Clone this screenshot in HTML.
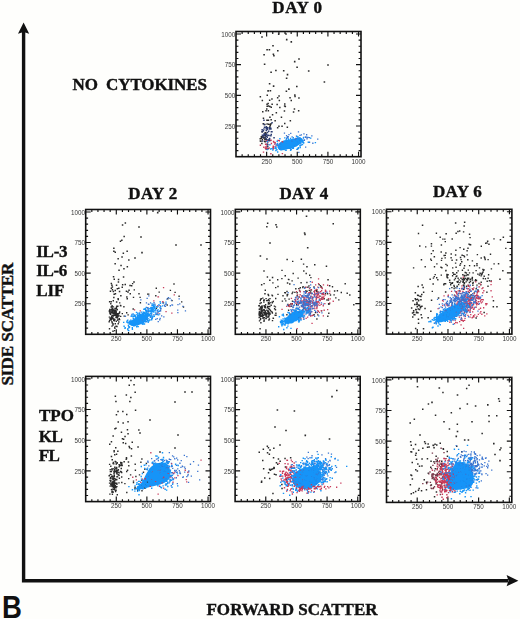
<!DOCTYPE html>
<html><head><meta charset="utf-8"><style>
html,body{margin:0;padding:0;background:#fefefc;width:520px;height:619px;overflow:hidden}
svg{display:block}
.tl{font-family:"Liberation Sans",sans-serif;font-size:6.3px;fill:#383838}
.lb{font-family:"Liberation Serif",serif;font-weight:bold;fill:#111;stroke:#111;stroke-width:0.4px}
</style></head><body>
<svg width="520" height="619" viewBox="0 0 520 619">
<defs><filter id="bl" x="0" y="0" width="1" height="1"><feGaussianBlur stdDeviation="0.35"/></filter></defs>
<g filter="url(#bl)">
<path d="M277.5 147.5C277.2 146.4 277.9 144.7 279 143.5C280.1 142.3 281.8 141.2 284 140.5C286.2 139.8 289.3 139.4 292 139C294.7 138.6 298.2 137.7 300 137.8C301.8 137.9 302.3 138.6 302.5 139.5C302.7 140.4 302.1 141.8 301 143C299.9 144.2 298.2 145.5 296 146.5C293.8 147.5 290.5 148.4 288 149C285.5 149.6 282.8 150.6 281 150.3C279.2 150.1 277.8 148.6 277.5 147.5Z" fill="#1494f8"/>
<path fill="#2b2b2b" d="M268.8 83.0h1.6v1.6h-1.6zM272.2 45.0h1.6v1.6h-1.6zM290.5 41.1h1.6v1.6h-1.6zM285.9 38.8h1.6v1.6h-1.6zM275.1 69.7h1.6v1.6h-1.6zM272.8 85.3h1.6v1.6h-1.6zM282.9 69.9h1.6v1.6h-1.6zM267.3 90.1h1.6v1.6h-1.6zM285.8 77.4h1.6v1.6h-1.6zM296.0 85.7h1.6v1.6h-1.6zM269.6 89.9h1.6v1.6h-1.6zM296.3 66.5h1.6v1.6h-1.6zM285.6 90.4h1.6v1.6h-1.6zM263.8 63.4h1.6v1.6h-1.6zM277.0 49.9h1.6v1.6h-1.6zM293.9 60.8h1.6v1.6h-1.6zM286.7 73.8h1.6v1.6h-1.6zM272.6 53.4h1.6v1.6h-1.6zM288.1 88.3h1.6v1.6h-1.6zM268.6 48.9h1.6v1.6h-1.6zM263.3 53.9h1.6v1.6h-1.6zM266.3 49.0h1.6v1.6h-1.6zM273.1 54.9h1.6v1.6h-1.6zM277.9 33.5h1.6v1.6h-1.6zM270.3 71.5h1.6v1.6h-1.6zM327.2 64.2h1.6v1.6h-1.6zM323.6 81.2h1.6v1.6h-1.6zM307.9 70.2h1.6v1.6h-1.6zM298.2 58.2h1.6v1.6h-1.6zM261.2 36.2h1.6v1.6h-1.6zM285.2 33.2h1.6v1.6h-1.6z"/>
<path fill="#2b2b2b" d="M270.5 106.4h1.5v1.5h-1.5zM262.0 111.0h1.5v1.5h-1.5zM283.9 105.3h1.5v1.5h-1.5zM266.3 103.6h1.5v1.5h-1.5zM271.4 103.6h1.5v1.5h-1.5zM276.9 97.1h1.5v1.5h-1.5zM265.3 110.1h1.5v1.5h-1.5zM268.0 123.4h1.5v1.5h-1.5zM278.2 125.5h1.5v1.5h-1.5zM278.3 95.2h1.5v1.5h-1.5zM269.5 124.5h1.5v1.5h-1.5zM271.2 98.3h1.5v1.5h-1.5zM270.4 118.9h1.5v1.5h-1.5zM269.7 123.8h1.5v1.5h-1.5zM278.6 99.8h1.5v1.5h-1.5zM267.7 105.2h1.5v1.5h-1.5zM279.1 106.7h1.5v1.5h-1.5zM269.1 105.7h1.5v1.5h-1.5zM292.8 111.3h1.5v1.5h-1.5zM266.5 94.5h1.5v1.5h-1.5zM293.7 108.2h1.5v1.5h-1.5zM266.4 123.2h1.5v1.5h-1.5zM289.3 97.1h1.5v1.5h-1.5zM283.7 110.2h1.5v1.5h-1.5zM267.6 110.1h1.5v1.5h-1.5zM289.6 120.1h1.5v1.5h-1.5zM269.2 126.1h1.5v1.5h-1.5zM262.7 117.6h1.5v1.5h-1.5zM284.0 103.3h1.5v1.5h-1.5zM280.7 116.4h1.5v1.5h-1.5zM284.6 105.7h1.5v1.5h-1.5zM266.2 119.6h1.5v1.5h-1.5zM269.2 116.6h1.5v1.5h-1.5zM286.6 126.5h1.5v1.5h-1.5zM262.5 122.9h1.5v1.5h-1.5zM294.3 95.8h1.5v1.5h-1.5zM276.4 103.8h1.5v1.5h-1.5zM284.0 122.7h1.5v1.5h-1.5zM271.8 114.1h1.5v1.5h-1.5zM266.4 105.6h1.5v1.5h-1.5zM259.6 96.1h1.5v1.5h-1.5zM267.7 119.4h1.5v1.5h-1.5zM294.1 94.3h1.5v1.5h-1.5zM298.2 97.3h1.5v1.5h-1.5zM276.9 127.0h1.5v1.5h-1.5zM274.4 119.9h1.5v1.5h-1.5zM270.3 122.9h1.5v1.5h-1.5zM297.9 110.0h1.5v1.5h-1.5zM261.6 99.8h1.5v1.5h-1.5zM275.6 111.9h1.5v1.5h-1.5zM266.0 108.3h1.5v1.5h-1.5zM268.9 99.6h1.5v1.5h-1.5zM290.5 99.7h1.5v1.5h-1.5zM267.4 102.8h1.5v1.5h-1.5zM281.3 125.4h1.5v1.5h-1.5zM265.2 132.7h1.5v1.5h-1.5zM264.4 136.7h1.5v1.5h-1.5zM261.6 138.8h1.5v1.5h-1.5zM265.6 138.6h1.5v1.5h-1.5zM265.2 132.3h1.5v1.5h-1.5zM259.6 140.2h1.5v1.5h-1.5zM264.1 138.6h1.5v1.5h-1.5zM264.4 141.0h1.5v1.5h-1.5zM264.7 133.8h1.5v1.5h-1.5zM263.8 140.5h1.5v1.5h-1.5zM260.2 140.4h1.5v1.5h-1.5zM262.2 135.9h1.5v1.5h-1.5zM262.4 136.5h1.5v1.5h-1.5zM266.8 146.0h1.5v1.5h-1.5zM264.1 123.7h1.5v1.5h-1.5zM264.4 132.0h1.5v1.5h-1.5zM261.7 130.7h1.5v1.5h-1.5zM260.7 137.4h1.5v1.5h-1.5zM260.6 135.9h1.5v1.5h-1.5zM263.0 137.2h1.5v1.5h-1.5zM261.1 142.8h1.5v1.5h-1.5zM261.5 131.1h1.5v1.5h-1.5zM265.0 135.0h1.5v1.5h-1.5zM259.5 138.1h1.5v1.5h-1.5z"/>
<path fill="#2a3a70" d="M261.4 128.9h1.5v1.5h-1.5zM262.7 129.9h1.5v1.5h-1.5zM265.5 129.7h1.5v1.5h-1.5zM267.1 139.2h1.5v1.5h-1.5zM265.7 133.6h1.5v1.5h-1.5zM266.0 135.4h1.5v1.5h-1.5zM263.4 123.7h1.5v1.5h-1.5zM263.2 128.2h1.5v1.5h-1.5zM269.7 139.8h1.5v1.5h-1.5zM265.6 126.0h1.5v1.5h-1.5zM265.5 140.3h1.5v1.5h-1.5zM269.0 127.1h1.5v1.5h-1.5zM270.1 135.0h1.5v1.5h-1.5zM270.2 128.2h1.5v1.5h-1.5zM267.2 134.4h1.5v1.5h-1.5zM265.6 127.9h1.5v1.5h-1.5zM266.8 131.7h1.5v1.5h-1.5zM266.4 143.3h1.5v1.5h-1.5zM270.6 131.0h1.5v1.5h-1.5zM266.8 145.5h1.5v1.5h-1.5zM268.0 130.5h1.5v1.5h-1.5zM265.7 126.2h1.5v1.5h-1.5zM270.5 133.7h1.5v1.5h-1.5zM267.1 143.8h1.5v1.5h-1.5zM268.4 138.4h1.5v1.5h-1.5zM261.7 140.3h1.5v1.5h-1.5zM273.3 137.0h1.5v1.5h-1.5zM265.2 148.1h1.5v1.5h-1.5zM265.2 138.0h1.5v1.5h-1.5zM262.0 136.4h1.5v1.5h-1.5zM268.8 128.3h1.5v1.5h-1.5zM266.5 127.8h1.5v1.5h-1.5zM263.7 134.4h1.5v1.5h-1.5zM266.5 139.2h1.5v1.5h-1.5zM268.2 140.0h1.5v1.5h-1.5zM270.0 127.6h1.5v1.5h-1.5zM266.5 136.4h1.5v1.5h-1.5zM262.4 134.4h1.5v1.5h-1.5zM263.8 126.5h1.5v1.5h-1.5zM263.2 119.6h1.5v1.5h-1.5zM268.3 134.8h1.5v1.5h-1.5zM267.4 148.1h1.5v1.5h-1.5zM265.4 127.1h1.5v1.5h-1.5zM264.6 133.4h1.5v1.5h-1.5zM271.3 121.9h1.5v1.5h-1.5zM266.7 128.7h1.5v1.5h-1.5zM268.9 137.8h1.5v1.5h-1.5zM267.1 127.0h1.5v1.5h-1.5zM263.4 133.0h1.5v1.5h-1.5zM271.2 131.1h1.5v1.5h-1.5zM261.4 131.0h1.5v1.5h-1.5zM261.6 134.4h1.5v1.5h-1.5zM264.2 136.2h1.5v1.5h-1.5z"/>
<path fill="#c83a5a" d="M263.1 146.5h1.4v1.4h-1.4zM272.5 145.5h1.4v1.4h-1.4zM272.3 147.1h1.4v1.4h-1.4zM266.0 147.9h1.4v1.4h-1.4zM259.7 144.6h1.4v1.4h-1.4zM279.9 145.1h1.4v1.4h-1.4zM273.1 146.1h1.4v1.4h-1.4zM272.8 140.7h1.4v1.4h-1.4zM270.7 142.7h1.4v1.4h-1.4zM270.3 139.6h1.4v1.4h-1.4zM275.3 145.3h1.4v1.4h-1.4zM270.2 153.1h1.4v1.4h-1.4zM266.5 147.9h1.4v1.4h-1.4zM274.6 142.3h1.4v1.4h-1.4zM270.7 142.8h1.4v1.4h-1.4zM265.7 148.7h1.4v1.4h-1.4zM264.9 143.6h1.4v1.4h-1.4zM277.3 139.7h1.4v1.4h-1.4zM274.1 141.7h1.4v1.4h-1.4zM282.2 141.6h1.4v1.4h-1.4zM267.1 141.7h1.4v1.4h-1.4zM265.8 147.7h1.4v1.4h-1.4zM272.7 145.5h1.4v1.4h-1.4zM278.6 140.1h1.4v1.4h-1.4zM273.9 143.4h1.4v1.4h-1.4zM272.9 141.3h1.4v1.4h-1.4zM281.6 141.1h1.4v1.4h-1.4zM265.8 140.0h1.4v1.4h-1.4zM262.8 151.4h1.4v1.4h-1.4zM265.8 144.2h1.4v1.4h-1.4zM268.4 147.3h1.4v1.4h-1.4zM272.5 148.3h1.4v1.4h-1.4zM276.4 144.0h1.4v1.4h-1.4zM272.7 147.2h1.4v1.4h-1.4zM279.4 147.2h1.4v1.4h-1.4zM265.3 146.1h1.4v1.4h-1.4zM281.7 152.9h1.4v1.4h-1.4zM265.4 146.3h1.4v1.4h-1.4zM277.3 144.5h1.4v1.4h-1.4zM264.7 147.6h1.4v1.4h-1.4z"/>
<path fill="#3a74d0" d="M312.2 142.6h1.3v1.3h-1.3zM303.3 133.2h1.3v1.3h-1.3zM291.2 140.4h1.3v1.3h-1.3zM287.1 136.8h1.3v1.3h-1.3zM287.9 145.2h1.3v1.3h-1.3zM288.3 133.9h1.3v1.3h-1.3zM298.5 137.4h1.3v1.3h-1.3zM302.8 137.5h1.3v1.3h-1.3zM275.3 143.4h1.3v1.3h-1.3zM296.8 148.7h1.3v1.3h-1.3zM286.6 147.2h1.3v1.3h-1.3zM300.7 134.2h1.3v1.3h-1.3zM305.0 146.4h1.3v1.3h-1.3zM287.6 135.9h1.3v1.3h-1.3zM290.1 132.7h1.3v1.3h-1.3zM285.9 134.9h1.3v1.3h-1.3zM299.0 139.5h1.3v1.3h-1.3zM281.5 144.0h1.3v1.3h-1.3zM283.8 132.4h1.3v1.3h-1.3zM289.6 142.1h1.3v1.3h-1.3zM306.0 136.4h1.3v1.3h-1.3zM317.1 138.4h1.3v1.3h-1.3zM295.3 137.8h1.3v1.3h-1.3zM285.1 144.8h1.3v1.3h-1.3zM296.4 141.5h1.3v1.3h-1.3zM286.8 136.1h1.3v1.3h-1.3zM300.4 144.3h1.3v1.3h-1.3zM285.6 141.9h1.3v1.3h-1.3zM292.6 142.8h1.3v1.3h-1.3zM296.1 144.3h1.3v1.3h-1.3zM299.3 134.7h1.3v1.3h-1.3zM294.6 139.1h1.3v1.3h-1.3zM306.0 134.1h1.3v1.3h-1.3zM295.8 135.4h1.3v1.3h-1.3zM279.5 143.2h1.3v1.3h-1.3zM303.8 139.2h1.3v1.3h-1.3zM293.7 145.0h1.3v1.3h-1.3zM290.4 145.9h1.3v1.3h-1.3zM308.7 136.9h1.3v1.3h-1.3zM286.0 137.6h1.3v1.3h-1.3zM298.2 151.8h1.3v1.3h-1.3zM290.5 148.9h1.3v1.3h-1.3zM307.3 136.8h1.3v1.3h-1.3zM291.5 136.3h1.3v1.3h-1.3zM297.1 137.3h1.3v1.3h-1.3zM283.2 142.6h1.3v1.3h-1.3zM308.9 141.6h1.3v1.3h-1.3zM286.5 144.8h1.3v1.3h-1.3zM303.7 139.6h1.3v1.3h-1.3zM305.0 136.6h1.3v1.3h-1.3zM306.4 138.1h1.3v1.3h-1.3zM311.2 135.3h1.3v1.3h-1.3zM285.0 141.5h1.3v1.3h-1.3zM298.8 138.3h1.3v1.3h-1.3zM296.9 141.2h1.3v1.3h-1.3zM297.8 131.3h1.3v1.3h-1.3zM304.8 136.3h1.3v1.3h-1.3zM296.1 138.0h1.3v1.3h-1.3zM287.3 136.2h1.3v1.3h-1.3zM294.4 138.8h1.3v1.3h-1.3z"/>
<path fill="#1494f8" d="M280.4 144.3h1.4v1.4h-1.4zM284.0 146.4h1.4v1.4h-1.4zM286.5 143.9h1.4v1.4h-1.4zM287.4 146.7h1.4v1.4h-1.4zM285.4 149.5h1.4v1.4h-1.4zM296.8 138.6h1.4v1.4h-1.4zM290.2 142.4h1.4v1.4h-1.4zM291.6 144.0h1.4v1.4h-1.4zM290.3 141.4h1.4v1.4h-1.4zM283.1 142.3h1.4v1.4h-1.4zM281.7 144.0h1.4v1.4h-1.4zM295.2 141.4h1.4v1.4h-1.4zM285.7 142.3h1.4v1.4h-1.4zM275.1 147.3h1.4v1.4h-1.4zM272.1 149.4h1.4v1.4h-1.4zM291.0 145.2h1.4v1.4h-1.4zM283.4 146.6h1.4v1.4h-1.4zM289.0 146.9h1.4v1.4h-1.4zM283.7 140.7h1.4v1.4h-1.4zM285.5 143.9h1.4v1.4h-1.4zM287.6 144.3h1.4v1.4h-1.4zM279.3 147.0h1.4v1.4h-1.4zM287.7 139.1h1.4v1.4h-1.4zM297.6 147.0h1.4v1.4h-1.4zM293.7 139.9h1.4v1.4h-1.4zM275.3 147.1h1.4v1.4h-1.4zM278.7 147.8h1.4v1.4h-1.4zM279.0 148.7h1.4v1.4h-1.4zM286.5 142.0h1.4v1.4h-1.4zM295.2 140.6h1.4v1.4h-1.4zM291.5 144.0h1.4v1.4h-1.4zM275.4 148.0h1.4v1.4h-1.4zM289.8 145.9h1.4v1.4h-1.4zM295.1 142.0h1.4v1.4h-1.4zM284.9 142.3h1.4v1.4h-1.4zM302.9 136.7h1.4v1.4h-1.4zM284.7 149.4h1.4v1.4h-1.4zM297.2 137.8h1.4v1.4h-1.4zM307.6 141.5h1.4v1.4h-1.4zM279.0 146.4h1.4v1.4h-1.4zM286.7 146.1h1.4v1.4h-1.4zM293.9 145.2h1.4v1.4h-1.4zM314.7 141.9h1.4v1.4h-1.4zM274.8 146.3h1.4v1.4h-1.4zM293.5 143.7h1.4v1.4h-1.4zM289.9 137.7h1.4v1.4h-1.4zM285.5 144.3h1.4v1.4h-1.4zM281.7 142.4h1.4v1.4h-1.4zM284.6 144.0h1.4v1.4h-1.4zM287.2 147.4h1.4v1.4h-1.4zM278.9 145.9h1.4v1.4h-1.4zM301.8 143.9h1.4v1.4h-1.4zM280.0 144.8h1.4v1.4h-1.4zM285.7 145.3h1.4v1.4h-1.4zM283.4 143.5h1.4v1.4h-1.4zM284.1 137.2h1.4v1.4h-1.4zM289.1 141.4h1.4v1.4h-1.4zM282.7 144.0h1.4v1.4h-1.4zM287.0 144.3h1.4v1.4h-1.4zM302.3 140.7h1.4v1.4h-1.4zM297.0 141.4h1.4v1.4h-1.4zM287.1 146.6h1.4v1.4h-1.4zM296.3 143.7h1.4v1.4h-1.4zM282.6 143.7h1.4v1.4h-1.4zM291.1 145.5h1.4v1.4h-1.4zM276.5 140.5h1.4v1.4h-1.4zM279.7 144.6h1.4v1.4h-1.4zM281.9 144.6h1.4v1.4h-1.4zM299.2 145.0h1.4v1.4h-1.4zM290.3 141.7h1.4v1.4h-1.4zM292.2 138.6h1.4v1.4h-1.4zM290.1 143.8h1.4v1.4h-1.4zM292.7 147.6h1.4v1.4h-1.4zM292.0 142.3h1.4v1.4h-1.4zM294.7 142.0h1.4v1.4h-1.4zM289.9 142.7h1.4v1.4h-1.4zM281.7 145.2h1.4v1.4h-1.4zM283.4 148.4h1.4v1.4h-1.4zM299.5 146.9h1.4v1.4h-1.4zM300.1 142.5h1.4v1.4h-1.4zM293.1 142.3h1.4v1.4h-1.4zM277.0 151.3h1.4v1.4h-1.4zM301.2 141.2h1.4v1.4h-1.4zM291.4 143.2h1.4v1.4h-1.4zM288.0 142.7h1.4v1.4h-1.4zM288.8 142.6h1.4v1.4h-1.4zM286.0 144.8h1.4v1.4h-1.4zM302.4 139.8h1.4v1.4h-1.4zM302.2 141.9h1.4v1.4h-1.4zM280.5 145.6h1.4v1.4h-1.4zM287.6 145.4h1.4v1.4h-1.4zM291.0 142.0h1.4v1.4h-1.4zM298.7 140.9h1.4v1.4h-1.4zM269.9 148.3h1.4v1.4h-1.4zM296.1 142.2h1.4v1.4h-1.4zM301.9 141.0h1.4v1.4h-1.4zM286.9 147.3h1.4v1.4h-1.4zM287.8 140.7h1.4v1.4h-1.4zM297.4 136.2h1.4v1.4h-1.4zM292.1 144.9h1.4v1.4h-1.4zM278.1 145.1h1.4v1.4h-1.4zM280.3 149.2h1.4v1.4h-1.4zM280.6 145.0h1.4v1.4h-1.4zM276.9 142.7h1.4v1.4h-1.4zM289.9 149.6h1.4v1.4h-1.4zM284.9 145.5h1.4v1.4h-1.4zM288.8 142.3h1.4v1.4h-1.4zM293.8 140.3h1.4v1.4h-1.4zM303.0 142.1h1.4v1.4h-1.4zM290.0 141.4h1.4v1.4h-1.4zM274.3 147.7h1.4v1.4h-1.4zM300.3 144.4h1.4v1.4h-1.4zM287.0 140.0h1.4v1.4h-1.4zM297.6 140.6h1.4v1.4h-1.4zM285.4 145.6h1.4v1.4h-1.4zM292.0 147.6h1.4v1.4h-1.4zM288.2 146.3h1.4v1.4h-1.4zM288.2 142.4h1.4v1.4h-1.4zM299.5 145.4h1.4v1.4h-1.4zM283.3 143.7h1.4v1.4h-1.4zM289.9 142.8h1.4v1.4h-1.4zM290.6 144.2h1.4v1.4h-1.4zM285.0 141.2h1.4v1.4h-1.4zM292.1 146.3h1.4v1.4h-1.4zM266.5 148.9h1.4v1.4h-1.4zM276.6 144.5h1.4v1.4h-1.4zM284.4 141.1h1.4v1.4h-1.4zM292.3 143.9h1.4v1.4h-1.4zM295.8 144.0h1.4v1.4h-1.4zM294.9 141.1h1.4v1.4h-1.4zM293.2 142.0h1.4v1.4h-1.4zM286.1 145.7h1.4v1.4h-1.4zM298.2 141.4h1.4v1.4h-1.4zM285.5 138.9h1.4v1.4h-1.4zM297.9 143.5h1.4v1.4h-1.4zM271.3 147.9h1.4v1.4h-1.4zM281.6 147.1h1.4v1.4h-1.4zM283.7 142.4h1.4v1.4h-1.4zM287.4 137.7h1.4v1.4h-1.4zM269.2 144.1h1.4v1.4h-1.4zM295.2 143.0h1.4v1.4h-1.4zM297.7 147.6h1.4v1.4h-1.4zM296.2 148.7h1.4v1.4h-1.4zM284.8 145.2h1.4v1.4h-1.4zM299.2 137.1h1.4v1.4h-1.4zM284.2 143.5h1.4v1.4h-1.4zM296.1 143.3h1.4v1.4h-1.4zM288.5 144.8h1.4v1.4h-1.4zM288.6 143.8h1.4v1.4h-1.4zM288.2 147.5h1.4v1.4h-1.4zM288.0 141.1h1.4v1.4h-1.4zM296.1 135.8h1.4v1.4h-1.4zM299.5 138.7h1.4v1.4h-1.4zM299.2 138.0h1.4v1.4h-1.4zM297.1 148.1h1.4v1.4h-1.4zM293.8 141.9h1.4v1.4h-1.4zM291.4 138.9h1.4v1.4h-1.4zM302.8 142.3h1.4v1.4h-1.4zM285.8 147.0h1.4v1.4h-1.4zM283.8 144.7h1.4v1.4h-1.4zM289.2 144.0h1.4v1.4h-1.4zM276.2 149.1h1.4v1.4h-1.4zM287.1 145.3h1.4v1.4h-1.4zM287.8 141.7h1.4v1.4h-1.4zM281.0 146.9h1.4v1.4h-1.4zM284.7 147.0h1.4v1.4h-1.4zM294.3 143.3h1.4v1.4h-1.4zM287.4 146.3h1.4v1.4h-1.4zM289.6 145.0h1.4v1.4h-1.4zM296.6 141.2h1.4v1.4h-1.4zM283.8 144.2h1.4v1.4h-1.4zM280.1 147.1h1.4v1.4h-1.4zM288.0 142.1h1.4v1.4h-1.4zM292.7 146.0h1.4v1.4h-1.4zM275.2 149.9h1.4v1.4h-1.4zM292.6 136.9h1.4v1.4h-1.4zM286.2 143.9h1.4v1.4h-1.4zM285.0 142.2h1.4v1.4h-1.4zM281.6 143.2h1.4v1.4h-1.4zM287.3 144.2h1.4v1.4h-1.4zM296.1 141.5h1.4v1.4h-1.4zM293.2 144.2h1.4v1.4h-1.4zM295.2 143.1h1.4v1.4h-1.4zM286.1 145.1h1.4v1.4h-1.4zM300.7 138.7h1.4v1.4h-1.4zM298.5 140.4h1.4v1.4h-1.4zM289.4 147.5h1.4v1.4h-1.4zM266.7 141.1h1.4v1.4h-1.4zM290.2 148.1h1.4v1.4h-1.4zM310.0 137.4h1.4v1.4h-1.4zM289.0 146.8h1.4v1.4h-1.4zM279.2 138.1h1.4v1.4h-1.4zM301.9 139.5h1.4v1.4h-1.4zM284.4 146.9h1.4v1.4h-1.4zM292.7 143.1h1.4v1.4h-1.4zM295.3 145.0h1.4v1.4h-1.4zM276.7 143.6h1.4v1.4h-1.4zM289.4 141.8h1.4v1.4h-1.4zM297.7 139.7h1.4v1.4h-1.4z"/>
<ellipse cx="139" cy="320.5" rx="10" ry="4.2" transform="rotate(-25 139 320.5)" fill="#1494f8"/>
<path fill="#2b2b2b" d="M124.6 222.3h1.5v1.5h-1.5zM123.4 235.8h1.5v1.5h-1.5zM113.1 247.4h1.5v1.5h-1.5zM110.6 282.8h1.5v1.5h-1.5zM123.2 268.0h1.5v1.5h-1.5zM117.8 278.7h1.5v1.5h-1.5zM121.3 256.3h1.5v1.5h-1.5zM112.8 276.0h1.5v1.5h-1.5zM113.1 250.6h1.5v1.5h-1.5zM113.5 278.4h1.5v1.5h-1.5zM124.5 283.7h1.5v1.5h-1.5zM114.4 263.1h1.5v1.5h-1.5zM114.5 251.6h1.5v1.5h-1.5zM126.6 266.0h1.5v1.5h-1.5zM117.7 281.2h1.5v1.5h-1.5zM126.4 250.5h1.5v1.5h-1.5zM120.3 264.7h1.5v1.5h-1.5zM121.8 224.2h1.5v1.5h-1.5zM117.4 257.9h1.5v1.5h-1.5zM119.7 240.4h1.5v1.5h-1.5zM118.3 269.5h1.5v1.5h-1.5zM121.1 239.6h1.5v1.5h-1.5zM128.1 259.2h1.5v1.5h-1.5zM122.6 252.6h1.5v1.5h-1.5zM121.9 284.1h1.5v1.5h-1.5zM122.8 276.2h1.5v1.5h-1.5zM111.2 284.5h1.5v1.5h-1.5zM129.3 284.8h1.5v1.5h-1.5zM126.1 296.2h1.5v1.5h-1.5zM111.7 289.1h1.5v1.5h-1.5zM125.7 290.6h1.5v1.5h-1.5zM129.5 293.0h1.5v1.5h-1.5zM115.9 301.3h1.5v1.5h-1.5zM121.5 286.4h1.5v1.5h-1.5zM112.6 290.7h1.5v1.5h-1.5zM117.4 298.0h1.5v1.5h-1.5zM120.1 294.9h1.5v1.5h-1.5zM118.8 290.8h1.5v1.5h-1.5zM113.4 293.4h1.5v1.5h-1.5zM130.9 284.9h1.5v1.5h-1.5zM109.7 290.5h1.5v1.5h-1.5zM113.1 296.7h1.5v1.5h-1.5zM115.8 284.6h1.5v1.5h-1.5zM114.7 293.0h1.5v1.5h-1.5zM110.6 287.4h1.5v1.5h-1.5zM118.1 287.6h1.5v1.5h-1.5zM114.5 289.7h1.5v1.5h-1.5zM116.6 288.1h1.5v1.5h-1.5zM111.6 286.3h1.5v1.5h-1.5zM128.3 289.4h1.5v1.5h-1.5zM126.5 298.0h1.5v1.5h-1.5z"/>
<path fill="#2b2b2b" d="M113.3 313.2h1.4v1.4h-1.4zM118.7 312.3h1.4v1.4h-1.4zM109.1 308.7h1.4v1.4h-1.4zM111.5 317.4h1.4v1.4h-1.4zM109.6 309.2h1.4v1.4h-1.4zM111.9 317.9h1.4v1.4h-1.4zM109.2 312.1h1.4v1.4h-1.4zM112.2 311.0h1.4v1.4h-1.4zM118.9 318.9h1.4v1.4h-1.4zM110.9 308.7h1.4v1.4h-1.4zM114.2 313.2h1.4v1.4h-1.4zM115.3 314.1h1.4v1.4h-1.4zM111.2 317.8h1.4v1.4h-1.4zM113.9 310.1h1.4v1.4h-1.4zM110.8 311.8h1.4v1.4h-1.4zM109.9 313.5h1.4v1.4h-1.4zM110.9 317.9h1.4v1.4h-1.4zM114.1 319.0h1.4v1.4h-1.4zM109.3 309.7h1.4v1.4h-1.4zM117.1 305.6h1.4v1.4h-1.4zM111.7 311.4h1.4v1.4h-1.4zM110.5 301.0h1.4v1.4h-1.4zM112.5 315.1h1.4v1.4h-1.4zM116.7 317.2h1.4v1.4h-1.4zM108.5 321.1h1.4v1.4h-1.4zM116.5 316.8h1.4v1.4h-1.4zM118.6 317.9h1.4v1.4h-1.4zM119.0 302.2h1.4v1.4h-1.4zM112.8 309.6h1.4v1.4h-1.4zM110.0 317.5h1.4v1.4h-1.4zM115.7 314.4h1.4v1.4h-1.4zM110.1 303.0h1.4v1.4h-1.4zM119.0 311.3h1.4v1.4h-1.4zM117.3 314.2h1.4v1.4h-1.4zM115.4 325.5h1.4v1.4h-1.4zM116.4 309.1h1.4v1.4h-1.4zM110.9 315.4h1.4v1.4h-1.4zM110.9 315.9h1.4v1.4h-1.4zM110.1 317.2h1.4v1.4h-1.4zM111.5 322.0h1.4v1.4h-1.4zM114.3 313.7h1.4v1.4h-1.4zM115.8 306.5h1.4v1.4h-1.4zM115.9 314.3h1.4v1.4h-1.4zM127.4 314.2h1.4v1.4h-1.4zM110.5 319.4h1.4v1.4h-1.4zM117.3 318.7h1.4v1.4h-1.4zM109.1 310.1h1.4v1.4h-1.4zM111.2 318.3h1.4v1.4h-1.4zM117.6 313.1h1.4v1.4h-1.4zM113.3 319.3h1.4v1.4h-1.4zM112.7 315.0h1.4v1.4h-1.4zM111.6 315.1h1.4v1.4h-1.4zM116.3 313.3h1.4v1.4h-1.4zM109.9 318.5h1.4v1.4h-1.4zM113.9 329.9h1.4v1.4h-1.4zM123.5 315.4h1.4v1.4h-1.4zM111.5 307.7h1.4v1.4h-1.4zM109.3 312.8h1.4v1.4h-1.4zM115.8 315.9h1.4v1.4h-1.4zM112.5 313.3h1.4v1.4h-1.4zM108.8 328.0h1.4v1.4h-1.4zM112.3 324.3h1.4v1.4h-1.4zM121.6 312.9h1.4v1.4h-1.4zM111.3 325.4h1.4v1.4h-1.4zM111.4 304.9h1.4v1.4h-1.4zM111.7 314.9h1.4v1.4h-1.4zM110.5 306.3h1.4v1.4h-1.4zM112.1 312.4h1.4v1.4h-1.4zM119.8 304.8h1.4v1.4h-1.4zM114.2 327.7h1.4v1.4h-1.4zM118.0 313.2h1.4v1.4h-1.4zM117.5 323.1h1.4v1.4h-1.4zM111.2 310.3h1.4v1.4h-1.4zM123.2 306.0h1.4v1.4h-1.4zM112.7 315.3h1.4v1.4h-1.4zM112.2 308.3h1.4v1.4h-1.4zM116.1 305.5h1.4v1.4h-1.4zM112.5 310.2h1.4v1.4h-1.4zM120.0 315.7h1.4v1.4h-1.4zM110.8 317.2h1.4v1.4h-1.4zM114.7 310.0h1.4v1.4h-1.4zM115.5 312.1h1.4v1.4h-1.4zM113.6 320.0h1.4v1.4h-1.4zM113.8 310.8h1.4v1.4h-1.4zM117.1 314.8h1.4v1.4h-1.4zM117.6 298.8h1.4v1.4h-1.4zM116.6 308.7h1.4v1.4h-1.4zM108.7 316.4h1.4v1.4h-1.4zM115.5 314.0h1.4v1.4h-1.4zM117.0 313.0h1.4v1.4h-1.4zM112.3 322.9h1.4v1.4h-1.4zM115.6 312.4h1.4v1.4h-1.4zM115.6 308.0h1.4v1.4h-1.4zM117.5 315.2h1.4v1.4h-1.4zM112.5 315.2h1.4v1.4h-1.4zM114.3 307.7h1.4v1.4h-1.4zM113.0 319.5h1.4v1.4h-1.4zM112.4 323.4h1.4v1.4h-1.4zM109.4 310.8h1.4v1.4h-1.4zM110.6 309.2h1.4v1.4h-1.4zM111.2 320.9h1.4v1.4h-1.4zM115.2 310.9h1.4v1.4h-1.4zM114.9 310.0h1.4v1.4h-1.4zM115.5 310.8h1.4v1.4h-1.4zM111.6 315.3h1.4v1.4h-1.4zM118.4 315.2h1.4v1.4h-1.4zM110.1 313.1h1.4v1.4h-1.4zM115.6 320.6h1.4v1.4h-1.4zM114.0 326.4h1.4v1.4h-1.4zM108.8 310.8h1.4v1.4h-1.4zM108.9 319.7h1.4v1.4h-1.4zM115.5 315.5h1.4v1.4h-1.4zM112.3 330.5h1.4v1.4h-1.4zM113.3 309.2h1.4v1.4h-1.4zM126.0 312.1h1.4v1.4h-1.4zM114.7 314.6h1.4v1.4h-1.4zM112.7 306.2h1.4v1.4h-1.4zM115.4 312.9h1.4v1.4h-1.4zM109.4 317.9h1.4v1.4h-1.4zM111.3 306.1h1.4v1.4h-1.4zM114.1 314.7h1.4v1.4h-1.4zM112.0 310.7h1.4v1.4h-1.4zM111.3 309.1h1.4v1.4h-1.4zM112.6 300.1h1.4v1.4h-1.4zM120.1 305.1h1.4v1.4h-1.4zM111.8 317.1h1.4v1.4h-1.4zM114.6 323.1h1.4v1.4h-1.4zM112.3 317.6h1.4v1.4h-1.4zM110.7 311.4h1.4v1.4h-1.4zM115.1 307.8h1.4v1.4h-1.4zM113.6 312.0h1.4v1.4h-1.4zM115.3 316.9h1.4v1.4h-1.4zM116.3 325.8h1.4v1.4h-1.4zM112.0 317.4h1.4v1.4h-1.4zM113.3 318.2h1.4v1.4h-1.4zM108.6 310.3h1.4v1.4h-1.4zM118.1 321.3h1.4v1.4h-1.4zM117.3 315.9h1.4v1.4h-1.4zM117.1 319.6h1.4v1.4h-1.4zM116.1 315.3h1.4v1.4h-1.4zM108.9 301.0h1.4v1.4h-1.4zM114.3 312.0h1.4v1.4h-1.4zM114.1 309.3h1.4v1.4h-1.4zM133.6 289.2h1.4v1.4h-1.4zM148.0 293.4h1.4v1.4h-1.4zM139.7 302.1h1.4v1.4h-1.4zM171.3 299.9h1.4v1.4h-1.4zM178.4 295.5h1.4v1.4h-1.4zM166.5 304.3h1.4v1.4h-1.4zM155.6 287.5h1.4v1.4h-1.4zM182.8 306.3h1.4v1.4h-1.4zM138.3 293.0h1.4v1.4h-1.4zM131.9 282.9h1.4v1.4h-1.4zM139.4 296.7h1.4v1.4h-1.4zM155.1 295.1h1.4v1.4h-1.4zM169.7 289.7h1.4v1.4h-1.4zM132.8 296.7h1.4v1.4h-1.4zM181.0 301.2h1.4v1.4h-1.4zM155.7 307.6h1.4v1.4h-1.4zM173.3 283.3h1.4v1.4h-1.4zM167.1 298.0h1.4v1.4h-1.4zM132.5 308.3h1.4v1.4h-1.4zM174.4 291.7h1.4v1.4h-1.4zM146.6 306.9h1.4v1.4h-1.4zM158.5 291.4h1.4v1.4h-1.4zM162.8 302.2h1.4v1.4h-1.4zM147.0 293.4h1.4v1.4h-1.4z"/>
<path fill="#c83a5a" d="M159.3 304.9h1.3v1.3h-1.3zM155.7 313.8h1.3v1.3h-1.3zM157.4 296.2h1.3v1.3h-1.3zM162.9 286.9h1.3v1.3h-1.3zM153.2 300.3h1.3v1.3h-1.3zM165.4 311.0h1.3v1.3h-1.3zM147.7 314.7h1.3v1.3h-1.3zM157.4 312.4h1.3v1.3h-1.3zM147.0 307.1h1.3v1.3h-1.3zM139.6 310.2h1.3v1.3h-1.3zM162.3 301.1h1.3v1.3h-1.3zM156.9 305.2h1.3v1.3h-1.3zM171.2 312.5h1.3v1.3h-1.3zM161.9 301.4h1.3v1.3h-1.3zM141.8 320.3h1.3v1.3h-1.3zM157.8 296.2h1.3v1.3h-1.3zM133.9 309.2h1.3v1.3h-1.3zM147.5 310.7h1.3v1.3h-1.3zM173.6 294.3h1.3v1.3h-1.3z"/>
<path fill="#3a74d0" d="M147.8 303.6h1.3v1.3h-1.3zM148.2 295.3h1.3v1.3h-1.3zM151.2 318.0h1.3v1.3h-1.3zM177.1 309.5h1.3v1.3h-1.3zM169.7 305.1h1.3v1.3h-1.3zM139.3 317.9h1.3v1.3h-1.3zM177.3 303.9h1.3v1.3h-1.3zM154.9 309.0h1.3v1.3h-1.3zM156.8 313.7h1.3v1.3h-1.3zM151.5 304.5h1.3v1.3h-1.3zM165.4 303.1h1.3v1.3h-1.3zM164.1 305.5h1.3v1.3h-1.3zM145.8 302.2h1.3v1.3h-1.3zM154.2 303.6h1.3v1.3h-1.3zM140.6 317.8h1.3v1.3h-1.3zM179.1 303.2h1.3v1.3h-1.3zM140.2 299.3h1.3v1.3h-1.3zM146.7 318.6h1.3v1.3h-1.3zM147.7 314.6h1.3v1.3h-1.3zM159.0 313.2h1.3v1.3h-1.3zM164.8 305.7h1.3v1.3h-1.3zM152.6 314.3h1.3v1.3h-1.3zM153.4 302.0h1.3v1.3h-1.3zM151.2 309.7h1.3v1.3h-1.3zM169.3 297.7h1.3v1.3h-1.3zM157.5 305.5h1.3v1.3h-1.3zM137.4 323.6h1.3v1.3h-1.3zM177.2 312.0h1.3v1.3h-1.3zM160.0 308.1h1.3v1.3h-1.3zM178.5 298.3h1.3v1.3h-1.3zM149.9 316.5h1.3v1.3h-1.3zM150.7 314.2h1.3v1.3h-1.3zM157.6 321.0h1.3v1.3h-1.3zM139.9 319.2h1.3v1.3h-1.3zM146.5 297.8h1.3v1.3h-1.3zM171.3 304.2h1.3v1.3h-1.3zM163.7 304.5h1.3v1.3h-1.3zM124.8 315.6h1.3v1.3h-1.3zM171.9 304.4h1.3v1.3h-1.3zM160.4 308.1h1.3v1.3h-1.3zM165.2 303.8h1.3v1.3h-1.3zM159.5 317.7h1.3v1.3h-1.3zM159.0 310.7h1.3v1.3h-1.3zM157.4 311.4h1.3v1.3h-1.3zM156.8 310.1h1.3v1.3h-1.3zM145.7 320.9h1.3v1.3h-1.3zM166.3 298.5h1.3v1.3h-1.3zM161.0 315.2h1.3v1.3h-1.3zM160.1 306.3h1.3v1.3h-1.3zM163.2 316.2h1.3v1.3h-1.3zM155.1 318.8h1.3v1.3h-1.3zM156.2 312.5h1.3v1.3h-1.3zM138.6 312.8h1.3v1.3h-1.3zM159.7 309.8h1.3v1.3h-1.3zM160.0 310.2h1.3v1.3h-1.3zM149.9 302.2h1.3v1.3h-1.3zM134.2 315.2h1.3v1.3h-1.3zM170.8 299.5h1.3v1.3h-1.3zM156.6 317.9h1.3v1.3h-1.3zM159.1 319.1h1.3v1.3h-1.3zM150.6 306.7h1.3v1.3h-1.3zM147.5 309.1h1.3v1.3h-1.3zM148.2 303.8h1.3v1.3h-1.3zM142.8 315.8h1.3v1.3h-1.3zM150.4 316.6h1.3v1.3h-1.3zM184.8 310.3h1.3v1.3h-1.3zM167.7 296.9h1.3v1.3h-1.3zM182.3 305.7h1.3v1.3h-1.3zM148.0 311.3h1.3v1.3h-1.3zM131.3 313.8h1.3v1.3h-1.3z"/>
<path fill="#1494f8" d="M136.7 316.4h1.4v1.4h-1.4zM134.4 319.2h1.4v1.4h-1.4zM144.7 317.9h1.4v1.4h-1.4zM139.1 315.0h1.4v1.4h-1.4zM150.0 315.4h1.4v1.4h-1.4zM134.9 316.0h1.4v1.4h-1.4zM128.2 326.3h1.4v1.4h-1.4zM134.4 322.9h1.4v1.4h-1.4zM142.6 315.8h1.4v1.4h-1.4zM130.1 323.1h1.4v1.4h-1.4zM134.9 319.9h1.4v1.4h-1.4zM146.6 320.1h1.4v1.4h-1.4zM130.2 321.7h1.4v1.4h-1.4zM145.4 312.6h1.4v1.4h-1.4zM143.4 317.4h1.4v1.4h-1.4zM137.9 322.8h1.4v1.4h-1.4zM140.7 318.7h1.4v1.4h-1.4zM136.8 319.2h1.4v1.4h-1.4zM139.1 321.9h1.4v1.4h-1.4zM137.1 316.9h1.4v1.4h-1.4zM139.5 315.6h1.4v1.4h-1.4zM138.1 314.8h1.4v1.4h-1.4zM136.9 323.7h1.4v1.4h-1.4zM130.5 315.6h1.4v1.4h-1.4zM153.3 306.6h1.4v1.4h-1.4zM133.1 322.5h1.4v1.4h-1.4zM140.0 319.3h1.4v1.4h-1.4zM151.3 317.8h1.4v1.4h-1.4zM148.0 315.1h1.4v1.4h-1.4zM134.7 319.1h1.4v1.4h-1.4zM156.5 313.8h1.4v1.4h-1.4zM154.4 313.9h1.4v1.4h-1.4zM139.9 321.9h1.4v1.4h-1.4zM133.2 325.1h1.4v1.4h-1.4zM145.6 316.7h1.4v1.4h-1.4zM137.2 314.6h1.4v1.4h-1.4zM136.9 316.0h1.4v1.4h-1.4zM137.5 325.9h1.4v1.4h-1.4zM136.3 320.1h1.4v1.4h-1.4zM139.1 312.3h1.4v1.4h-1.4zM146.9 314.5h1.4v1.4h-1.4zM127.2 328.0h1.4v1.4h-1.4zM124.3 327.6h1.4v1.4h-1.4zM147.3 314.1h1.4v1.4h-1.4zM131.3 314.8h1.4v1.4h-1.4zM145.4 315.3h1.4v1.4h-1.4zM141.0 316.9h1.4v1.4h-1.4zM151.6 317.4h1.4v1.4h-1.4zM146.9 314.3h1.4v1.4h-1.4zM138.4 318.6h1.4v1.4h-1.4zM138.7 317.1h1.4v1.4h-1.4zM142.5 316.2h1.4v1.4h-1.4zM146.1 315.6h1.4v1.4h-1.4zM135.3 318.7h1.4v1.4h-1.4zM128.5 321.1h1.4v1.4h-1.4zM139.5 314.1h1.4v1.4h-1.4zM140.3 318.2h1.4v1.4h-1.4zM138.9 317.4h1.4v1.4h-1.4zM133.0 320.6h1.4v1.4h-1.4zM142.6 311.4h1.4v1.4h-1.4zM127.2 322.0h1.4v1.4h-1.4zM134.4 314.5h1.4v1.4h-1.4zM150.9 315.3h1.4v1.4h-1.4zM134.3 324.9h1.4v1.4h-1.4zM144.0 317.2h1.4v1.4h-1.4zM143.5 315.7h1.4v1.4h-1.4zM144.1 317.3h1.4v1.4h-1.4zM126.6 320.1h1.4v1.4h-1.4zM145.7 310.4h1.4v1.4h-1.4zM143.1 320.2h1.4v1.4h-1.4zM142.5 313.1h1.4v1.4h-1.4zM142.6 316.4h1.4v1.4h-1.4zM140.0 315.7h1.4v1.4h-1.4zM145.7 306.7h1.4v1.4h-1.4zM149.7 310.5h1.4v1.4h-1.4zM128.5 326.8h1.4v1.4h-1.4zM136.8 324.0h1.4v1.4h-1.4zM135.8 311.7h1.4v1.4h-1.4zM123.0 321.7h1.4v1.4h-1.4zM150.0 310.6h1.4v1.4h-1.4zM136.4 323.2h1.4v1.4h-1.4zM146.2 318.7h1.4v1.4h-1.4zM144.2 321.0h1.4v1.4h-1.4zM141.3 322.9h1.4v1.4h-1.4zM132.8 320.3h1.4v1.4h-1.4zM136.6 316.4h1.4v1.4h-1.4zM142.4 319.7h1.4v1.4h-1.4zM145.7 314.0h1.4v1.4h-1.4zM139.1 318.5h1.4v1.4h-1.4zM137.2 318.2h1.4v1.4h-1.4zM138.2 317.5h1.4v1.4h-1.4zM151.0 315.2h1.4v1.4h-1.4zM141.2 313.9h1.4v1.4h-1.4zM133.3 315.6h1.4v1.4h-1.4zM130.7 320.5h1.4v1.4h-1.4zM137.8 319.4h1.4v1.4h-1.4zM133.7 320.2h1.4v1.4h-1.4zM137.4 318.8h1.4v1.4h-1.4zM147.3 307.3h1.4v1.4h-1.4zM144.2 312.7h1.4v1.4h-1.4zM143.6 319.6h1.4v1.4h-1.4zM143.1 315.6h1.4v1.4h-1.4zM151.7 309.4h1.4v1.4h-1.4zM134.1 324.8h1.4v1.4h-1.4zM142.9 314.5h1.4v1.4h-1.4zM140.1 320.3h1.4v1.4h-1.4zM141.8 317.6h1.4v1.4h-1.4zM141.6 318.4h1.4v1.4h-1.4zM139.7 321.5h1.4v1.4h-1.4zM147.5 321.5h1.4v1.4h-1.4zM127.1 329.0h1.4v1.4h-1.4zM141.3 314.3h1.4v1.4h-1.4zM143.7 312.1h1.4v1.4h-1.4zM133.3 320.3h1.4v1.4h-1.4zM133.4 320.8h1.4v1.4h-1.4zM154.9 312.3h1.4v1.4h-1.4zM134.2 321.0h1.4v1.4h-1.4zM138.1 319.5h1.4v1.4h-1.4zM132.7 316.0h1.4v1.4h-1.4zM136.1 319.7h1.4v1.4h-1.4zM136.5 321.5h1.4v1.4h-1.4zM128.0 329.9h1.4v1.4h-1.4zM158.3 310.7h1.4v1.4h-1.4zM135.5 320.5h1.4v1.4h-1.4zM141.5 313.0h1.4v1.4h-1.4zM139.9 317.8h1.4v1.4h-1.4zM150.0 312.5h1.4v1.4h-1.4zM145.1 314.6h1.4v1.4h-1.4zM148.6 313.7h1.4v1.4h-1.4zM149.4 314.5h1.4v1.4h-1.4zM147.0 315.6h1.4v1.4h-1.4zM143.8 323.3h1.4v1.4h-1.4zM145.5 311.6h1.4v1.4h-1.4zM127.1 319.4h1.4v1.4h-1.4zM147.2 315.3h1.4v1.4h-1.4zM143.6 311.7h1.4v1.4h-1.4zM142.3 315.9h1.4v1.4h-1.4zM131.0 322.3h1.4v1.4h-1.4zM148.7 310.4h1.4v1.4h-1.4zM136.8 322.2h1.4v1.4h-1.4zM145.7 316.9h1.4v1.4h-1.4zM127.7 324.8h1.4v1.4h-1.4zM140.0 319.8h1.4v1.4h-1.4zM137.1 322.2h1.4v1.4h-1.4zM134.5 319.6h1.4v1.4h-1.4zM136.6 321.6h1.4v1.4h-1.4zM153.1 311.3h1.4v1.4h-1.4zM140.2 317.7h1.4v1.4h-1.4zM142.2 315.0h1.4v1.4h-1.4zM157.9 314.2h1.4v1.4h-1.4zM130.8 323.7h1.4v1.4h-1.4zM149.2 308.1h1.4v1.4h-1.4zM138.5 320.2h1.4v1.4h-1.4zM132.4 313.2h1.4v1.4h-1.4zM137.9 319.8h1.4v1.4h-1.4zM128.8 326.3h1.4v1.4h-1.4zM131.6 327.0h1.4v1.4h-1.4zM132.7 322.3h1.4v1.4h-1.4zM135.5 317.8h1.4v1.4h-1.4zM148.1 320.0h1.4v1.4h-1.4zM149.5 316.2h1.4v1.4h-1.4zM139.6 322.3h1.4v1.4h-1.4zM142.6 315.5h1.4v1.4h-1.4zM144.3 317.6h1.4v1.4h-1.4zM136.3 313.7h1.4v1.4h-1.4zM142.7 317.9h1.4v1.4h-1.4zM133.3 314.2h1.4v1.4h-1.4zM142.8 312.8h1.4v1.4h-1.4zM136.7 314.5h1.4v1.4h-1.4zM142.3 320.4h1.4v1.4h-1.4zM143.5 319.0h1.4v1.4h-1.4zM140.6 315.4h1.4v1.4h-1.4zM137.1 323.5h1.4v1.4h-1.4zM131.0 322.8h1.4v1.4h-1.4zM137.1 312.6h1.4v1.4h-1.4zM135.8 318.6h1.4v1.4h-1.4zM134.2 315.0h1.4v1.4h-1.4zM139.7 318.1h1.4v1.4h-1.4zM135.9 321.1h1.4v1.4h-1.4zM142.5 313.9h1.4v1.4h-1.4zM144.3 318.2h1.4v1.4h-1.4zM135.5 323.7h1.4v1.4h-1.4zM141.7 313.8h1.4v1.4h-1.4zM134.4 322.6h1.4v1.4h-1.4zM145.3 314.6h1.4v1.4h-1.4zM144.3 314.5h1.4v1.4h-1.4zM142.6 322.0h1.4v1.4h-1.4zM145.6 312.4h1.4v1.4h-1.4zM147.0 312.8h1.4v1.4h-1.4zM143.4 315.7h1.4v1.4h-1.4zM128.2 325.9h1.4v1.4h-1.4zM142.3 319.1h1.4v1.4h-1.4zM140.4 314.3h1.4v1.4h-1.4zM147.9 318.2h1.4v1.4h-1.4zM136.0 326.1h1.4v1.4h-1.4zM148.1 320.3h1.4v1.4h-1.4zM143.0 316.7h1.4v1.4h-1.4zM142.5 314.7h1.4v1.4h-1.4zM130.1 319.4h1.4v1.4h-1.4zM134.7 321.7h1.4v1.4h-1.4zM148.2 313.2h1.4v1.4h-1.4zM146.0 314.4h1.4v1.4h-1.4zM138.8 316.3h1.4v1.4h-1.4zM144.8 307.7h1.4v1.4h-1.4zM141.7 315.9h1.4v1.4h-1.4zM137.1 318.7h1.4v1.4h-1.4zM128.7 322.5h1.4v1.4h-1.4zM145.4 310.1h1.4v1.4h-1.4zM138.9 317.4h1.4v1.4h-1.4zM141.7 316.3h1.4v1.4h-1.4zM126.1 321.3h1.4v1.4h-1.4zM137.4 321.4h1.4v1.4h-1.4zM142.3 316.4h1.4v1.4h-1.4zM138.7 318.9h1.4v1.4h-1.4zM135.7 321.4h1.4v1.4h-1.4zM132.1 321.1h1.4v1.4h-1.4zM141.6 316.7h1.4v1.4h-1.4zM138.4 320.4h1.4v1.4h-1.4zM138.9 320.9h1.4v1.4h-1.4zM139.5 321.1h1.4v1.4h-1.4zM135.4 319.6h1.4v1.4h-1.4zM139.0 320.9h1.4v1.4h-1.4zM137.5 323.0h1.4v1.4h-1.4zM138.5 313.9h1.4v1.4h-1.4zM130.0 321.7h1.4v1.4h-1.4zM132.5 321.7h1.4v1.4h-1.4zM140.4 317.6h1.4v1.4h-1.4zM141.6 323.1h1.4v1.4h-1.4zM143.0 320.2h1.4v1.4h-1.4zM154.1 309.9h1.4v1.4h-1.4zM145.3 314.6h1.4v1.4h-1.4zM146.2 309.8h1.4v1.4h-1.4zM141.7 313.5h1.4v1.4h-1.4zM141.3 321.7h1.4v1.4h-1.4zM132.2 316.1h1.4v1.4h-1.4zM128.1 326.3h1.4v1.4h-1.4zM129.3 321.1h1.4v1.4h-1.4zM123.4 325.6h1.4v1.4h-1.4zM132.2 321.6h1.4v1.4h-1.4zM131.7 328.5h1.4v1.4h-1.4zM133.9 322.2h1.4v1.4h-1.4zM140.8 319.2h1.4v1.4h-1.4zM138.8 321.9h1.4v1.4h-1.4zM143.3 308.6h1.4v1.4h-1.4zM149.2 319.3h1.4v1.4h-1.4zM145.0 309.5h1.4v1.4h-1.4zM145.2 312.6h1.4v1.4h-1.4zM143.1 318.6h1.4v1.4h-1.4zM134.9 316.4h1.4v1.4h-1.4zM140.9 311.4h1.4v1.4h-1.4zM140.1 321.8h1.4v1.4h-1.4zM138.4 317.7h1.4v1.4h-1.4zM144.4 318.7h1.4v1.4h-1.4zM133.3 323.1h1.4v1.4h-1.4zM128.6 323.3h1.4v1.4h-1.4zM144.9 321.1h1.4v1.4h-1.4zM152.3 310.5h1.4v1.4h-1.4zM150.9 319.0h1.4v1.4h-1.4zM165.3 301.4h1.4v1.4h-1.4zM129.0 320.4h1.4v1.4h-1.4zM134.8 318.4h1.4v1.4h-1.4zM124.5 327.0h1.4v1.4h-1.4zM132.6 318.0h1.4v1.4h-1.4zM152.5 308.9h1.4v1.4h-1.4zM153.6 315.6h1.4v1.4h-1.4zM133.4 322.1h1.4v1.4h-1.4zM139.7 322.1h1.4v1.4h-1.4zM135.0 321.8h1.4v1.4h-1.4zM130.0 321.3h1.4v1.4h-1.4zM137.5 316.7h1.4v1.4h-1.4zM138.3 319.5h1.4v1.4h-1.4zM141.0 317.6h1.4v1.4h-1.4zM141.4 315.5h1.4v1.4h-1.4zM144.4 313.7h1.4v1.4h-1.4zM151.9 316.5h1.4v1.4h-1.4zM141.2 320.9h1.4v1.4h-1.4zM139.3 319.4h1.4v1.4h-1.4zM139.9 316.9h1.4v1.4h-1.4zM142.8 315.1h1.4v1.4h-1.4zM142.2 323.6h1.4v1.4h-1.4z"/>
<path fill="#1494f8" d="M150.6 311.0h1.3v1.3h-1.3zM162.3 302.4h1.3v1.3h-1.3zM151.2 312.4h1.3v1.3h-1.3zM143.6 308.7h1.3v1.3h-1.3zM159.5 300.9h1.3v1.3h-1.3zM151.6 308.2h1.3v1.3h-1.3zM159.9 305.8h1.3v1.3h-1.3zM154.3 307.2h1.3v1.3h-1.3zM152.4 310.5h1.3v1.3h-1.3zM156.8 306.5h1.3v1.3h-1.3zM149.9 307.3h1.3v1.3h-1.3zM153.9 306.8h1.3v1.3h-1.3zM151.2 307.9h1.3v1.3h-1.3zM144.7 312.7h1.3v1.3h-1.3zM152.6 305.3h1.3v1.3h-1.3zM151.2 311.3h1.3v1.3h-1.3zM152.1 309.3h1.3v1.3h-1.3zM151.3 303.2h1.3v1.3h-1.3zM147.6 313.8h1.3v1.3h-1.3zM153.7 305.6h1.3v1.3h-1.3zM152.6 303.6h1.3v1.3h-1.3zM161.9 305.2h1.3v1.3h-1.3zM155.6 305.9h1.3v1.3h-1.3zM154.2 308.0h1.3v1.3h-1.3zM149.4 309.9h1.3v1.3h-1.3zM152.1 308.3h1.3v1.3h-1.3zM144.0 308.6h1.3v1.3h-1.3zM155.0 308.7h1.3v1.3h-1.3zM150.4 307.4h1.3v1.3h-1.3zM150.8 309.4h1.3v1.3h-1.3zM152.2 308.1h1.3v1.3h-1.3zM152.7 305.0h1.3v1.3h-1.3zM151.5 305.0h1.3v1.3h-1.3zM147.2 311.4h1.3v1.3h-1.3zM159.4 307.1h1.3v1.3h-1.3zM151.4 306.9h1.3v1.3h-1.3zM152.7 306.1h1.3v1.3h-1.3zM152.4 308.5h1.3v1.3h-1.3zM147.6 309.8h1.3v1.3h-1.3zM155.2 310.2h1.3v1.3h-1.3zM151.3 310.4h1.3v1.3h-1.3zM152.3 315.8h1.3v1.3h-1.3zM153.0 308.4h1.3v1.3h-1.3zM158.4 310.7h1.3v1.3h-1.3zM153.9 305.4h1.3v1.3h-1.3zM153.3 308.3h1.3v1.3h-1.3zM148.2 308.0h1.3v1.3h-1.3zM150.3 308.5h1.3v1.3h-1.3zM151.2 308.1h1.3v1.3h-1.3zM147.3 313.7h1.3v1.3h-1.3zM157.4 308.9h1.3v1.3h-1.3zM152.2 307.6h1.3v1.3h-1.3zM145.0 309.1h1.3v1.3h-1.3zM158.3 304.1h1.3v1.3h-1.3zM159.8 302.6h1.3v1.3h-1.3zM146.3 311.1h1.3v1.3h-1.3zM152.7 310.7h1.3v1.3h-1.3zM150.5 313.1h1.3v1.3h-1.3zM154.4 304.8h1.3v1.3h-1.3zM145.7 310.9h1.3v1.3h-1.3z"/>
<path fill="#2b2b2b" d="M175.2 244.2h1.6v1.6h-1.6zM200.2 244.2h1.6v1.6h-1.6zM141.2 251.8h1.6v1.6h-1.6zM156.9 211.8h1.6v1.6h-1.6zM138.2 226.2h1.6v1.6h-1.6zM140.2 236.2h1.6v1.6h-1.6zM134.2 257.2h1.6v1.6h-1.6zM127.2 291.2h1.6v1.6h-1.6zM133.2 281.2h1.6v1.6h-1.6z"/>
<ellipse cx="294" cy="317.3" rx="11" ry="4.3" transform="rotate(-28 294 317.3)" fill="#1494f8"/>
<path fill="#2b2b2b" d="M266.1 226.1h1.5v1.5h-1.5zM332.5 222.9h1.5v1.5h-1.5zM303.8 232.3h1.5v1.5h-1.5zM286.4 258.7h1.5v1.5h-1.5zM276.0 226.3h1.5v1.5h-1.5zM266.9 222.4h1.5v1.5h-1.5zM333.9 290.2h1.5v1.5h-1.5zM271.8 276.7h1.5v1.5h-1.5zM300.6 258.6h1.5v1.5h-1.5zM289.0 283.3h1.5v1.5h-1.5zM260.9 283.9h1.5v1.5h-1.5zM267.4 293.8h1.5v1.5h-1.5zM286.8 282.3h1.5v1.5h-1.5zM327.7 299.2h1.5v1.5h-1.5zM327.3 279.1h1.5v1.5h-1.5zM284.5 274.9h1.5v1.5h-1.5zM317.0 290.9h1.5v1.5h-1.5zM306.2 266.1h1.5v1.5h-1.5zM325.7 265.4h1.5v1.5h-1.5zM320.9 286.8h1.5v1.5h-1.5zM284.7 292.0h1.5v1.5h-1.5zM328.9 284.9h1.5v1.5h-1.5zM314.0 264.0h1.5v1.5h-1.5zM269.1 279.4h1.5v1.5h-1.5zM266.2 258.2h1.5v1.5h-1.5zM264.2 292.9h1.5v1.5h-1.5z"/>
<path fill="#2b2b2b" d="M294.2 291.7h1.4v1.4h-1.4zM323.5 298.1h1.4v1.4h-1.4zM327.9 303.0h1.4v1.4h-1.4zM281.3 269.7h1.4v1.4h-1.4zM313.5 290.9h1.4v1.4h-1.4zM296.5 294.8h1.4v1.4h-1.4zM346.5 292.5h1.4v1.4h-1.4zM288.2 278.9h1.4v1.4h-1.4zM281.7 300.4h1.4v1.4h-1.4zM275.2 312.5h1.4v1.4h-1.4zM315.3 289.7h1.4v1.4h-1.4zM272.2 282.2h1.4v1.4h-1.4zM309.4 301.0h1.4v1.4h-1.4zM284.1 291.9h1.4v1.4h-1.4zM324.8 293.1h1.4v1.4h-1.4zM329.8 294.3h1.4v1.4h-1.4zM320.4 286.1h1.4v1.4h-1.4zM263.4 282.9h1.4v1.4h-1.4zM353.1 304.1h1.4v1.4h-1.4zM282.3 295.0h1.4v1.4h-1.4zM286.3 290.7h1.4v1.4h-1.4zM296.3 307.8h1.4v1.4h-1.4zM308.6 289.7h1.4v1.4h-1.4zM288.0 305.0h1.4v1.4h-1.4zM296.7 301.5h1.4v1.4h-1.4zM295.1 288.0h1.4v1.4h-1.4zM266.7 276.3h1.4v1.4h-1.4zM335.1 297.2h1.4v1.4h-1.4zM333.4 294.2h1.4v1.4h-1.4zM296.0 303.7h1.4v1.4h-1.4zM292.5 272.8h1.4v1.4h-1.4zM336.7 290.0h1.4v1.4h-1.4zM349.1 294.3h1.4v1.4h-1.4zM296.6 295.6h1.4v1.4h-1.4zM308.7 292.9h1.4v1.4h-1.4zM286.5 295.2h1.4v1.4h-1.4zM302.9 263.4h1.4v1.4h-1.4zM305.5 272.8h1.4v1.4h-1.4zM291.4 292.8h1.4v1.4h-1.4zM304.4 286.7h1.4v1.4h-1.4zM297.4 277.4h1.4v1.4h-1.4zM309.0 274.5h1.4v1.4h-1.4zM301.4 295.3h1.4v1.4h-1.4zM292.0 260.7h1.4v1.4h-1.4zM305.0 290.3h1.4v1.4h-1.4zM281.2 277.9h1.4v1.4h-1.4zM326.9 293.0h1.4v1.4h-1.4zM274.5 314.6h1.4v1.4h-1.4zM287.2 303.8h1.4v1.4h-1.4zM315.8 290.7h1.4v1.4h-1.4zM287.9 309.6h1.4v1.4h-1.4zM317.1 314.2h1.4v1.4h-1.4zM328.2 303.5h1.4v1.4h-1.4zM313.4 313.9h1.4v1.4h-1.4zM286.5 294.1h1.4v1.4h-1.4zM338.1 299.2h1.4v1.4h-1.4zM306.3 290.5h1.4v1.4h-1.4zM275.0 286.9h1.4v1.4h-1.4zM340.6 291.8h1.4v1.4h-1.4zM300.4 282.1h1.4v1.4h-1.4zM309.9 290.4h1.4v1.4h-1.4zM316.2 318.3h1.4v1.4h-1.4zM285.1 300.2h1.4v1.4h-1.4zM316.2 289.3h1.4v1.4h-1.4zM269.1 312.5h1.4v1.4h-1.4zM274.8 309.1h1.4v1.4h-1.4zM287.8 278.7h1.4v1.4h-1.4zM344.5 283.1h1.4v1.4h-1.4zM309.7 312.6h1.4v1.4h-1.4zM322.1 292.8h1.4v1.4h-1.4zM287.0 293.8h1.4v1.4h-1.4zM308.3 285.2h1.4v1.4h-1.4zM291.0 305.6h1.4v1.4h-1.4zM306.2 281.8h1.4v1.4h-1.4zM284.2 298.2h1.4v1.4h-1.4zM260.6 298.1h1.4v1.4h-1.4zM310.7 289.1h1.4v1.4h-1.4zM326.3 299.3h1.4v1.4h-1.4zM288.4 298.4h1.4v1.4h-1.4zM331.8 286.1h1.4v1.4h-1.4zM267.9 294.8h1.4v1.4h-1.4zM310.2 276.9h1.4v1.4h-1.4zM303.1 270.3h1.4v1.4h-1.4zM319.7 284.9h1.4v1.4h-1.4zM263.3 270.3h1.4v1.4h-1.4zM318.4 283.9h1.4v1.4h-1.4zM298.9 290.0h1.4v1.4h-1.4zM277.3 293.7h1.4v1.4h-1.4zM286.2 314.1h1.4v1.4h-1.4zM291.4 280.2h1.4v1.4h-1.4zM302.4 285.9h1.4v1.4h-1.4zM277.3 285.8h1.4v1.4h-1.4zM277.0 279.1h1.4v1.4h-1.4zM297.9 316.1h1.4v1.4h-1.4zM263.3 309.1h1.4v1.4h-1.4zM260.7 308.4h1.4v1.4h-1.4zM266.4 316.6h1.4v1.4h-1.4zM265.5 315.2h1.4v1.4h-1.4zM273.9 308.0h1.4v1.4h-1.4zM261.8 310.4h1.4v1.4h-1.4zM260.9 315.4h1.4v1.4h-1.4zM261.7 312.4h1.4v1.4h-1.4zM275.3 314.6h1.4v1.4h-1.4zM265.5 317.7h1.4v1.4h-1.4zM260.8 312.0h1.4v1.4h-1.4zM262.0 316.2h1.4v1.4h-1.4zM267.6 310.3h1.4v1.4h-1.4zM261.7 307.4h1.4v1.4h-1.4zM266.1 313.9h1.4v1.4h-1.4zM268.7 318.3h1.4v1.4h-1.4zM268.2 319.3h1.4v1.4h-1.4zM258.6 305.1h1.4v1.4h-1.4zM261.0 315.7h1.4v1.4h-1.4zM272.7 317.7h1.4v1.4h-1.4zM258.7 310.9h1.4v1.4h-1.4zM260.4 309.6h1.4v1.4h-1.4zM261.1 311.1h1.4v1.4h-1.4zM269.7 309.7h1.4v1.4h-1.4zM259.1 308.3h1.4v1.4h-1.4zM264.3 313.8h1.4v1.4h-1.4zM266.2 309.5h1.4v1.4h-1.4zM264.9 311.5h1.4v1.4h-1.4zM265.4 315.5h1.4v1.4h-1.4zM260.6 312.4h1.4v1.4h-1.4zM263.8 312.1h1.4v1.4h-1.4zM261.5 306.2h1.4v1.4h-1.4zM260.4 310.6h1.4v1.4h-1.4zM258.8 320.2h1.4v1.4h-1.4zM268.1 313.6h1.4v1.4h-1.4zM263.1 312.1h1.4v1.4h-1.4zM263.4 319.3h1.4v1.4h-1.4zM269.6 309.6h1.4v1.4h-1.4zM262.2 314.0h1.4v1.4h-1.4zM268.4 314.8h1.4v1.4h-1.4zM263.7 312.5h1.4v1.4h-1.4zM263.1 311.8h1.4v1.4h-1.4zM259.8 313.5h1.4v1.4h-1.4zM264.4 314.0h1.4v1.4h-1.4zM263.8 317.0h1.4v1.4h-1.4zM268.0 316.3h1.4v1.4h-1.4zM258.4 313.5h1.4v1.4h-1.4zM259.7 318.9h1.4v1.4h-1.4zM266.2 309.7h1.4v1.4h-1.4zM264.0 313.1h1.4v1.4h-1.4zM258.5 316.9h1.4v1.4h-1.4zM268.0 307.9h1.4v1.4h-1.4zM261.4 305.5h1.4v1.4h-1.4zM262.1 315.0h1.4v1.4h-1.4zM267.1 305.8h1.4v1.4h-1.4zM264.1 306.8h1.4v1.4h-1.4zM260.0 311.7h1.4v1.4h-1.4zM268.3 312.9h1.4v1.4h-1.4zM258.6 315.0h1.4v1.4h-1.4zM258.7 308.9h1.4v1.4h-1.4zM266.1 299.9h1.4v1.4h-1.4zM260.0 318.1h1.4v1.4h-1.4zM259.6 316.1h1.4v1.4h-1.4zM261.5 315.4h1.4v1.4h-1.4zM271.7 312.4h1.4v1.4h-1.4zM268.7 308.6h1.4v1.4h-1.4zM262.9 314.7h1.4v1.4h-1.4zM258.5 312.2h1.4v1.4h-1.4zM259.7 306.4h1.4v1.4h-1.4zM263.5 317.1h1.4v1.4h-1.4zM260.5 306.1h1.4v1.4h-1.4zM261.1 310.6h1.4v1.4h-1.4zM263.0 317.2h1.4v1.4h-1.4zM274.7 306.2h1.4v1.4h-1.4zM264.6 310.3h1.4v1.4h-1.4zM265.2 312.2h1.4v1.4h-1.4zM266.9 305.7h1.4v1.4h-1.4zM260.8 315.6h1.4v1.4h-1.4zM265.0 313.6h1.4v1.4h-1.4zM264.8 314.1h1.4v1.4h-1.4zM270.4 310.8h1.4v1.4h-1.4zM269.1 305.8h1.4v1.4h-1.4zM267.4 315.4h1.4v1.4h-1.4zM267.9 312.5h1.4v1.4h-1.4zM263.5 319.4h1.4v1.4h-1.4zM266.6 307.2h1.4v1.4h-1.4zM260.9 313.1h1.4v1.4h-1.4zM260.2 322.1h1.4v1.4h-1.4zM267.1 306.4h1.4v1.4h-1.4zM269.5 313.4h1.4v1.4h-1.4zM271.8 319.9h1.4v1.4h-1.4zM260.0 307.0h1.4v1.4h-1.4zM266.3 312.6h1.4v1.4h-1.4zM263.4 311.5h1.4v1.4h-1.4zM264.5 311.2h1.4v1.4h-1.4zM265.3 317.8h1.4v1.4h-1.4zM267.8 312.9h1.4v1.4h-1.4zM261.0 306.4h1.4v1.4h-1.4zM263.4 309.5h1.4v1.4h-1.4zM259.6 312.7h1.4v1.4h-1.4zM267.8 306.0h1.4v1.4h-1.4zM262.2 309.2h1.4v1.4h-1.4zM267.1 310.5h1.4v1.4h-1.4zM259.3 302.8h1.4v1.4h-1.4zM263.3 320.6h1.4v1.4h-1.4zM258.2 305.0h1.4v1.4h-1.4zM258.9 312.5h1.4v1.4h-1.4zM268.3 311.5h1.4v1.4h-1.4zM261.8 309.5h1.4v1.4h-1.4zM262.3 317.7h1.4v1.4h-1.4zM266.4 312.5h1.4v1.4h-1.4zM258.6 308.5h1.4v1.4h-1.4zM272.5 317.5h1.4v1.4h-1.4zM258.8 314.7h1.4v1.4h-1.4zM260.7 307.6h1.4v1.4h-1.4zM273.7 305.4h1.4v1.4h-1.4zM271.6 311.6h1.4v1.4h-1.4zM264.7 305.7h1.4v1.4h-1.4zM265.3 314.7h1.4v1.4h-1.4zM263.5 309.1h1.4v1.4h-1.4zM267.7 303.3h1.4v1.4h-1.4zM261.4 315.3h1.4v1.4h-1.4zM259.4 328.0h1.4v1.4h-1.4zM260.2 315.1h1.4v1.4h-1.4zM261.8 314.1h1.4v1.4h-1.4zM267.5 311.1h1.4v1.4h-1.4zM264.4 312.0h1.4v1.4h-1.4zM267.1 299.8h1.4v1.4h-1.4zM268.8 303.1h1.4v1.4h-1.4zM263.2 301.3h1.4v1.4h-1.4zM265.9 299.9h1.4v1.4h-1.4zM264.7 307.1h1.4v1.4h-1.4zM268.6 300.2h1.4v1.4h-1.4zM270.5 304.5h1.4v1.4h-1.4zM271.3 294.4h1.4v1.4h-1.4zM263.6 299.3h1.4v1.4h-1.4zM263.4 304.9h1.4v1.4h-1.4zM269.3 297.9h1.4v1.4h-1.4zM264.6 289.5h1.4v1.4h-1.4zM264.9 304.0h1.4v1.4h-1.4zM268.3 303.1h1.4v1.4h-1.4zM267.9 298.8h1.4v1.4h-1.4zM272.6 300.8h1.4v1.4h-1.4zM259.9 298.6h1.4v1.4h-1.4zM271.6 302.2h1.4v1.4h-1.4zM263.7 305.8h1.4v1.4h-1.4zM269.4 301.9h1.4v1.4h-1.4zM259.6 299.9h1.4v1.4h-1.4zM265.4 297.9h1.4v1.4h-1.4zM263.0 299.5h1.4v1.4h-1.4zM275.0 297.8h1.4v1.4h-1.4zM261.3 305.2h1.4v1.4h-1.4zM271.8 295.0h1.4v1.4h-1.4zM262.1 297.4h1.4v1.4h-1.4zM260.5 302.1h1.4v1.4h-1.4zM267.7 302.0h1.4v1.4h-1.4zM271.4 301.6h1.4v1.4h-1.4zM303.8 307.2h1.4v1.4h-1.4zM302.1 309.2h1.4v1.4h-1.4zM298.2 312.6h1.4v1.4h-1.4zM302.1 286.8h1.4v1.4h-1.4zM327.1 315.5h1.4v1.4h-1.4zM307.2 286.5h1.4v1.4h-1.4zM291.6 303.0h1.4v1.4h-1.4zM303.0 308.2h1.4v1.4h-1.4zM328.8 302.9h1.4v1.4h-1.4zM308.0 300.8h1.4v1.4h-1.4zM313.3 286.3h1.4v1.4h-1.4zM298.1 287.9h1.4v1.4h-1.4zM298.3 302.9h1.4v1.4h-1.4zM320.9 310.0h1.4v1.4h-1.4zM290.2 313.6h1.4v1.4h-1.4zM314.8 311.9h1.4v1.4h-1.4zM328.1 312.6h1.4v1.4h-1.4zM311.0 292.9h1.4v1.4h-1.4zM299.6 287.0h1.4v1.4h-1.4zM315.9 296.4h1.4v1.4h-1.4zM291.8 300.5h1.4v1.4h-1.4zM292.1 291.4h1.4v1.4h-1.4zM310.0 292.2h1.4v1.4h-1.4zM298.4 296.4h1.4v1.4h-1.4zM313.2 314.3h1.4v1.4h-1.4zM290.1 303.3h1.4v1.4h-1.4zM296.5 292.1h1.4v1.4h-1.4zM291.8 313.7h1.4v1.4h-1.4zM319.2 295.5h1.4v1.4h-1.4zM321.1 298.3h1.4v1.4h-1.4z"/>
<path fill="#c83a5a" d="M307.7 305.0h1.3v1.3h-1.3zM313.7 302.9h1.3v1.3h-1.3zM302.7 316.5h1.3v1.3h-1.3zM290.8 297.8h1.3v1.3h-1.3zM294.3 299.0h1.3v1.3h-1.3zM315.8 302.8h1.3v1.3h-1.3zM323.3 296.2h1.3v1.3h-1.3zM299.7 291.1h1.3v1.3h-1.3zM303.1 299.5h1.3v1.3h-1.3zM308.2 303.0h1.3v1.3h-1.3zM324.8 289.6h1.3v1.3h-1.3zM313.6 302.1h1.3v1.3h-1.3zM311.4 300.6h1.3v1.3h-1.3zM303.6 300.4h1.3v1.3h-1.3zM316.1 300.7h1.3v1.3h-1.3zM321.5 293.9h1.3v1.3h-1.3zM316.2 306.9h1.3v1.3h-1.3zM298.5 296.2h1.3v1.3h-1.3zM321.1 292.9h1.3v1.3h-1.3zM308.0 296.9h1.3v1.3h-1.3zM325.1 290.5h1.3v1.3h-1.3zM302.8 308.5h1.3v1.3h-1.3zM311.5 305.4h1.3v1.3h-1.3zM305.4 286.6h1.3v1.3h-1.3zM299.4 316.6h1.3v1.3h-1.3zM313.2 303.6h1.3v1.3h-1.3zM317.7 300.9h1.3v1.3h-1.3zM309.7 301.9h1.3v1.3h-1.3zM317.6 304.3h1.3v1.3h-1.3zM313.5 302.4h1.3v1.3h-1.3zM296.9 294.3h1.3v1.3h-1.3zM314.4 293.2h1.3v1.3h-1.3zM303.1 303.1h1.3v1.3h-1.3zM306.6 300.2h1.3v1.3h-1.3zM302.5 301.9h1.3v1.3h-1.3zM318.1 301.4h1.3v1.3h-1.3zM302.4 296.5h1.3v1.3h-1.3zM303.7 298.7h1.3v1.3h-1.3zM288.4 305.6h1.3v1.3h-1.3zM307.9 302.1h1.3v1.3h-1.3zM320.5 298.6h1.3v1.3h-1.3zM289.2 305.9h1.3v1.3h-1.3zM314.9 301.4h1.3v1.3h-1.3zM308.1 297.8h1.3v1.3h-1.3zM300.2 318.1h1.3v1.3h-1.3zM298.9 289.5h1.3v1.3h-1.3zM318.5 296.1h1.3v1.3h-1.3zM314.2 307.9h1.3v1.3h-1.3zM312.1 297.0h1.3v1.3h-1.3zM316.0 288.7h1.3v1.3h-1.3zM304.5 297.3h1.3v1.3h-1.3zM319.7 300.0h1.3v1.3h-1.3zM297.7 303.9h1.3v1.3h-1.3zM306.6 311.6h1.3v1.3h-1.3zM323.0 294.0h1.3v1.3h-1.3zM320.1 290.9h1.3v1.3h-1.3zM316.9 293.6h1.3v1.3h-1.3zM299.1 311.3h1.3v1.3h-1.3zM312.0 308.2h1.3v1.3h-1.3zM300.0 300.5h1.3v1.3h-1.3zM322.8 284.3h1.3v1.3h-1.3zM294.8 300.6h1.3v1.3h-1.3zM301.2 310.2h1.3v1.3h-1.3zM311.7 315.0h1.3v1.3h-1.3zM311.5 296.2h1.3v1.3h-1.3zM307.9 307.9h1.3v1.3h-1.3zM306.6 300.1h1.3v1.3h-1.3zM316.3 305.1h1.3v1.3h-1.3zM305.6 291.9h1.3v1.3h-1.3zM296.5 313.9h1.3v1.3h-1.3zM295.2 299.3h1.3v1.3h-1.3zM321.7 287.7h1.3v1.3h-1.3zM312.2 302.8h1.3v1.3h-1.3zM325.4 290.5h1.3v1.3h-1.3zM322.9 293.3h1.3v1.3h-1.3zM322.0 298.6h1.3v1.3h-1.3zM311.9 301.8h1.3v1.3h-1.3zM329.1 302.3h1.3v1.3h-1.3zM309.5 307.8h1.3v1.3h-1.3zM327.0 284.6h1.3v1.3h-1.3zM315.6 297.5h1.3v1.3h-1.3zM314.0 294.6h1.3v1.3h-1.3zM306.1 300.3h1.3v1.3h-1.3zM312.3 314.5h1.3v1.3h-1.3zM306.1 297.3h1.3v1.3h-1.3zM311.0 311.1h1.3v1.3h-1.3zM308.9 314.2h1.3v1.3h-1.3zM311.4 322.7h1.3v1.3h-1.3zM312.8 299.8h1.3v1.3h-1.3zM322.3 296.4h1.3v1.3h-1.3zM329.1 292.8h1.3v1.3h-1.3zM316.5 294.7h1.3v1.3h-1.3zM316.6 312.0h1.3v1.3h-1.3zM323.5 309.6h1.3v1.3h-1.3zM317.9 278.3h1.3v1.3h-1.3zM311.4 298.1h1.3v1.3h-1.3zM324.2 302.9h1.3v1.3h-1.3zM311.1 292.4h1.3v1.3h-1.3zM310.1 295.7h1.3v1.3h-1.3zM306.7 303.6h1.3v1.3h-1.3zM317.5 297.0h1.3v1.3h-1.3zM303.7 303.6h1.3v1.3h-1.3zM302.3 304.7h1.3v1.3h-1.3zM320.7 309.9h1.3v1.3h-1.3zM311.6 281.6h1.3v1.3h-1.3zM317.6 292.9h1.3v1.3h-1.3zM314.6 289.4h1.3v1.3h-1.3zM309.6 303.5h1.3v1.3h-1.3zM308.7 298.5h1.3v1.3h-1.3zM322.7 297.9h1.3v1.3h-1.3zM329.1 290.4h1.3v1.3h-1.3zM296.5 327.9h1.3v1.3h-1.3zM317.2 286.5h1.3v1.3h-1.3zM311.6 296.5h1.3v1.3h-1.3zM314.0 306.2h1.3v1.3h-1.3zM303.7 301.9h1.3v1.3h-1.3zM306.5 304.6h1.3v1.3h-1.3zM295.6 297.2h1.3v1.3h-1.3zM316.1 303.6h1.3v1.3h-1.3zM302.5 304.6h1.3v1.3h-1.3zM311.7 305.0h1.3v1.3h-1.3zM295.1 302.4h1.3v1.3h-1.3zM319.5 291.3h1.3v1.3h-1.3zM314.0 292.0h1.3v1.3h-1.3zM307.0 316.5h1.3v1.3h-1.3zM308.9 287.6h1.3v1.3h-1.3zM309.3 305.2h1.3v1.3h-1.3zM304.6 306.5h1.3v1.3h-1.3zM316.2 308.0h1.3v1.3h-1.3zM319.3 298.1h1.3v1.3h-1.3zM320.4 286.8h1.3v1.3h-1.3zM315.2 302.4h1.3v1.3h-1.3zM315.0 284.2h1.3v1.3h-1.3zM320.6 303.7h1.3v1.3h-1.3zM316.5 296.6h1.3v1.3h-1.3zM316.8 291.2h1.3v1.3h-1.3zM297.6 304.3h1.3v1.3h-1.3zM309.7 306.1h1.3v1.3h-1.3zM317.9 282.9h1.3v1.3h-1.3zM305.5 317.7h1.3v1.3h-1.3zM301.3 300.4h1.3v1.3h-1.3zM332.6 300.6h1.3v1.3h-1.3zM302.8 306.7h1.3v1.3h-1.3zM318.8 311.8h1.3v1.3h-1.3zM308.9 291.8h1.3v1.3h-1.3zM311.5 307.5h1.3v1.3h-1.3zM318.7 295.7h1.3v1.3h-1.3zM316.0 292.5h1.3v1.3h-1.3zM307.8 309.3h1.3v1.3h-1.3zM325.0 290.6h1.3v1.3h-1.3zM301.1 300.2h1.3v1.3h-1.3zM306.1 301.6h1.3v1.3h-1.3zM306.7 296.6h1.3v1.3h-1.3zM311.6 298.4h1.3v1.3h-1.3zM301.0 306.0h1.3v1.3h-1.3zM316.5 306.2h1.3v1.3h-1.3zM291.3 311.2h1.3v1.3h-1.3zM303.5 298.6h1.3v1.3h-1.3zM305.4 310.0h1.3v1.3h-1.3zM303.0 302.2h1.3v1.3h-1.3zM306.1 295.4h1.3v1.3h-1.3zM308.0 292.3h1.3v1.3h-1.3zM310.0 315.5h1.3v1.3h-1.3zM309.9 300.2h1.3v1.3h-1.3zM302.9 318.4h1.3v1.3h-1.3zM303.3 296.9h1.3v1.3h-1.3zM314.2 289.9h1.3v1.3h-1.3zM310.2 315.1h1.3v1.3h-1.3zM306.4 301.1h1.3v1.3h-1.3zM309.0 300.0h1.3v1.3h-1.3zM316.0 295.7h1.3v1.3h-1.3zM309.4 292.9h1.3v1.3h-1.3zM312.1 308.2h1.3v1.3h-1.3zM297.0 298.6h1.3v1.3h-1.3zM314.6 304.6h1.3v1.3h-1.3zM281.4 308.7h1.3v1.3h-1.3zM322.7 315.2h1.3v1.3h-1.3zM306.0 309.3h1.3v1.3h-1.3zM319.2 304.8h1.3v1.3h-1.3zM303.2 291.0h1.3v1.3h-1.3zM322.5 296.7h1.3v1.3h-1.3zM302.0 300.4h1.3v1.3h-1.3zM289.8 305.6h1.3v1.3h-1.3zM306.9 295.9h1.3v1.3h-1.3zM308.5 308.7h1.3v1.3h-1.3zM309.0 301.9h1.3v1.3h-1.3zM318.1 292.3h1.3v1.3h-1.3zM299.9 301.9h1.3v1.3h-1.3zM313.2 293.9h1.3v1.3h-1.3zM315.3 293.5h1.3v1.3h-1.3zM317.8 294.2h1.3v1.3h-1.3zM288.6 303.9h1.3v1.3h-1.3zM307.7 294.9h1.3v1.3h-1.3zM295.9 290.9h1.3v1.3h-1.3zM307.6 302.1h1.3v1.3h-1.3zM304.8 308.7h1.3v1.3h-1.3zM305.2 299.8h1.3v1.3h-1.3zM322.6 305.1h1.3v1.3h-1.3zM321.6 288.0h1.3v1.3h-1.3zM315.8 298.0h1.3v1.3h-1.3zM303.4 314.4h1.3v1.3h-1.3zM321.2 296.6h1.3v1.3h-1.3zM296.4 302.4h1.3v1.3h-1.3zM307.8 305.3h1.3v1.3h-1.3zM317.9 293.2h1.3v1.3h-1.3zM308.7 311.0h1.3v1.3h-1.3zM318.6 302.4h1.3v1.3h-1.3zM306.7 301.2h1.3v1.3h-1.3zM301.8 310.1h1.3v1.3h-1.3zM317.7 310.8h1.3v1.3h-1.3zM309.2 310.8h1.3v1.3h-1.3zM327.8 297.9h1.3v1.3h-1.3zM324.8 291.1h1.3v1.3h-1.3zM321.0 289.9h1.3v1.3h-1.3zM298.5 301.6h1.3v1.3h-1.3zM329.6 298.2h1.3v1.3h-1.3zM308.6 293.1h1.3v1.3h-1.3zM315.6 301.2h1.3v1.3h-1.3zM317.2 310.1h1.3v1.3h-1.3zM299.5 294.1h1.3v1.3h-1.3zM312.2 302.7h1.3v1.3h-1.3zM313.8 290.8h1.3v1.3h-1.3zM322.6 292.8h1.3v1.3h-1.3zM316.6 301.6h1.3v1.3h-1.3zM306.5 295.1h1.3v1.3h-1.3zM301.1 295.5h1.3v1.3h-1.3zM305.7 300.3h1.3v1.3h-1.3zM324.5 294.5h1.3v1.3h-1.3zM314.3 295.4h1.3v1.3h-1.3zM308.5 294.2h1.3v1.3h-1.3zM298.3 313.5h1.3v1.3h-1.3zM290.8 303.0h1.3v1.3h-1.3zM310.5 289.0h1.3v1.3h-1.3zM315.6 298.7h1.3v1.3h-1.3zM327.0 308.9h1.3v1.3h-1.3zM309.8 297.1h1.3v1.3h-1.3zM304.0 303.9h1.3v1.3h-1.3zM291.6 303.4h1.3v1.3h-1.3zM299.8 302.0h1.3v1.3h-1.3zM286.1 305.7h1.3v1.3h-1.3z"/>
<path fill="#3a74d0" d="M308.1 306.3h1.3v1.3h-1.3zM302.2 311.5h1.3v1.3h-1.3zM297.4 304.9h1.3v1.3h-1.3zM313.4 304.9h1.3v1.3h-1.3zM297.6 316.1h1.3v1.3h-1.3zM306.8 293.4h1.3v1.3h-1.3zM304.3 307.0h1.3v1.3h-1.3zM303.1 316.9h1.3v1.3h-1.3zM309.9 314.3h1.3v1.3h-1.3zM303.0 306.4h1.3v1.3h-1.3zM314.0 315.7h1.3v1.3h-1.3zM300.4 300.9h1.3v1.3h-1.3zM320.8 302.2h1.3v1.3h-1.3zM313.4 302.7h1.3v1.3h-1.3zM308.6 293.4h1.3v1.3h-1.3zM299.1 314.5h1.3v1.3h-1.3zM297.6 298.0h1.3v1.3h-1.3zM310.4 295.4h1.3v1.3h-1.3zM308.1 300.9h1.3v1.3h-1.3zM300.4 297.0h1.3v1.3h-1.3zM307.5 310.9h1.3v1.3h-1.3zM310.1 297.1h1.3v1.3h-1.3zM286.8 304.5h1.3v1.3h-1.3zM299.1 308.9h1.3v1.3h-1.3zM294.6 309.4h1.3v1.3h-1.3zM308.8 293.0h1.3v1.3h-1.3zM292.8 306.4h1.3v1.3h-1.3zM305.4 310.1h1.3v1.3h-1.3zM316.5 303.1h1.3v1.3h-1.3zM297.0 296.1h1.3v1.3h-1.3zM309.6 308.3h1.3v1.3h-1.3zM307.8 309.3h1.3v1.3h-1.3zM312.9 307.7h1.3v1.3h-1.3zM318.3 292.3h1.3v1.3h-1.3zM293.6 304.3h1.3v1.3h-1.3zM303.7 303.6h1.3v1.3h-1.3zM313.9 293.5h1.3v1.3h-1.3zM320.2 292.8h1.3v1.3h-1.3zM300.9 301.4h1.3v1.3h-1.3zM313.2 296.7h1.3v1.3h-1.3zM307.5 298.4h1.3v1.3h-1.3zM309.0 301.6h1.3v1.3h-1.3zM295.0 310.6h1.3v1.3h-1.3zM292.2 309.0h1.3v1.3h-1.3zM303.6 300.2h1.3v1.3h-1.3zM308.9 313.5h1.3v1.3h-1.3zM306.8 309.6h1.3v1.3h-1.3zM297.8 311.5h1.3v1.3h-1.3zM311.7 293.0h1.3v1.3h-1.3zM305.2 308.2h1.3v1.3h-1.3zM323.0 292.0h1.3v1.3h-1.3zM304.8 308.2h1.3v1.3h-1.3zM307.8 303.7h1.3v1.3h-1.3zM318.1 315.2h1.3v1.3h-1.3zM302.1 305.4h1.3v1.3h-1.3zM294.1 302.2h1.3v1.3h-1.3zM304.1 312.3h1.3v1.3h-1.3zM308.4 310.3h1.3v1.3h-1.3zM305.3 313.5h1.3v1.3h-1.3zM309.8 280.9h1.3v1.3h-1.3zM297.7 300.6h1.3v1.3h-1.3zM307.2 296.0h1.3v1.3h-1.3zM304.8 291.1h1.3v1.3h-1.3zM306.2 303.7h1.3v1.3h-1.3zM299.1 311.8h1.3v1.3h-1.3zM311.6 307.8h1.3v1.3h-1.3zM314.1 305.0h1.3v1.3h-1.3zM305.7 303.1h1.3v1.3h-1.3zM309.7 312.4h1.3v1.3h-1.3zM290.1 313.8h1.3v1.3h-1.3zM287.5 292.0h1.3v1.3h-1.3zM302.1 302.5h1.3v1.3h-1.3zM303.2 298.5h1.3v1.3h-1.3zM310.8 302.4h1.3v1.3h-1.3zM300.8 302.3h1.3v1.3h-1.3zM304.5 300.9h1.3v1.3h-1.3zM301.7 315.5h1.3v1.3h-1.3zM306.2 296.5h1.3v1.3h-1.3zM304.9 292.6h1.3v1.3h-1.3zM304.3 305.2h1.3v1.3h-1.3zM313.2 303.1h1.3v1.3h-1.3zM301.8 303.9h1.3v1.3h-1.3zM300.8 305.3h1.3v1.3h-1.3zM300.3 301.1h1.3v1.3h-1.3zM313.9 287.7h1.3v1.3h-1.3zM290.4 305.5h1.3v1.3h-1.3zM302.1 296.4h1.3v1.3h-1.3zM305.8 311.7h1.3v1.3h-1.3zM304.2 301.3h1.3v1.3h-1.3zM298.6 317.3h1.3v1.3h-1.3zM308.9 299.5h1.3v1.3h-1.3zM305.8 295.3h1.3v1.3h-1.3zM303.0 305.3h1.3v1.3h-1.3zM301.9 306.1h1.3v1.3h-1.3zM309.1 310.5h1.3v1.3h-1.3zM304.2 287.7h1.3v1.3h-1.3zM292.2 306.9h1.3v1.3h-1.3zM315.4 299.8h1.3v1.3h-1.3zM299.6 300.1h1.3v1.3h-1.3zM310.5 300.5h1.3v1.3h-1.3zM297.5 304.8h1.3v1.3h-1.3zM322.8 303.4h1.3v1.3h-1.3zM310.4 309.3h1.3v1.3h-1.3zM310.0 284.2h1.3v1.3h-1.3zM295.0 296.8h1.3v1.3h-1.3zM297.3 301.2h1.3v1.3h-1.3zM312.1 298.1h1.3v1.3h-1.3zM308.9 299.3h1.3v1.3h-1.3zM305.2 298.7h1.3v1.3h-1.3zM315.2 301.5h1.3v1.3h-1.3zM310.4 306.3h1.3v1.3h-1.3zM302.5 305.0h1.3v1.3h-1.3zM290.3 309.0h1.3v1.3h-1.3zM288.7 312.5h1.3v1.3h-1.3zM306.3 295.7h1.3v1.3h-1.3zM311.3 305.5h1.3v1.3h-1.3zM301.0 311.5h1.3v1.3h-1.3zM305.3 295.6h1.3v1.3h-1.3zM308.0 312.2h1.3v1.3h-1.3zM304.7 302.6h1.3v1.3h-1.3zM314.1 303.9h1.3v1.3h-1.3zM293.6 309.4h1.3v1.3h-1.3zM306.5 300.6h1.3v1.3h-1.3zM310.6 305.0h1.3v1.3h-1.3zM300.1 298.2h1.3v1.3h-1.3zM305.0 301.0h1.3v1.3h-1.3zM292.7 300.9h1.3v1.3h-1.3zM307.4 305.3h1.3v1.3h-1.3zM308.3 299.2h1.3v1.3h-1.3zM309.0 298.1h1.3v1.3h-1.3zM298.1 302.8h1.3v1.3h-1.3zM312.4 303.5h1.3v1.3h-1.3zM307.7 303.4h1.3v1.3h-1.3zM308.6 299.1h1.3v1.3h-1.3zM302.9 300.6h1.3v1.3h-1.3zM315.0 310.7h1.3v1.3h-1.3zM311.0 310.9h1.3v1.3h-1.3zM318.0 286.9h1.3v1.3h-1.3zM306.5 311.2h1.3v1.3h-1.3zM314.3 301.5h1.3v1.3h-1.3zM305.5 305.0h1.3v1.3h-1.3zM295.6 311.6h1.3v1.3h-1.3zM303.4 293.4h1.3v1.3h-1.3zM321.3 312.3h1.3v1.3h-1.3zM316.7 311.8h1.3v1.3h-1.3zM310.2 300.2h1.3v1.3h-1.3zM299.0 306.5h1.3v1.3h-1.3zM307.3 302.8h1.3v1.3h-1.3zM292.8 304.9h1.3v1.3h-1.3zM318.8 299.1h1.3v1.3h-1.3zM315.3 296.7h1.3v1.3h-1.3zM293.8 301.2h1.3v1.3h-1.3zM300.2 301.9h1.3v1.3h-1.3zM293.8 304.4h1.3v1.3h-1.3zM297.3 302.6h1.3v1.3h-1.3zM300.4 302.9h1.3v1.3h-1.3zM298.4 311.4h1.3v1.3h-1.3zM299.9 302.5h1.3v1.3h-1.3zM303.6 291.2h1.3v1.3h-1.3zM307.3 312.4h1.3v1.3h-1.3zM307.6 296.8h1.3v1.3h-1.3zM308.1 311.9h1.3v1.3h-1.3zM306.0 304.0h1.3v1.3h-1.3zM297.4 311.3h1.3v1.3h-1.3zM308.2 294.5h1.3v1.3h-1.3zM296.8 308.2h1.3v1.3h-1.3zM300.7 302.3h1.3v1.3h-1.3zM295.3 307.9h1.3v1.3h-1.3zM309.6 303.7h1.3v1.3h-1.3zM295.9 305.0h1.3v1.3h-1.3zM311.2 305.5h1.3v1.3h-1.3zM313.4 287.1h1.3v1.3h-1.3zM303.3 295.5h1.3v1.3h-1.3zM290.2 314.6h1.3v1.3h-1.3zM313.2 302.0h1.3v1.3h-1.3zM309.3 308.4h1.3v1.3h-1.3zM314.1 309.8h1.3v1.3h-1.3zM308.9 303.9h1.3v1.3h-1.3zM315.2 302.6h1.3v1.3h-1.3zM312.6 300.4h1.3v1.3h-1.3zM304.7 304.2h1.3v1.3h-1.3zM295.6 307.5h1.3v1.3h-1.3zM304.4 304.1h1.3v1.3h-1.3zM308.2 296.8h1.3v1.3h-1.3zM291.1 309.8h1.3v1.3h-1.3zM308.3 307.0h1.3v1.3h-1.3zM293.7 313.2h1.3v1.3h-1.3zM316.3 305.1h1.3v1.3h-1.3zM316.2 292.9h1.3v1.3h-1.3zM309.7 297.5h1.3v1.3h-1.3zM303.2 307.2h1.3v1.3h-1.3zM307.5 295.0h1.3v1.3h-1.3zM311.2 292.5h1.3v1.3h-1.3zM318.5 299.8h1.3v1.3h-1.3zM313.7 295.5h1.3v1.3h-1.3zM315.2 303.5h1.3v1.3h-1.3zM298.1 307.5h1.3v1.3h-1.3zM302.6 300.9h1.3v1.3h-1.3zM304.6 295.1h1.3v1.3h-1.3zM309.0 309.5h1.3v1.3h-1.3zM290.7 310.4h1.3v1.3h-1.3zM300.6 298.5h1.3v1.3h-1.3zM294.8 297.2h1.3v1.3h-1.3zM302.0 294.9h1.3v1.3h-1.3zM305.7 299.1h1.3v1.3h-1.3zM298.6 315.7h1.3v1.3h-1.3zM296.3 300.7h1.3v1.3h-1.3zM306.6 303.8h1.3v1.3h-1.3zM297.9 308.3h1.3v1.3h-1.3zM293.4 284.0h1.3v1.3h-1.3zM294.4 298.9h1.3v1.3h-1.3zM302.2 310.2h1.3v1.3h-1.3zM303.9 287.5h1.3v1.3h-1.3zM307.2 309.6h1.3v1.3h-1.3zM300.6 305.0h1.3v1.3h-1.3zM309.6 286.9h1.3v1.3h-1.3zM308.3 314.5h1.3v1.3h-1.3zM303.7 302.0h1.3v1.3h-1.3zM309.7 311.5h1.3v1.3h-1.3zM326.3 291.6h1.3v1.3h-1.3z"/>
<path fill="#1494f8" d="M278.0 326.1h1.4v1.4h-1.4zM288.2 317.5h1.4v1.4h-1.4zM299.3 312.8h1.4v1.4h-1.4zM292.7 315.0h1.4v1.4h-1.4zM283.4 324.0h1.4v1.4h-1.4zM285.3 317.9h1.4v1.4h-1.4zM287.7 319.8h1.4v1.4h-1.4zM300.0 315.4h1.4v1.4h-1.4zM303.6 310.8h1.4v1.4h-1.4zM284.2 317.6h1.4v1.4h-1.4zM296.2 315.9h1.4v1.4h-1.4zM290.5 317.3h1.4v1.4h-1.4zM294.6 311.9h1.4v1.4h-1.4zM290.8 317.1h1.4v1.4h-1.4zM285.1 319.9h1.4v1.4h-1.4zM289.2 320.3h1.4v1.4h-1.4zM287.8 317.9h1.4v1.4h-1.4zM301.8 312.1h1.4v1.4h-1.4zM288.5 320.7h1.4v1.4h-1.4zM293.7 310.6h1.4v1.4h-1.4zM288.4 321.8h1.4v1.4h-1.4zM288.3 319.1h1.4v1.4h-1.4zM292.7 313.7h1.4v1.4h-1.4zM289.0 319.0h1.4v1.4h-1.4zM306.1 312.6h1.4v1.4h-1.4zM299.9 310.8h1.4v1.4h-1.4zM284.6 319.3h1.4v1.4h-1.4zM297.3 318.2h1.4v1.4h-1.4zM303.8 315.3h1.4v1.4h-1.4zM287.2 325.4h1.4v1.4h-1.4zM289.9 318.2h1.4v1.4h-1.4zM300.6 309.7h1.4v1.4h-1.4zM286.1 317.4h1.4v1.4h-1.4zM296.0 313.9h1.4v1.4h-1.4zM290.7 314.8h1.4v1.4h-1.4zM294.1 317.2h1.4v1.4h-1.4zM287.4 323.2h1.4v1.4h-1.4zM290.7 314.6h1.4v1.4h-1.4zM291.5 321.6h1.4v1.4h-1.4zM302.4 308.8h1.4v1.4h-1.4zM295.6 313.1h1.4v1.4h-1.4zM291.5 313.3h1.4v1.4h-1.4zM293.2 318.5h1.4v1.4h-1.4zM296.7 314.3h1.4v1.4h-1.4zM282.4 322.2h1.4v1.4h-1.4zM282.6 313.6h1.4v1.4h-1.4zM285.9 318.5h1.4v1.4h-1.4zM287.7 320.2h1.4v1.4h-1.4zM278.7 316.0h1.4v1.4h-1.4zM298.0 319.6h1.4v1.4h-1.4zM289.8 319.1h1.4v1.4h-1.4zM301.6 315.1h1.4v1.4h-1.4zM291.3 316.5h1.4v1.4h-1.4zM291.2 320.2h1.4v1.4h-1.4zM296.7 318.3h1.4v1.4h-1.4zM298.2 321.3h1.4v1.4h-1.4zM289.3 315.5h1.4v1.4h-1.4zM298.6 319.7h1.4v1.4h-1.4zM299.0 310.2h1.4v1.4h-1.4zM289.8 318.8h1.4v1.4h-1.4zM300.1 311.7h1.4v1.4h-1.4zM291.0 317.2h1.4v1.4h-1.4zM295.5 309.6h1.4v1.4h-1.4zM291.8 316.4h1.4v1.4h-1.4zM288.6 315.5h1.4v1.4h-1.4zM294.1 315.5h1.4v1.4h-1.4zM285.7 321.3h1.4v1.4h-1.4zM282.5 322.5h1.4v1.4h-1.4zM292.1 316.9h1.4v1.4h-1.4zM292.6 321.0h1.4v1.4h-1.4zM285.8 321.5h1.4v1.4h-1.4zM306.5 311.3h1.4v1.4h-1.4zM296.7 318.7h1.4v1.4h-1.4zM287.8 319.3h1.4v1.4h-1.4zM295.8 315.5h1.4v1.4h-1.4zM296.7 316.7h1.4v1.4h-1.4zM289.7 317.7h1.4v1.4h-1.4zM292.5 320.7h1.4v1.4h-1.4zM280.0 321.8h1.4v1.4h-1.4zM293.6 315.8h1.4v1.4h-1.4zM304.1 310.4h1.4v1.4h-1.4zM299.3 312.4h1.4v1.4h-1.4zM299.0 313.5h1.4v1.4h-1.4zM288.2 317.8h1.4v1.4h-1.4zM282.8 315.1h1.4v1.4h-1.4zM299.4 316.7h1.4v1.4h-1.4zM293.8 315.0h1.4v1.4h-1.4zM292.1 319.3h1.4v1.4h-1.4zM289.2 315.6h1.4v1.4h-1.4zM299.1 315.1h1.4v1.4h-1.4zM294.8 311.9h1.4v1.4h-1.4zM291.3 321.8h1.4v1.4h-1.4zM291.6 317.0h1.4v1.4h-1.4zM281.4 321.5h1.4v1.4h-1.4zM281.6 314.3h1.4v1.4h-1.4zM293.2 309.8h1.4v1.4h-1.4zM288.9 317.3h1.4v1.4h-1.4zM286.2 318.3h1.4v1.4h-1.4zM293.3 314.5h1.4v1.4h-1.4zM299.7 311.5h1.4v1.4h-1.4zM288.3 321.8h1.4v1.4h-1.4zM289.9 317.0h1.4v1.4h-1.4zM290.3 316.8h1.4v1.4h-1.4zM306.8 307.0h1.4v1.4h-1.4zM297.5 311.0h1.4v1.4h-1.4zM294.5 316.8h1.4v1.4h-1.4zM282.9 320.6h1.4v1.4h-1.4zM296.7 313.4h1.4v1.4h-1.4zM296.3 315.6h1.4v1.4h-1.4zM291.2 317.6h1.4v1.4h-1.4zM288.6 321.1h1.4v1.4h-1.4zM290.5 320.0h1.4v1.4h-1.4zM280.5 319.4h1.4v1.4h-1.4zM289.0 316.3h1.4v1.4h-1.4zM290.7 320.6h1.4v1.4h-1.4zM286.2 319.0h1.4v1.4h-1.4zM291.1 319.3h1.4v1.4h-1.4zM281.4 320.1h1.4v1.4h-1.4zM296.5 307.5h1.4v1.4h-1.4zM288.7 312.3h1.4v1.4h-1.4zM284.1 319.2h1.4v1.4h-1.4zM296.6 313.3h1.4v1.4h-1.4zM298.7 320.4h1.4v1.4h-1.4zM290.1 320.2h1.4v1.4h-1.4zM285.0 322.9h1.4v1.4h-1.4zM293.1 319.2h1.4v1.4h-1.4zM293.3 311.7h1.4v1.4h-1.4zM296.4 314.9h1.4v1.4h-1.4zM298.0 313.6h1.4v1.4h-1.4zM300.1 318.6h1.4v1.4h-1.4zM282.3 320.2h1.4v1.4h-1.4zM291.3 313.2h1.4v1.4h-1.4zM280.8 323.3h1.4v1.4h-1.4zM298.2 313.3h1.4v1.4h-1.4zM295.0 315.8h1.4v1.4h-1.4zM298.6 314.3h1.4v1.4h-1.4zM292.8 317.2h1.4v1.4h-1.4zM291.6 315.5h1.4v1.4h-1.4zM288.4 317.8h1.4v1.4h-1.4zM290.4 316.2h1.4v1.4h-1.4zM309.0 309.6h1.4v1.4h-1.4zM299.2 310.4h1.4v1.4h-1.4zM288.9 313.8h1.4v1.4h-1.4zM295.5 318.0h1.4v1.4h-1.4zM295.4 316.0h1.4v1.4h-1.4zM290.4 322.0h1.4v1.4h-1.4zM293.7 319.5h1.4v1.4h-1.4zM294.9 316.5h1.4v1.4h-1.4zM288.5 317.0h1.4v1.4h-1.4zM297.7 320.0h1.4v1.4h-1.4zM300.3 313.2h1.4v1.4h-1.4zM300.3 319.3h1.4v1.4h-1.4zM295.1 317.9h1.4v1.4h-1.4zM292.6 319.8h1.4v1.4h-1.4zM297.9 316.2h1.4v1.4h-1.4zM289.9 320.1h1.4v1.4h-1.4zM288.4 318.9h1.4v1.4h-1.4zM303.4 318.4h1.4v1.4h-1.4zM289.3 316.5h1.4v1.4h-1.4zM282.4 318.3h1.4v1.4h-1.4zM298.3 315.1h1.4v1.4h-1.4zM296.4 313.4h1.4v1.4h-1.4zM300.9 315.8h1.4v1.4h-1.4zM291.9 317.2h1.4v1.4h-1.4zM301.3 316.2h1.4v1.4h-1.4zM292.0 317.9h1.4v1.4h-1.4zM285.5 318.8h1.4v1.4h-1.4zM291.3 317.1h1.4v1.4h-1.4zM295.2 318.0h1.4v1.4h-1.4zM285.3 319.4h1.4v1.4h-1.4zM290.6 315.9h1.4v1.4h-1.4zM294.1 316.0h1.4v1.4h-1.4zM290.5 319.3h1.4v1.4h-1.4zM294.8 319.7h1.4v1.4h-1.4zM293.1 318.2h1.4v1.4h-1.4zM288.9 321.8h1.4v1.4h-1.4zM294.7 315.6h1.4v1.4h-1.4zM298.6 319.5h1.4v1.4h-1.4zM283.0 328.8h1.4v1.4h-1.4zM287.9 317.9h1.4v1.4h-1.4zM298.2 315.0h1.4v1.4h-1.4zM295.5 315.4h1.4v1.4h-1.4zM281.5 324.1h1.4v1.4h-1.4zM294.0 315.6h1.4v1.4h-1.4zM300.7 310.9h1.4v1.4h-1.4zM296.8 311.2h1.4v1.4h-1.4zM297.1 313.4h1.4v1.4h-1.4zM292.3 317.5h1.4v1.4h-1.4zM294.7 319.1h1.4v1.4h-1.4zM286.6 322.1h1.4v1.4h-1.4zM292.6 316.0h1.4v1.4h-1.4zM306.5 307.9h1.4v1.4h-1.4zM291.1 313.7h1.4v1.4h-1.4zM288.2 321.6h1.4v1.4h-1.4zM296.4 315.5h1.4v1.4h-1.4zM281.2 325.1h1.4v1.4h-1.4zM308.1 311.2h1.4v1.4h-1.4zM297.6 316.2h1.4v1.4h-1.4zM291.3 317.6h1.4v1.4h-1.4zM290.5 317.5h1.4v1.4h-1.4zM286.3 317.6h1.4v1.4h-1.4zM293.1 315.1h1.4v1.4h-1.4zM293.9 317.7h1.4v1.4h-1.4zM286.2 327.1h1.4v1.4h-1.4zM298.8 312.7h1.4v1.4h-1.4zM291.2 318.6h1.4v1.4h-1.4zM290.3 327.7h1.4v1.4h-1.4zM299.1 314.0h1.4v1.4h-1.4zM297.4 313.6h1.4v1.4h-1.4zM289.6 318.7h1.4v1.4h-1.4zM288.8 318.4h1.4v1.4h-1.4zM297.6 308.8h1.4v1.4h-1.4zM291.7 320.0h1.4v1.4h-1.4zM292.2 312.0h1.4v1.4h-1.4zM300.9 310.9h1.4v1.4h-1.4zM285.1 319.7h1.4v1.4h-1.4zM284.4 322.6h1.4v1.4h-1.4zM287.6 318.9h1.4v1.4h-1.4zM289.0 317.4h1.4v1.4h-1.4zM292.3 314.5h1.4v1.4h-1.4zM299.5 313.9h1.4v1.4h-1.4zM290.1 317.2h1.4v1.4h-1.4zM302.8 309.3h1.4v1.4h-1.4zM292.9 312.7h1.4v1.4h-1.4zM279.8 321.0h1.4v1.4h-1.4zM293.1 316.9h1.4v1.4h-1.4zM295.7 310.5h1.4v1.4h-1.4zM300.1 313.1h1.4v1.4h-1.4zM288.9 318.9h1.4v1.4h-1.4zM293.9 319.3h1.4v1.4h-1.4zM306.1 307.5h1.4v1.4h-1.4zM292.9 313.6h1.4v1.4h-1.4zM287.4 319.1h1.4v1.4h-1.4zM283.3 320.4h1.4v1.4h-1.4zM287.3 311.8h1.4v1.4h-1.4zM296.9 317.8h1.4v1.4h-1.4zM286.6 320.4h1.4v1.4h-1.4zM301.7 312.1h1.4v1.4h-1.4zM287.6 316.9h1.4v1.4h-1.4zM281.8 323.3h1.4v1.4h-1.4zM296.9 313.5h1.4v1.4h-1.4zM295.4 319.7h1.4v1.4h-1.4zM292.6 318.6h1.4v1.4h-1.4zM302.8 315.3h1.4v1.4h-1.4zM288.0 315.4h1.4v1.4h-1.4zM296.5 311.9h1.4v1.4h-1.4zM289.4 317.0h1.4v1.4h-1.4zM302.6 309.4h1.4v1.4h-1.4zM295.2 319.9h1.4v1.4h-1.4zM293.9 317.0h1.4v1.4h-1.4zM295.6 311.8h1.4v1.4h-1.4zM292.5 315.9h1.4v1.4h-1.4zM298.3 318.9h1.4v1.4h-1.4zM291.5 316.3h1.4v1.4h-1.4zM297.9 315.6h1.4v1.4h-1.4zM291.6 312.1h1.4v1.4h-1.4zM289.3 316.7h1.4v1.4h-1.4zM296.6 314.0h1.4v1.4h-1.4zM295.9 314.1h1.4v1.4h-1.4zM286.7 319.7h1.4v1.4h-1.4zM291.9 318.0h1.4v1.4h-1.4zM284.4 324.3h1.4v1.4h-1.4zM291.9 311.9h1.4v1.4h-1.4zM298.6 313.6h1.4v1.4h-1.4zM309.1 309.8h1.4v1.4h-1.4zM295.4 315.8h1.4v1.4h-1.4zM301.2 315.3h1.4v1.4h-1.4zM302.3 311.0h1.4v1.4h-1.4zM297.3 312.8h1.4v1.4h-1.4zM280.8 320.4h1.4v1.4h-1.4zM291.6 319.8h1.4v1.4h-1.4zM293.9 312.1h1.4v1.4h-1.4zM294.7 314.2h1.4v1.4h-1.4zM294.0 315.7h1.4v1.4h-1.4zM288.5 320.5h1.4v1.4h-1.4zM281.5 321.6h1.4v1.4h-1.4zM294.5 312.8h1.4v1.4h-1.4zM301.2 313.7h1.4v1.4h-1.4zM289.0 315.1h1.4v1.4h-1.4z"/>
<path fill="#2b2b2b" d="M305.7 215.5h1.6v1.6h-1.6zM275.2 223.9h1.6v1.6h-1.6zM269.2 242.2h1.6v1.6h-1.6zM304.2 233.6h1.6v1.6h-1.6zM306.9 247.0h1.6v1.6h-1.6zM259.6 255.2h1.6v1.6h-1.6z"/>
<ellipse cx="448.8" cy="314.5" rx="14.5" ry="5.0" transform="rotate(-26 448.8 314.5)" fill="#1494f8"/>
<path fill="#2b2b2b" d="M415.4 309.1h1.5v1.5h-1.5zM420.7 259.1h1.5v1.5h-1.5zM412.3 299.9h1.5v1.5h-1.5zM469.8 243.9h1.5v1.5h-1.5zM502.1 270.0h1.5v1.5h-1.5zM447.9 312.3h1.5v1.5h-1.5zM483.4 311.8h1.5v1.5h-1.5zM463.0 248.4h1.5v1.5h-1.5zM456.4 285.6h1.5v1.5h-1.5zM486.2 242.2h1.5v1.5h-1.5zM416.4 303.3h1.5v1.5h-1.5zM432.4 283.3h1.5v1.5h-1.5zM416.2 301.8h1.5v1.5h-1.5zM412.9 310.0h1.5v1.5h-1.5zM452.2 271.9h1.5v1.5h-1.5zM463.4 225.2h1.5v1.5h-1.5zM492.6 306.0h1.5v1.5h-1.5zM427.4 317.0h1.5v1.5h-1.5zM463.0 308.9h1.5v1.5h-1.5zM459.8 256.7h1.5v1.5h-1.5zM476.2 263.1h1.5v1.5h-1.5zM492.7 300.0h1.5v1.5h-1.5zM472.4 281.7h1.5v1.5h-1.5zM448.9 279.6h1.5v1.5h-1.5zM466.6 274.1h1.5v1.5h-1.5zM486.9 240.6h1.5v1.5h-1.5zM419.0 245.2h1.5v1.5h-1.5zM469.8 294.5h1.5v1.5h-1.5zM437.8 297.3h1.5v1.5h-1.5zM461.4 254.4h1.5v1.5h-1.5zM461.0 261.1h1.5v1.5h-1.5zM471.3 296.4h1.5v1.5h-1.5zM446.6 314.0h1.5v1.5h-1.5zM429.4 278.5h1.5v1.5h-1.5zM421.8 224.5h1.5v1.5h-1.5zM444.9 291.2h1.5v1.5h-1.5zM502.6 236.4h1.5v1.5h-1.5zM499.2 278.4h1.5v1.5h-1.5zM499.7 238.9h1.5v1.5h-1.5zM468.8 233.5h1.5v1.5h-1.5zM445.1 252.2h1.5v1.5h-1.5zM475.4 317.2h1.5v1.5h-1.5zM455.4 232.5h1.5v1.5h-1.5zM417.8 300.1h1.5v1.5h-1.5zM417.7 318.6h1.5v1.5h-1.5zM430.1 310.6h1.5v1.5h-1.5zM412.0 316.3h1.5v1.5h-1.5zM457.2 230.8h1.5v1.5h-1.5zM451.5 314.5h1.5v1.5h-1.5zM496.2 306.0h1.5v1.5h-1.5zM445.4 233.0h1.5v1.5h-1.5zM430.8 299.6h1.5v1.5h-1.5zM481.4 272.5h1.5v1.5h-1.5zM432.4 250.1h1.5v1.5h-1.5zM451.5 302.2h1.5v1.5h-1.5zM477.4 289.5h1.5v1.5h-1.5zM477.4 290.2h1.5v1.5h-1.5zM420.1 305.9h1.5v1.5h-1.5zM414.1 314.0h1.5v1.5h-1.5zM422.9 291.4h1.5v1.5h-1.5zM430.7 242.9h1.5v1.5h-1.5zM490.4 280.2h1.5v1.5h-1.5zM458.6 304.1h1.5v1.5h-1.5zM488.2 243.5h1.5v1.5h-1.5zM455.8 259.2h1.5v1.5h-1.5zM463.9 221.5h1.5v1.5h-1.5zM433.6 256.1h1.5v1.5h-1.5zM454.9 222.3h1.5v1.5h-1.5zM446.0 319.1h1.5v1.5h-1.5zM497.8 262.9h1.5v1.5h-1.5zM411.8 312.2h1.5v1.5h-1.5zM413.3 314.0h1.5v1.5h-1.5zM416.6 298.6h1.5v1.5h-1.5zM417.2 311.9h1.5v1.5h-1.5zM415.1 299.0h1.5v1.5h-1.5zM421.0 293.7h1.5v1.5h-1.5zM419.3 295.5h1.5v1.5h-1.5zM417.4 285.8h1.5v1.5h-1.5zM421.2 305.5h1.5v1.5h-1.5zM422.4 286.7h1.5v1.5h-1.5zM419.7 307.0h1.5v1.5h-1.5zM420.2 295.8h1.5v1.5h-1.5zM421.4 284.2h1.5v1.5h-1.5zM418.8 308.7h1.5v1.5h-1.5zM416.9 294.6h1.5v1.5h-1.5zM418.3 304.6h1.5v1.5h-1.5zM418.5 305.0h1.5v1.5h-1.5zM410.9 307.3h1.5v1.5h-1.5zM422.8 327.9h1.5v1.5h-1.5zM417.5 308.2h1.5v1.5h-1.5zM424.3 307.8h1.5v1.5h-1.5zM417.6 304.2h1.5v1.5h-1.5zM414.5 297.9h1.5v1.5h-1.5zM420.2 299.0h1.5v1.5h-1.5zM417.6 294.7h1.5v1.5h-1.5zM420.4 313.9h1.5v1.5h-1.5zM415.8 303.8h1.5v1.5h-1.5zM415.7 312.0h1.5v1.5h-1.5zM415.0 308.7h1.5v1.5h-1.5zM414.9 327.7h1.5v1.5h-1.5zM418.8 304.5h1.5v1.5h-1.5zM412.9 311.7h1.5v1.5h-1.5zM417.9 299.5h1.5v1.5h-1.5zM421.1 317.1h1.5v1.5h-1.5zM414.0 303.7h1.5v1.5h-1.5zM416.5 306.1h1.5v1.5h-1.5zM414.6 292.1h1.5v1.5h-1.5zM415.9 311.3h1.5v1.5h-1.5zM417.8 322.4h1.5v1.5h-1.5z"/>
<path fill="#2b2b2b" d="M451.4 259.5h1.4v1.4h-1.4zM436.2 263.2h1.4v1.4h-1.4zM484.5 258.8h1.4v1.4h-1.4zM446.3 276.4h1.4v1.4h-1.4zM463.1 254.9h1.4v1.4h-1.4zM446.3 275.1h1.4v1.4h-1.4zM430.7 259.7h1.4v1.4h-1.4zM450.4 257.1h1.4v1.4h-1.4zM464.5 271.8h1.4v1.4h-1.4zM440.5 251.3h1.4v1.4h-1.4zM467.9 284.8h1.4v1.4h-1.4zM489.8 253.5h1.4v1.4h-1.4zM480.5 257.3h1.4v1.4h-1.4zM453.3 284.8h1.4v1.4h-1.4zM444.6 240.9h1.4v1.4h-1.4zM475.8 279.8h1.4v1.4h-1.4zM433.8 266.1h1.4v1.4h-1.4zM440.3 266.5h1.4v1.4h-1.4zM490.7 268.2h1.4v1.4h-1.4zM466.4 250.1h1.4v1.4h-1.4zM468.5 291.9h1.4v1.4h-1.4zM454.4 273.7h1.4v1.4h-1.4zM457.4 280.7h1.4v1.4h-1.4zM475.4 269.9h1.4v1.4h-1.4zM455.2 249.5h1.4v1.4h-1.4zM468.9 243.8h1.4v1.4h-1.4zM485.0 242.6h1.4v1.4h-1.4zM484.1 257.3h1.4v1.4h-1.4zM456.4 281.0h1.4v1.4h-1.4zM468.3 243.4h1.4v1.4h-1.4zM478.7 274.3h1.4v1.4h-1.4zM487.4 258.9h1.4v1.4h-1.4zM471.7 260.2h1.4v1.4h-1.4zM459.4 246.9h1.4v1.4h-1.4zM441.2 267.1h1.4v1.4h-1.4zM443.4 254.8h1.4v1.4h-1.4zM430.7 252.9h1.4v1.4h-1.4zM441.2 257.7h1.4v1.4h-1.4zM445.1 270.2h1.4v1.4h-1.4zM474.6 280.0h1.4v1.4h-1.4zM430.7 245.4h1.4v1.4h-1.4zM468.8 272.2h1.4v1.4h-1.4zM425.0 246.2h1.4v1.4h-1.4zM450.5 253.3h1.4v1.4h-1.4zM463.9 265.0h1.4v1.4h-1.4zM493.4 263.2h1.4v1.4h-1.4zM457.5 270.2h1.4v1.4h-1.4zM462.9 231.2h1.4v1.4h-1.4zM463.8 286.8h1.4v1.4h-1.4zM471.4 277.5h1.4v1.4h-1.4zM451.9 275.0h1.4v1.4h-1.4zM493.3 238.2h1.4v1.4h-1.4zM482.2 271.6h1.4v1.4h-1.4zM463.8 256.0h1.4v1.4h-1.4zM483.7 256.3h1.4v1.4h-1.4zM459.3 264.5h1.4v1.4h-1.4zM451.5 238.3h1.4v1.4h-1.4zM459.2 281.9h1.4v1.4h-1.4zM469.8 280.9h1.4v1.4h-1.4zM432.7 277.4h1.4v1.4h-1.4zM455.2 287.2h1.4v1.4h-1.4zM469.4 236.9h1.4v1.4h-1.4zM440.8 259.7h1.4v1.4h-1.4zM467.1 259.0h1.4v1.4h-1.4zM440.7 244.3h1.4v1.4h-1.4zM464.7 277.7h1.4v1.4h-1.4zM459.6 306.0h1.4v1.4h-1.4zM467.3 247.6h1.4v1.4h-1.4zM447.4 274.0h1.4v1.4h-1.4zM424.5 266.0h1.4v1.4h-1.4zM412.9 267.2h1.4v1.4h-1.4zM433.6 275.9h1.4v1.4h-1.4zM444.6 254.7h1.4v1.4h-1.4zM430.0 258.4h1.4v1.4h-1.4zM486.2 291.6h1.4v1.4h-1.4zM473.8 265.1h1.4v1.4h-1.4zM476.3 264.8h1.4v1.4h-1.4zM439.5 236.5h1.4v1.4h-1.4zM479.4 272.5h1.4v1.4h-1.4zM446.4 274.8h1.4v1.4h-1.4zM483.4 269.2h1.4v1.4h-1.4zM458.9 290.2h1.4v1.4h-1.4zM417.8 232.8h1.4v1.4h-1.4zM458.4 279.2h1.4v1.4h-1.4zM444.1 238.4h1.4v1.4h-1.4zM505.1 247.7h1.4v1.4h-1.4zM435.7 232.5h1.4v1.4h-1.4zM454.7 277.8h1.4v1.4h-1.4zM454.9 262.4h1.4v1.4h-1.4zM444.5 257.2h1.4v1.4h-1.4zM446.5 264.8h1.4v1.4h-1.4zM459.0 230.3h1.4v1.4h-1.4zM466.4 254.2h1.4v1.4h-1.4zM452.0 267.2h1.4v1.4h-1.4zM454.9 254.3h1.4v1.4h-1.4zM459.9 262.9h1.4v1.4h-1.4zM442.2 238.4h1.4v1.4h-1.4zM455.4 266.5h1.4v1.4h-1.4zM460.4 258.9h1.4v1.4h-1.4zM478.8 267.2h1.4v1.4h-1.4zM472.3 288.9h1.4v1.4h-1.4zM468.9 264.9h1.4v1.4h-1.4zM476.7 253.9h1.4v1.4h-1.4zM445.3 269.8h1.4v1.4h-1.4zM480.6 245.6h1.4v1.4h-1.4zM482.6 277.8h1.4v1.4h-1.4zM463.3 282.1h1.4v1.4h-1.4zM462.7 278.1h1.4v1.4h-1.4zM467.8 274.2h1.4v1.4h-1.4zM446.2 273.8h1.4v1.4h-1.4zM462.6 281.0h1.4v1.4h-1.4zM460.0 280.4h1.4v1.4h-1.4zM487.9 274.0h1.4v1.4h-1.4zM480.5 281.5h1.4v1.4h-1.4zM484.7 278.1h1.4v1.4h-1.4zM462.1 274.0h1.4v1.4h-1.4zM464.0 277.4h1.4v1.4h-1.4zM476.3 284.4h1.4v1.4h-1.4zM453.0 273.5h1.4v1.4h-1.4zM453.8 294.5h1.4v1.4h-1.4zM480.6 273.6h1.4v1.4h-1.4zM470.9 294.2h1.4v1.4h-1.4zM468.7 281.8h1.4v1.4h-1.4zM440.6 274.4h1.4v1.4h-1.4zM457.9 283.8h1.4v1.4h-1.4zM457.1 281.7h1.4v1.4h-1.4zM453.7 279.2h1.4v1.4h-1.4zM466.4 279.9h1.4v1.4h-1.4zM451.6 282.5h1.4v1.4h-1.4zM445.2 263.7h1.4v1.4h-1.4zM486.5 280.5h1.4v1.4h-1.4zM468.0 277.6h1.4v1.4h-1.4zM450.4 282.5h1.4v1.4h-1.4zM488.7 280.0h1.4v1.4h-1.4zM469.4 279.0h1.4v1.4h-1.4zM465.7 272.3h1.4v1.4h-1.4zM431.6 290.7h1.4v1.4h-1.4zM480.4 275.2h1.4v1.4h-1.4zM465.4 281.2h1.4v1.4h-1.4zM477.1 273.4h1.4v1.4h-1.4zM483.5 275.6h1.4v1.4h-1.4zM447.0 277.0h1.4v1.4h-1.4zM487.3 285.5h1.4v1.4h-1.4zM472.4 272.2h1.4v1.4h-1.4zM466.0 285.5h1.4v1.4h-1.4zM434.5 273.9h1.4v1.4h-1.4zM487.4 277.5h1.4v1.4h-1.4zM467.4 277.8h1.4v1.4h-1.4zM472.2 284.6h1.4v1.4h-1.4zM450.0 284.0h1.4v1.4h-1.4zM473.5 292.2h1.4v1.4h-1.4zM473.7 296.1h1.4v1.4h-1.4zM481.2 273.8h1.4v1.4h-1.4zM453.6 286.1h1.4v1.4h-1.4zM437.1 279.1h1.4v1.4h-1.4zM455.5 275.8h1.4v1.4h-1.4zM451.9 281.9h1.4v1.4h-1.4zM467.9 284.8h1.4v1.4h-1.4zM462.6 284.4h1.4v1.4h-1.4zM466.1 278.7h1.4v1.4h-1.4zM480.1 284.1h1.4v1.4h-1.4zM482.7 269.8h1.4v1.4h-1.4zM463.6 274.8h1.4v1.4h-1.4zM444.9 283.1h1.4v1.4h-1.4zM461.7 269.6h1.4v1.4h-1.4zM462.7 288.6h1.4v1.4h-1.4zM462.5 279.7h1.4v1.4h-1.4zM461.5 278.7h1.4v1.4h-1.4zM463.7 283.0h1.4v1.4h-1.4zM436.0 277.1h1.4v1.4h-1.4zM469.8 278.6h1.4v1.4h-1.4zM467.6 269.4h1.4v1.4h-1.4zM467.1 278.8h1.4v1.4h-1.4zM462.0 281.4h1.4v1.4h-1.4zM475.5 288.0h1.4v1.4h-1.4zM443.1 284.1h1.4v1.4h-1.4zM463.2 288.7h1.4v1.4h-1.4zM469.9 279.2h1.4v1.4h-1.4zM456.0 272.0h1.4v1.4h-1.4zM462.9 285.1h1.4v1.4h-1.4zM474.9 278.9h1.4v1.4h-1.4zM460.3 277.5h1.4v1.4h-1.4zM453.4 287.9h1.4v1.4h-1.4zM456.1 275.3h1.4v1.4h-1.4zM466.8 277.5h1.4v1.4h-1.4zM451.2 286.9h1.4v1.4h-1.4zM463.8 285.5h1.4v1.4h-1.4zM457.4 277.5h1.4v1.4h-1.4zM463.8 282.2h1.4v1.4h-1.4zM471.8 279.4h1.4v1.4h-1.4zM472.1 282.7h1.4v1.4h-1.4zM463.4 279.0h1.4v1.4h-1.4zM463.3 267.6h1.4v1.4h-1.4zM471.7 276.7h1.4v1.4h-1.4zM455.3 291.0h1.4v1.4h-1.4zM463.8 275.3h1.4v1.4h-1.4zM449.2 281.7h1.4v1.4h-1.4zM478.3 282.8h1.4v1.4h-1.4zM463.9 279.0h1.4v1.4h-1.4zM446.7 276.8h1.4v1.4h-1.4zM457.3 281.3h1.4v1.4h-1.4zM471.6 277.8h1.4v1.4h-1.4zM465.4 274.8h1.4v1.4h-1.4zM443.5 283.0h1.4v1.4h-1.4zM482.2 268.7h1.4v1.4h-1.4z"/>
<path fill="#c83a5a" d="M476.5 293.3h1.3v1.3h-1.3zM453.1 306.4h1.3v1.3h-1.3zM472.9 297.3h1.3v1.3h-1.3zM459.2 308.5h1.3v1.3h-1.3zM442.6 300.5h1.3v1.3h-1.3zM453.0 309.6h1.3v1.3h-1.3zM476.0 294.4h1.3v1.3h-1.3zM461.0 302.9h1.3v1.3h-1.3zM451.4 306.2h1.3v1.3h-1.3zM460.9 288.1h1.3v1.3h-1.3zM469.5 303.5h1.3v1.3h-1.3zM459.9 300.8h1.3v1.3h-1.3zM468.9 298.8h1.3v1.3h-1.3zM462.2 306.3h1.3v1.3h-1.3zM476.5 295.7h1.3v1.3h-1.3zM473.5 300.7h1.3v1.3h-1.3zM465.6 305.4h1.3v1.3h-1.3zM464.5 294.3h1.3v1.3h-1.3zM468.8 289.9h1.3v1.3h-1.3zM466.6 308.2h1.3v1.3h-1.3zM466.6 294.4h1.3v1.3h-1.3zM471.5 317.1h1.3v1.3h-1.3zM457.2 296.9h1.3v1.3h-1.3zM446.8 313.9h1.3v1.3h-1.3zM452.2 308.8h1.3v1.3h-1.3zM455.6 309.7h1.3v1.3h-1.3zM461.2 296.0h1.3v1.3h-1.3zM490.4 290.1h1.3v1.3h-1.3zM462.6 320.7h1.3v1.3h-1.3zM457.8 301.4h1.3v1.3h-1.3zM443.4 295.2h1.3v1.3h-1.3zM462.6 308.9h1.3v1.3h-1.3zM463.3 306.5h1.3v1.3h-1.3zM473.0 303.1h1.3v1.3h-1.3zM447.6 304.9h1.3v1.3h-1.3zM470.2 302.5h1.3v1.3h-1.3zM469.5 307.0h1.3v1.3h-1.3zM459.1 301.1h1.3v1.3h-1.3zM452.1 309.8h1.3v1.3h-1.3zM455.6 311.8h1.3v1.3h-1.3zM464.6 308.6h1.3v1.3h-1.3zM468.3 298.0h1.3v1.3h-1.3zM463.5 304.5h1.3v1.3h-1.3zM464.0 319.8h1.3v1.3h-1.3zM474.1 314.2h1.3v1.3h-1.3zM449.9 301.6h1.3v1.3h-1.3zM479.5 312.4h1.3v1.3h-1.3zM490.4 284.0h1.3v1.3h-1.3zM462.3 312.7h1.3v1.3h-1.3zM469.1 288.8h1.3v1.3h-1.3zM453.8 306.6h1.3v1.3h-1.3zM462.3 297.8h1.3v1.3h-1.3zM472.1 304.9h1.3v1.3h-1.3zM476.2 297.2h1.3v1.3h-1.3zM465.9 305.1h1.3v1.3h-1.3zM478.4 297.6h1.3v1.3h-1.3zM452.6 310.7h1.3v1.3h-1.3zM465.3 309.6h1.3v1.3h-1.3zM464.3 303.2h1.3v1.3h-1.3zM464.5 301.4h1.3v1.3h-1.3zM460.3 299.0h1.3v1.3h-1.3zM478.3 286.3h1.3v1.3h-1.3zM458.3 301.0h1.3v1.3h-1.3zM475.0 299.1h1.3v1.3h-1.3zM471.9 306.6h1.3v1.3h-1.3zM483.2 290.1h1.3v1.3h-1.3zM469.4 316.4h1.3v1.3h-1.3zM475.7 306.4h1.3v1.3h-1.3zM469.8 299.3h1.3v1.3h-1.3zM434.6 322.3h1.3v1.3h-1.3zM468.0 299.8h1.3v1.3h-1.3zM467.3 284.5h1.3v1.3h-1.3zM482.0 299.0h1.3v1.3h-1.3zM454.9 309.4h1.3v1.3h-1.3zM456.1 292.4h1.3v1.3h-1.3zM479.4 301.0h1.3v1.3h-1.3zM451.5 304.7h1.3v1.3h-1.3zM455.8 305.0h1.3v1.3h-1.3zM463.6 287.6h1.3v1.3h-1.3zM470.8 298.0h1.3v1.3h-1.3zM478.9 297.3h1.3v1.3h-1.3zM473.6 293.0h1.3v1.3h-1.3zM466.4 300.7h1.3v1.3h-1.3zM447.3 295.5h1.3v1.3h-1.3zM460.2 308.9h1.3v1.3h-1.3zM464.3 301.6h1.3v1.3h-1.3zM467.9 299.5h1.3v1.3h-1.3zM467.5 305.9h1.3v1.3h-1.3zM476.1 304.1h1.3v1.3h-1.3zM457.0 305.5h1.3v1.3h-1.3zM463.8 310.1h1.3v1.3h-1.3zM459.0 320.9h1.3v1.3h-1.3zM479.8 283.6h1.3v1.3h-1.3zM463.4 303.2h1.3v1.3h-1.3zM467.9 285.7h1.3v1.3h-1.3zM478.1 296.9h1.3v1.3h-1.3zM473.2 308.6h1.3v1.3h-1.3zM462.4 301.8h1.3v1.3h-1.3zM455.6 297.0h1.3v1.3h-1.3zM460.2 299.6h1.3v1.3h-1.3zM449.6 313.9h1.3v1.3h-1.3zM453.9 294.9h1.3v1.3h-1.3zM466.7 288.2h1.3v1.3h-1.3zM469.2 303.0h1.3v1.3h-1.3zM467.6 288.1h1.3v1.3h-1.3zM472.7 297.6h1.3v1.3h-1.3zM467.5 290.7h1.3v1.3h-1.3zM459.8 290.5h1.3v1.3h-1.3zM469.6 305.8h1.3v1.3h-1.3zM477.8 303.8h1.3v1.3h-1.3zM458.3 298.5h1.3v1.3h-1.3zM460.4 324.2h1.3v1.3h-1.3zM473.4 298.1h1.3v1.3h-1.3zM467.1 305.0h1.3v1.3h-1.3zM475.8 297.0h1.3v1.3h-1.3zM454.4 298.4h1.3v1.3h-1.3zM452.7 317.8h1.3v1.3h-1.3zM463.6 303.8h1.3v1.3h-1.3zM460.5 308.8h1.3v1.3h-1.3zM456.0 308.3h1.3v1.3h-1.3zM478.1 290.9h1.3v1.3h-1.3zM476.3 315.8h1.3v1.3h-1.3zM455.1 311.4h1.3v1.3h-1.3zM448.5 309.4h1.3v1.3h-1.3zM466.3 307.0h1.3v1.3h-1.3zM465.8 290.9h1.3v1.3h-1.3zM468.8 302.9h1.3v1.3h-1.3zM486.2 313.3h1.3v1.3h-1.3zM465.3 295.9h1.3v1.3h-1.3zM471.2 302.7h1.3v1.3h-1.3zM442.1 304.9h1.3v1.3h-1.3zM477.2 295.2h1.3v1.3h-1.3zM463.7 312.4h1.3v1.3h-1.3zM469.9 290.3h1.3v1.3h-1.3zM446.4 304.6h1.3v1.3h-1.3zM460.5 314.7h1.3v1.3h-1.3zM477.2 297.3h1.3v1.3h-1.3zM455.5 313.3h1.3v1.3h-1.3zM468.5 304.6h1.3v1.3h-1.3zM456.2 295.8h1.3v1.3h-1.3zM475.1 281.2h1.3v1.3h-1.3zM461.4 287.6h1.3v1.3h-1.3zM479.2 298.1h1.3v1.3h-1.3zM459.2 292.9h1.3v1.3h-1.3zM441.9 299.8h1.3v1.3h-1.3zM482.3 287.1h1.3v1.3h-1.3zM458.8 304.2h1.3v1.3h-1.3zM466.3 303.4h1.3v1.3h-1.3zM457.6 290.3h1.3v1.3h-1.3zM454.7 319.4h1.3v1.3h-1.3zM468.1 291.8h1.3v1.3h-1.3zM461.7 305.0h1.3v1.3h-1.3zM447.7 311.4h1.3v1.3h-1.3zM446.7 303.7h1.3v1.3h-1.3zM444.4 317.2h1.3v1.3h-1.3zM458.4 308.6h1.3v1.3h-1.3zM467.0 310.6h1.3v1.3h-1.3zM462.6 320.1h1.3v1.3h-1.3zM472.3 316.5h1.3v1.3h-1.3zM464.7 310.5h1.3v1.3h-1.3zM471.9 304.0h1.3v1.3h-1.3zM463.1 300.0h1.3v1.3h-1.3zM457.1 293.4h1.3v1.3h-1.3zM458.2 309.7h1.3v1.3h-1.3zM450.8 305.2h1.3v1.3h-1.3zM454.6 305.7h1.3v1.3h-1.3zM466.1 297.2h1.3v1.3h-1.3zM461.3 307.9h1.3v1.3h-1.3zM476.8 291.7h1.3v1.3h-1.3zM481.2 313.6h1.3v1.3h-1.3zM454.6 315.8h1.3v1.3h-1.3zM466.7 296.7h1.3v1.3h-1.3zM477.7 298.1h1.3v1.3h-1.3zM463.4 315.4h1.3v1.3h-1.3zM471.6 287.9h1.3v1.3h-1.3zM458.1 308.0h1.3v1.3h-1.3zM477.6 290.3h1.3v1.3h-1.3zM469.8 300.0h1.3v1.3h-1.3zM460.3 300.6h1.3v1.3h-1.3zM449.0 313.1h1.3v1.3h-1.3zM465.0 306.3h1.3v1.3h-1.3zM459.4 311.0h1.3v1.3h-1.3zM462.2 290.8h1.3v1.3h-1.3zM458.5 312.2h1.3v1.3h-1.3zM469.0 300.2h1.3v1.3h-1.3zM457.3 301.1h1.3v1.3h-1.3zM469.8 299.0h1.3v1.3h-1.3zM478.4 308.7h1.3v1.3h-1.3zM465.5 300.7h1.3v1.3h-1.3zM465.9 294.2h1.3v1.3h-1.3zM477.7 301.3h1.3v1.3h-1.3zM454.5 306.7h1.3v1.3h-1.3zM472.9 304.0h1.3v1.3h-1.3zM467.9 303.1h1.3v1.3h-1.3zM485.1 302.9h1.3v1.3h-1.3zM460.5 299.8h1.3v1.3h-1.3zM472.5 294.8h1.3v1.3h-1.3zM452.4 319.4h1.3v1.3h-1.3zM483.0 307.1h1.3v1.3h-1.3zM469.4 301.9h1.3v1.3h-1.3zM472.9 308.7h1.3v1.3h-1.3zM475.0 301.0h1.3v1.3h-1.3zM452.5 309.9h1.3v1.3h-1.3zM456.1 293.2h1.3v1.3h-1.3zM473.4 316.3h1.3v1.3h-1.3zM466.0 312.3h1.3v1.3h-1.3zM450.9 290.7h1.3v1.3h-1.3zM476.8 302.7h1.3v1.3h-1.3zM462.6 298.8h1.3v1.3h-1.3zM458.3 297.5h1.3v1.3h-1.3zM462.8 298.8h1.3v1.3h-1.3zM480.0 300.3h1.3v1.3h-1.3zM482.2 292.1h1.3v1.3h-1.3zM474.2 295.4h1.3v1.3h-1.3zM468.7 298.9h1.3v1.3h-1.3zM450.2 307.7h1.3v1.3h-1.3zM461.1 309.4h1.3v1.3h-1.3zM447.7 294.5h1.3v1.3h-1.3zM450.3 299.3h1.3v1.3h-1.3zM475.3 295.0h1.3v1.3h-1.3zM454.2 298.4h1.3v1.3h-1.3zM478.3 296.2h1.3v1.3h-1.3zM464.1 299.7h1.3v1.3h-1.3zM464.7 306.1h1.3v1.3h-1.3zM461.9 302.8h1.3v1.3h-1.3zM453.1 314.7h1.3v1.3h-1.3zM460.6 305.1h1.3v1.3h-1.3zM475.5 302.9h1.3v1.3h-1.3zM469.8 296.7h1.3v1.3h-1.3zM459.4 290.4h1.3v1.3h-1.3zM471.2 299.2h1.3v1.3h-1.3zM466.2 302.3h1.3v1.3h-1.3zM466.6 297.5h1.3v1.3h-1.3zM491.6 296.3h1.3v1.3h-1.3zM468.0 305.7h1.3v1.3h-1.3zM454.0 322.9h1.3v1.3h-1.3zM443.0 312.4h1.3v1.3h-1.3zM456.2 304.7h1.3v1.3h-1.3zM468.8 305.4h1.3v1.3h-1.3zM479.9 307.6h1.3v1.3h-1.3zM461.9 298.8h1.3v1.3h-1.3zM468.0 305.8h1.3v1.3h-1.3zM470.5 299.7h1.3v1.3h-1.3zM454.3 306.7h1.3v1.3h-1.3zM467.9 309.6h1.3v1.3h-1.3zM471.4 307.3h1.3v1.3h-1.3zM463.8 310.2h1.3v1.3h-1.3zM454.4 303.7h1.3v1.3h-1.3zM470.0 300.4h1.3v1.3h-1.3zM469.1 286.3h1.3v1.3h-1.3zM467.6 306.5h1.3v1.3h-1.3zM437.5 307.9h1.3v1.3h-1.3zM456.3 306.0h1.3v1.3h-1.3zM464.0 311.4h1.3v1.3h-1.3zM468.1 299.5h1.3v1.3h-1.3zM460.8 307.1h1.3v1.3h-1.3zM458.1 301.5h1.3v1.3h-1.3zM484.1 315.3h1.3v1.3h-1.3zM472.3 288.6h1.3v1.3h-1.3zM463.3 299.4h1.3v1.3h-1.3zM453.7 308.8h1.3v1.3h-1.3zM463.0 327.8h1.3v1.3h-1.3zM468.7 296.5h1.3v1.3h-1.3zM457.5 308.5h1.3v1.3h-1.3zM467.5 309.3h1.3v1.3h-1.3zM454.9 291.0h1.3v1.3h-1.3zM469.6 309.1h1.3v1.3h-1.3zM469.3 304.6h1.3v1.3h-1.3zM460.6 319.8h1.3v1.3h-1.3zM464.4 317.8h1.3v1.3h-1.3zM468.5 306.6h1.3v1.3h-1.3zM469.3 311.5h1.3v1.3h-1.3zM449.4 307.6h1.3v1.3h-1.3zM478.8 286.3h1.3v1.3h-1.3zM450.6 310.6h1.3v1.3h-1.3zM475.6 300.0h1.3v1.3h-1.3zM448.1 311.5h1.3v1.3h-1.3zM475.7 302.0h1.3v1.3h-1.3zM450.3 318.5h1.3v1.3h-1.3zM480.2 311.0h1.3v1.3h-1.3zM465.9 302.6h1.3v1.3h-1.3zM470.7 297.2h1.3v1.3h-1.3zM459.5 311.9h1.3v1.3h-1.3zM468.2 304.8h1.3v1.3h-1.3zM469.4 307.2h1.3v1.3h-1.3zM472.9 315.1h1.3v1.3h-1.3zM456.4 302.5h1.3v1.3h-1.3zM480.7 302.2h1.3v1.3h-1.3zM452.7 323.8h1.3v1.3h-1.3zM455.0 321.8h1.3v1.3h-1.3zM445.2 303.2h1.3v1.3h-1.3zM477.3 294.9h1.3v1.3h-1.3zM461.2 318.2h1.3v1.3h-1.3zM457.8 308.9h1.3v1.3h-1.3zM459.5 311.8h1.3v1.3h-1.3zM461.4 305.9h1.3v1.3h-1.3zM467.3 314.8h1.3v1.3h-1.3zM461.1 309.1h1.3v1.3h-1.3zM449.1 311.3h1.3v1.3h-1.3zM469.2 303.2h1.3v1.3h-1.3zM470.1 314.0h1.3v1.3h-1.3zM480.8 299.0h1.3v1.3h-1.3zM462.6 291.8h1.3v1.3h-1.3zM456.1 291.4h1.3v1.3h-1.3zM453.6 317.0h1.3v1.3h-1.3zM459.2 293.0h1.3v1.3h-1.3zM470.9 302.0h1.3v1.3h-1.3zM477.9 290.4h1.3v1.3h-1.3zM469.2 303.5h1.3v1.3h-1.3zM469.5 294.9h1.3v1.3h-1.3zM461.3 285.2h1.3v1.3h-1.3zM485.4 304.1h1.3v1.3h-1.3zM475.3 297.3h1.3v1.3h-1.3zM464.3 302.4h1.3v1.3h-1.3zM456.5 322.1h1.3v1.3h-1.3zM482.7 299.2h1.3v1.3h-1.3zM469.4 310.5h1.3v1.3h-1.3zM455.9 306.8h1.3v1.3h-1.3zM451.0 312.5h1.3v1.3h-1.3zM449.1 316.5h1.3v1.3h-1.3zM464.6 298.3h1.3v1.3h-1.3zM465.9 310.0h1.3v1.3h-1.3zM468.9 304.8h1.3v1.3h-1.3zM474.9 294.9h1.3v1.3h-1.3zM456.9 304.4h1.3v1.3h-1.3zM470.4 307.7h1.3v1.3h-1.3zM458.6 305.5h1.3v1.3h-1.3zM457.5 311.1h1.3v1.3h-1.3zM443.9 317.9h1.3v1.3h-1.3zM456.0 306.7h1.3v1.3h-1.3zM462.6 276.6h1.3v1.3h-1.3zM460.7 308.8h1.3v1.3h-1.3zM470.3 307.2h1.3v1.3h-1.3zM463.1 298.8h1.3v1.3h-1.3zM481.4 288.0h1.3v1.3h-1.3zM481.8 301.2h1.3v1.3h-1.3zM453.7 299.4h1.3v1.3h-1.3zM464.9 314.1h1.3v1.3h-1.3zM477.6 301.0h1.3v1.3h-1.3zM472.0 311.3h1.3v1.3h-1.3zM465.4 302.8h1.3v1.3h-1.3zM476.3 297.8h1.3v1.3h-1.3zM471.1 302.3h1.3v1.3h-1.3zM460.4 292.7h1.3v1.3h-1.3zM490.6 281.0h1.3v1.3h-1.3zM472.8 308.5h1.3v1.3h-1.3zM449.3 306.6h1.3v1.3h-1.3zM464.4 295.5h1.3v1.3h-1.3zM468.6 304.2h1.3v1.3h-1.3zM486.3 303.1h1.3v1.3h-1.3zM467.8 301.3h1.3v1.3h-1.3zM457.7 305.3h1.3v1.3h-1.3zM468.3 301.3h1.3v1.3h-1.3zM454.6 313.1h1.3v1.3h-1.3zM455.4 295.4h1.3v1.3h-1.3zM469.5 303.9h1.3v1.3h-1.3zM458.0 311.0h1.3v1.3h-1.3zM449.2 321.6h1.3v1.3h-1.3zM458.7 316.5h1.3v1.3h-1.3zM459.3 312.5h1.3v1.3h-1.3zM477.7 313.7h1.3v1.3h-1.3zM460.1 306.5h1.3v1.3h-1.3zM463.5 303.5h1.3v1.3h-1.3zM461.6 319.7h1.3v1.3h-1.3zM465.6 304.4h1.3v1.3h-1.3zM456.2 303.7h1.3v1.3h-1.3zM467.8 297.3h1.3v1.3h-1.3zM466.6 302.6h1.3v1.3h-1.3zM473.2 287.2h1.3v1.3h-1.3zM473.7 307.2h1.3v1.3h-1.3zM462.4 307.9h1.3v1.3h-1.3zM460.7 317.2h1.3v1.3h-1.3zM462.4 296.3h1.3v1.3h-1.3zM470.0 297.8h1.3v1.3h-1.3zM476.7 291.3h1.3v1.3h-1.3zM460.9 310.6h1.3v1.3h-1.3zM452.9 314.0h1.3v1.3h-1.3zM449.4 319.2h1.3v1.3h-1.3zM457.1 314.3h1.3v1.3h-1.3zM458.1 298.3h1.3v1.3h-1.3z"/>
<path fill="#3a74d0" d="M462.6 302.6h1.3v1.3h-1.3zM458.4 298.7h1.3v1.3h-1.3zM458.3 300.4h1.3v1.3h-1.3zM461.8 297.2h1.3v1.3h-1.3zM444.4 310.0h1.3v1.3h-1.3zM456.0 308.6h1.3v1.3h-1.3zM454.0 297.7h1.3v1.3h-1.3zM454.0 308.0h1.3v1.3h-1.3zM451.0 308.6h1.3v1.3h-1.3zM464.2 294.2h1.3v1.3h-1.3zM470.6 306.2h1.3v1.3h-1.3zM474.6 298.3h1.3v1.3h-1.3zM453.6 309.3h1.3v1.3h-1.3zM440.1 310.8h1.3v1.3h-1.3zM462.6 296.6h1.3v1.3h-1.3zM457.1 305.2h1.3v1.3h-1.3zM446.8 300.6h1.3v1.3h-1.3zM464.6 303.1h1.3v1.3h-1.3zM455.3 298.0h1.3v1.3h-1.3zM445.9 311.2h1.3v1.3h-1.3zM462.0 306.7h1.3v1.3h-1.3zM445.7 309.6h1.3v1.3h-1.3zM461.4 297.8h1.3v1.3h-1.3zM447.2 305.3h1.3v1.3h-1.3zM447.8 311.2h1.3v1.3h-1.3zM461.3 294.6h1.3v1.3h-1.3zM466.2 299.2h1.3v1.3h-1.3zM460.0 309.9h1.3v1.3h-1.3zM444.4 298.9h1.3v1.3h-1.3zM461.2 296.8h1.3v1.3h-1.3zM460.8 304.5h1.3v1.3h-1.3zM457.4 296.7h1.3v1.3h-1.3zM452.7 299.9h1.3v1.3h-1.3zM443.6 303.8h1.3v1.3h-1.3zM457.8 310.2h1.3v1.3h-1.3zM463.4 286.0h1.3v1.3h-1.3zM453.3 305.9h1.3v1.3h-1.3zM457.3 302.9h1.3v1.3h-1.3zM458.4 303.8h1.3v1.3h-1.3zM463.7 295.1h1.3v1.3h-1.3zM461.2 302.6h1.3v1.3h-1.3zM454.0 302.6h1.3v1.3h-1.3zM470.7 290.5h1.3v1.3h-1.3zM467.9 316.1h1.3v1.3h-1.3zM464.2 307.3h1.3v1.3h-1.3zM450.4 300.6h1.3v1.3h-1.3zM444.9 306.4h1.3v1.3h-1.3zM463.6 303.6h1.3v1.3h-1.3zM460.5 312.4h1.3v1.3h-1.3zM460.7 300.9h1.3v1.3h-1.3zM443.8 317.0h1.3v1.3h-1.3zM472.4 296.9h1.3v1.3h-1.3zM462.7 309.3h1.3v1.3h-1.3zM463.4 296.9h1.3v1.3h-1.3zM448.2 304.1h1.3v1.3h-1.3zM460.4 304.4h1.3v1.3h-1.3zM460.9 304.1h1.3v1.3h-1.3zM467.6 298.6h1.3v1.3h-1.3zM468.6 306.3h1.3v1.3h-1.3zM445.2 316.1h1.3v1.3h-1.3zM460.9 303.0h1.3v1.3h-1.3zM456.4 296.7h1.3v1.3h-1.3zM458.5 308.4h1.3v1.3h-1.3zM463.2 306.9h1.3v1.3h-1.3zM461.5 297.4h1.3v1.3h-1.3zM466.1 298.7h1.3v1.3h-1.3zM446.8 302.7h1.3v1.3h-1.3zM452.8 307.8h1.3v1.3h-1.3zM458.6 302.0h1.3v1.3h-1.3zM458.7 291.2h1.3v1.3h-1.3zM451.6 307.7h1.3v1.3h-1.3zM458.0 301.7h1.3v1.3h-1.3zM448.2 307.3h1.3v1.3h-1.3zM462.4 308.7h1.3v1.3h-1.3zM459.1 306.7h1.3v1.3h-1.3zM465.5 305.7h1.3v1.3h-1.3zM468.7 295.6h1.3v1.3h-1.3zM457.1 313.9h1.3v1.3h-1.3zM460.0 297.5h1.3v1.3h-1.3zM449.1 314.3h1.3v1.3h-1.3zM457.0 294.3h1.3v1.3h-1.3zM473.4 296.7h1.3v1.3h-1.3zM444.1 305.0h1.3v1.3h-1.3zM450.7 298.1h1.3v1.3h-1.3zM436.6 321.0h1.3v1.3h-1.3zM462.9 302.5h1.3v1.3h-1.3zM477.5 296.3h1.3v1.3h-1.3zM452.0 307.8h1.3v1.3h-1.3zM462.5 303.3h1.3v1.3h-1.3zM469.7 297.0h1.3v1.3h-1.3zM452.7 306.0h1.3v1.3h-1.3zM461.1 303.1h1.3v1.3h-1.3zM460.2 318.8h1.3v1.3h-1.3zM452.5 300.3h1.3v1.3h-1.3zM454.9 295.5h1.3v1.3h-1.3zM463.3 294.7h1.3v1.3h-1.3zM459.0 298.9h1.3v1.3h-1.3zM460.6 306.4h1.3v1.3h-1.3zM461.3 310.0h1.3v1.3h-1.3zM471.2 304.6h1.3v1.3h-1.3zM462.6 300.1h1.3v1.3h-1.3zM464.8 305.4h1.3v1.3h-1.3zM450.7 321.5h1.3v1.3h-1.3zM459.7 307.8h1.3v1.3h-1.3zM455.1 315.2h1.3v1.3h-1.3zM470.1 290.7h1.3v1.3h-1.3zM467.4 305.2h1.3v1.3h-1.3zM473.2 301.3h1.3v1.3h-1.3zM449.4 300.9h1.3v1.3h-1.3zM447.8 310.7h1.3v1.3h-1.3zM455.2 310.4h1.3v1.3h-1.3zM461.8 296.1h1.3v1.3h-1.3zM457.0 311.4h1.3v1.3h-1.3zM468.1 305.4h1.3v1.3h-1.3zM471.0 299.1h1.3v1.3h-1.3zM456.7 304.5h1.3v1.3h-1.3zM466.7 298.1h1.3v1.3h-1.3zM443.7 315.3h1.3v1.3h-1.3zM453.4 314.9h1.3v1.3h-1.3zM450.8 299.1h1.3v1.3h-1.3zM457.6 306.0h1.3v1.3h-1.3zM449.3 311.2h1.3v1.3h-1.3zM454.1 300.6h1.3v1.3h-1.3zM463.8 292.0h1.3v1.3h-1.3zM465.5 298.5h1.3v1.3h-1.3zM457.9 292.7h1.3v1.3h-1.3zM453.2 308.6h1.3v1.3h-1.3zM469.8 295.5h1.3v1.3h-1.3zM461.4 294.6h1.3v1.3h-1.3zM451.8 307.9h1.3v1.3h-1.3zM464.7 294.4h1.3v1.3h-1.3zM454.7 301.0h1.3v1.3h-1.3zM467.4 307.0h1.3v1.3h-1.3zM460.2 297.5h1.3v1.3h-1.3zM456.5 287.2h1.3v1.3h-1.3zM472.2 298.0h1.3v1.3h-1.3zM476.1 286.4h1.3v1.3h-1.3zM460.1 296.6h1.3v1.3h-1.3zM465.4 310.6h1.3v1.3h-1.3zM459.3 302.8h1.3v1.3h-1.3zM465.9 305.2h1.3v1.3h-1.3zM460.3 293.0h1.3v1.3h-1.3zM446.6 303.4h1.3v1.3h-1.3zM458.2 298.1h1.3v1.3h-1.3zM480.0 296.4h1.3v1.3h-1.3zM463.9 295.9h1.3v1.3h-1.3zM462.6 287.8h1.3v1.3h-1.3zM461.9 307.0h1.3v1.3h-1.3zM475.2 290.3h1.3v1.3h-1.3zM464.9 300.6h1.3v1.3h-1.3zM459.9 308.2h1.3v1.3h-1.3zM460.8 317.5h1.3v1.3h-1.3zM463.6 300.4h1.3v1.3h-1.3zM478.6 303.1h1.3v1.3h-1.3zM450.8 298.5h1.3v1.3h-1.3zM452.9 308.0h1.3v1.3h-1.3zM442.9 314.8h1.3v1.3h-1.3zM458.8 288.0h1.3v1.3h-1.3zM448.6 302.5h1.3v1.3h-1.3zM452.0 302.3h1.3v1.3h-1.3zM453.1 310.2h1.3v1.3h-1.3zM451.5 304.3h1.3v1.3h-1.3zM464.6 297.2h1.3v1.3h-1.3zM451.7 302.8h1.3v1.3h-1.3zM462.4 304.6h1.3v1.3h-1.3zM453.8 305.9h1.3v1.3h-1.3zM456.6 304.2h1.3v1.3h-1.3zM464.1 298.8h1.3v1.3h-1.3zM466.8 303.6h1.3v1.3h-1.3zM448.4 304.6h1.3v1.3h-1.3zM459.8 302.8h1.3v1.3h-1.3zM452.4 307.4h1.3v1.3h-1.3zM466.3 301.9h1.3v1.3h-1.3zM457.9 311.2h1.3v1.3h-1.3zM453.4 309.2h1.3v1.3h-1.3zM462.0 292.5h1.3v1.3h-1.3zM458.2 311.0h1.3v1.3h-1.3zM464.3 309.1h1.3v1.3h-1.3zM469.1 306.8h1.3v1.3h-1.3zM458.1 310.3h1.3v1.3h-1.3zM452.5 296.7h1.3v1.3h-1.3zM464.0 300.1h1.3v1.3h-1.3zM479.8 297.4h1.3v1.3h-1.3zM466.8 305.1h1.3v1.3h-1.3zM465.2 299.7h1.3v1.3h-1.3zM460.3 304.1h1.3v1.3h-1.3zM456.1 298.0h1.3v1.3h-1.3zM472.6 298.9h1.3v1.3h-1.3zM447.7 296.1h1.3v1.3h-1.3zM453.6 305.6h1.3v1.3h-1.3zM474.2 302.0h1.3v1.3h-1.3zM450.1 300.9h1.3v1.3h-1.3zM453.8 315.9h1.3v1.3h-1.3zM469.4 311.7h1.3v1.3h-1.3zM469.2 301.9h1.3v1.3h-1.3zM472.0 293.0h1.3v1.3h-1.3zM475.6 291.2h1.3v1.3h-1.3zM438.6 307.5h1.3v1.3h-1.3zM460.5 308.4h1.3v1.3h-1.3zM454.0 299.3h1.3v1.3h-1.3zM463.3 303.0h1.3v1.3h-1.3zM449.9 301.8h1.3v1.3h-1.3zM461.8 306.3h1.3v1.3h-1.3zM457.9 295.2h1.3v1.3h-1.3zM461.0 302.1h1.3v1.3h-1.3zM451.1 303.8h1.3v1.3h-1.3zM464.8 307.9h1.3v1.3h-1.3zM451.8 305.5h1.3v1.3h-1.3zM452.7 306.7h1.3v1.3h-1.3zM461.2 310.7h1.3v1.3h-1.3zM462.8 294.2h1.3v1.3h-1.3zM440.4 306.3h1.3v1.3h-1.3zM459.2 303.6h1.3v1.3h-1.3zM467.6 292.0h1.3v1.3h-1.3zM466.0 311.6h1.3v1.3h-1.3zM456.0 306.7h1.3v1.3h-1.3zM462.5 303.7h1.3v1.3h-1.3zM471.2 294.7h1.3v1.3h-1.3zM449.0 287.9h1.3v1.3h-1.3zM458.0 313.4h1.3v1.3h-1.3zM465.4 299.4h1.3v1.3h-1.3zM451.5 294.2h1.3v1.3h-1.3zM450.9 301.1h1.3v1.3h-1.3zM466.1 299.6h1.3v1.3h-1.3zM456.8 313.8h1.3v1.3h-1.3zM458.3 306.7h1.3v1.3h-1.3zM471.2 299.4h1.3v1.3h-1.3zM461.8 304.5h1.3v1.3h-1.3zM466.9 293.1h1.3v1.3h-1.3zM443.6 308.2h1.3v1.3h-1.3zM447.8 310.5h1.3v1.3h-1.3zM449.4 300.1h1.3v1.3h-1.3zM458.6 304.3h1.3v1.3h-1.3zM446.5 315.7h1.3v1.3h-1.3zM454.1 290.2h1.3v1.3h-1.3zM454.5 304.9h1.3v1.3h-1.3zM454.6 304.5h1.3v1.3h-1.3zM460.0 303.9h1.3v1.3h-1.3zM462.7 313.9h1.3v1.3h-1.3zM445.8 301.8h1.3v1.3h-1.3zM463.5 314.7h1.3v1.3h-1.3zM452.1 312.6h1.3v1.3h-1.3zM477.3 310.5h1.3v1.3h-1.3zM454.7 303.7h1.3v1.3h-1.3zM458.4 306.7h1.3v1.3h-1.3zM453.9 305.9h1.3v1.3h-1.3zM461.2 306.1h1.3v1.3h-1.3zM458.5 297.9h1.3v1.3h-1.3zM456.0 300.1h1.3v1.3h-1.3zM450.7 307.4h1.3v1.3h-1.3zM470.1 301.9h1.3v1.3h-1.3zM455.3 296.9h1.3v1.3h-1.3zM443.6 310.3h1.3v1.3h-1.3zM439.8 310.5h1.3v1.3h-1.3zM451.4 310.2h1.3v1.3h-1.3zM452.6 313.2h1.3v1.3h-1.3zM441.7 303.3h1.3v1.3h-1.3zM448.6 302.7h1.3v1.3h-1.3zM460.8 300.3h1.3v1.3h-1.3zM466.0 292.6h1.3v1.3h-1.3zM465.3 309.9h1.3v1.3h-1.3zM467.0 310.9h1.3v1.3h-1.3zM470.5 302.3h1.3v1.3h-1.3zM478.0 296.3h1.3v1.3h-1.3zM464.9 292.5h1.3v1.3h-1.3zM461.1 295.7h1.3v1.3h-1.3zM459.5 306.3h1.3v1.3h-1.3zM455.8 315.8h1.3v1.3h-1.3zM461.5 299.7h1.3v1.3h-1.3zM469.5 299.6h1.3v1.3h-1.3zM466.5 310.5h1.3v1.3h-1.3zM460.2 315.0h1.3v1.3h-1.3zM460.8 295.6h1.3v1.3h-1.3zM459.4 305.3h1.3v1.3h-1.3zM456.8 310.1h1.3v1.3h-1.3zM438.7 303.8h1.3v1.3h-1.3zM462.0 298.5h1.3v1.3h-1.3zM454.6 307.4h1.3v1.3h-1.3zM466.7 295.4h1.3v1.3h-1.3zM455.8 309.0h1.3v1.3h-1.3zM458.7 301.0h1.3v1.3h-1.3zM449.6 297.0h1.3v1.3h-1.3zM469.2 288.8h1.3v1.3h-1.3zM463.4 286.0h1.3v1.3h-1.3zM455.0 296.4h1.3v1.3h-1.3zM472.1 299.8h1.3v1.3h-1.3zM450.2 310.4h1.3v1.3h-1.3zM465.8 302.9h1.3v1.3h-1.3zM458.7 312.5h1.3v1.3h-1.3zM454.6 297.8h1.3v1.3h-1.3zM454.0 302.7h1.3v1.3h-1.3zM464.2 301.1h1.3v1.3h-1.3zM450.1 320.0h1.3v1.3h-1.3zM456.4 306.7h1.3v1.3h-1.3zM469.6 296.2h1.3v1.3h-1.3zM442.2 315.0h1.3v1.3h-1.3zM454.8 299.4h1.3v1.3h-1.3zM442.7 298.9h1.3v1.3h-1.3zM439.5 317.8h1.3v1.3h-1.3zM461.0 299.1h1.3v1.3h-1.3zM456.7 307.6h1.3v1.3h-1.3zM465.6 291.1h1.3v1.3h-1.3zM441.7 306.9h1.3v1.3h-1.3zM464.4 305.3h1.3v1.3h-1.3zM472.3 296.9h1.3v1.3h-1.3zM447.5 316.5h1.3v1.3h-1.3zM462.3 296.6h1.3v1.3h-1.3zM464.9 300.3h1.3v1.3h-1.3zM463.0 305.7h1.3v1.3h-1.3zM473.0 301.4h1.3v1.3h-1.3zM464.5 299.7h1.3v1.3h-1.3zM454.5 307.8h1.3v1.3h-1.3zM453.0 306.1h1.3v1.3h-1.3zM457.8 302.9h1.3v1.3h-1.3zM472.1 295.2h1.3v1.3h-1.3zM459.7 306.0h1.3v1.3h-1.3zM462.4 291.9h1.3v1.3h-1.3zM458.1 303.4h1.3v1.3h-1.3zM461.2 294.7h1.3v1.3h-1.3zM463.6 300.5h1.3v1.3h-1.3zM468.3 295.9h1.3v1.3h-1.3zM474.3 295.4h1.3v1.3h-1.3zM454.6 303.7h1.3v1.3h-1.3zM449.8 307.2h1.3v1.3h-1.3zM454.5 295.8h1.3v1.3h-1.3zM463.3 310.1h1.3v1.3h-1.3zM457.4 294.3h1.3v1.3h-1.3zM461.6 288.1h1.3v1.3h-1.3zM457.1 306.3h1.3v1.3h-1.3zM461.2 305.6h1.3v1.3h-1.3zM459.2 302.0h1.3v1.3h-1.3zM467.2 295.7h1.3v1.3h-1.3zM452.6 298.5h1.3v1.3h-1.3zM474.5 306.6h1.3v1.3h-1.3zM469.6 284.6h1.3v1.3h-1.3zM464.7 315.6h1.3v1.3h-1.3zM466.0 287.6h1.3v1.3h-1.3zM460.8 294.5h1.3v1.3h-1.3zM458.3 301.4h1.3v1.3h-1.3zM474.2 290.8h1.3v1.3h-1.3zM470.9 299.2h1.3v1.3h-1.3zM454.6 299.3h1.3v1.3h-1.3zM463.1 297.9h1.3v1.3h-1.3zM449.6 297.1h1.3v1.3h-1.3zM452.3 314.8h1.3v1.3h-1.3zM467.2 295.9h1.3v1.3h-1.3zM457.5 298.3h1.3v1.3h-1.3zM472.9 294.8h1.3v1.3h-1.3zM463.8 306.3h1.3v1.3h-1.3zM463.1 303.0h1.3v1.3h-1.3zM456.9 299.1h1.3v1.3h-1.3zM461.7 302.4h1.3v1.3h-1.3zM454.7 307.8h1.3v1.3h-1.3zM459.4 305.7h1.3v1.3h-1.3zM445.2 308.8h1.3v1.3h-1.3zM447.6 314.3h1.3v1.3h-1.3zM445.8 303.0h1.3v1.3h-1.3zM455.3 306.1h1.3v1.3h-1.3zM456.7 298.7h1.3v1.3h-1.3zM458.7 303.8h1.3v1.3h-1.3zM467.4 294.2h1.3v1.3h-1.3zM481.5 294.9h1.3v1.3h-1.3zM439.5 311.7h1.3v1.3h-1.3zM474.9 302.3h1.3v1.3h-1.3zM464.5 293.6h1.3v1.3h-1.3zM458.4 310.7h1.3v1.3h-1.3zM458.5 297.6h1.3v1.3h-1.3zM436.9 298.8h1.3v1.3h-1.3zM455.0 298.7h1.3v1.3h-1.3zM474.9 300.1h1.3v1.3h-1.3zM450.9 309.3h1.3v1.3h-1.3zM456.5 308.1h1.3v1.3h-1.3zM459.4 300.3h1.3v1.3h-1.3zM466.1 301.5h1.3v1.3h-1.3zM457.1 297.5h1.3v1.3h-1.3zM460.8 314.3h1.3v1.3h-1.3zM469.7 308.2h1.3v1.3h-1.3zM456.5 307.9h1.3v1.3h-1.3zM477.0 289.0h1.3v1.3h-1.3zM467.7 293.9h1.3v1.3h-1.3z"/>
<path fill="#1494f8" d="M454.8 312.7h1.4v1.4h-1.4zM455.0 318.1h1.4v1.4h-1.4zM444.4 320.7h1.4v1.4h-1.4zM454.0 308.3h1.4v1.4h-1.4zM457.2 312.4h1.4v1.4h-1.4zM454.1 311.8h1.4v1.4h-1.4zM450.8 308.2h1.4v1.4h-1.4zM450.6 310.7h1.4v1.4h-1.4zM451.0 316.0h1.4v1.4h-1.4zM446.8 313.3h1.4v1.4h-1.4zM443.6 312.6h1.4v1.4h-1.4zM458.1 306.6h1.4v1.4h-1.4zM436.0 315.1h1.4v1.4h-1.4zM448.3 308.0h1.4v1.4h-1.4zM456.7 310.8h1.4v1.4h-1.4zM467.8 305.7h1.4v1.4h-1.4zM448.4 317.1h1.4v1.4h-1.4zM458.0 303.4h1.4v1.4h-1.4zM457.9 304.9h1.4v1.4h-1.4zM457.6 310.5h1.4v1.4h-1.4zM464.1 306.3h1.4v1.4h-1.4zM436.9 318.4h1.4v1.4h-1.4zM455.7 305.7h1.4v1.4h-1.4zM448.7 312.2h1.4v1.4h-1.4zM451.4 307.0h1.4v1.4h-1.4zM451.1 317.5h1.4v1.4h-1.4zM444.6 317.7h1.4v1.4h-1.4zM434.4 316.8h1.4v1.4h-1.4zM454.9 314.6h1.4v1.4h-1.4zM446.7 310.6h1.4v1.4h-1.4zM440.6 319.2h1.4v1.4h-1.4zM449.2 313.5h1.4v1.4h-1.4zM440.9 315.6h1.4v1.4h-1.4zM445.0 319.7h1.4v1.4h-1.4zM448.9 307.3h1.4v1.4h-1.4zM455.3 308.8h1.4v1.4h-1.4zM434.5 319.0h1.4v1.4h-1.4zM446.6 307.9h1.4v1.4h-1.4zM452.1 306.2h1.4v1.4h-1.4zM440.1 317.8h1.4v1.4h-1.4zM447.5 314.6h1.4v1.4h-1.4zM450.6 308.7h1.4v1.4h-1.4zM457.4 310.9h1.4v1.4h-1.4zM441.4 318.4h1.4v1.4h-1.4zM438.1 321.1h1.4v1.4h-1.4zM444.3 314.5h1.4v1.4h-1.4zM445.4 314.5h1.4v1.4h-1.4zM449.9 314.7h1.4v1.4h-1.4zM448.9 311.1h1.4v1.4h-1.4zM433.3 317.8h1.4v1.4h-1.4zM453.1 306.8h1.4v1.4h-1.4zM437.2 320.6h1.4v1.4h-1.4zM453.7 315.2h1.4v1.4h-1.4zM450.6 305.9h1.4v1.4h-1.4zM452.1 310.6h1.4v1.4h-1.4zM452.6 313.9h1.4v1.4h-1.4zM454.1 315.9h1.4v1.4h-1.4zM443.7 316.8h1.4v1.4h-1.4zM441.8 313.9h1.4v1.4h-1.4zM466.6 307.2h1.4v1.4h-1.4zM464.7 313.8h1.4v1.4h-1.4zM460.3 309.2h1.4v1.4h-1.4zM456.7 312.1h1.4v1.4h-1.4zM439.6 324.1h1.4v1.4h-1.4zM461.8 302.1h1.4v1.4h-1.4zM448.9 316.4h1.4v1.4h-1.4zM451.3 317.6h1.4v1.4h-1.4zM456.7 313.3h1.4v1.4h-1.4zM444.6 316.4h1.4v1.4h-1.4zM459.1 307.5h1.4v1.4h-1.4zM430.2 321.0h1.4v1.4h-1.4zM457.1 305.2h1.4v1.4h-1.4zM452.8 310.1h1.4v1.4h-1.4zM441.3 313.3h1.4v1.4h-1.4zM455.8 310.0h1.4v1.4h-1.4zM458.1 308.5h1.4v1.4h-1.4zM454.8 308.8h1.4v1.4h-1.4zM456.1 308.8h1.4v1.4h-1.4zM447.6 314.5h1.4v1.4h-1.4zM455.8 306.0h1.4v1.4h-1.4zM458.4 311.2h1.4v1.4h-1.4zM459.5 309.1h1.4v1.4h-1.4zM455.3 312.6h1.4v1.4h-1.4zM436.1 318.8h1.4v1.4h-1.4zM453.2 310.9h1.4v1.4h-1.4zM439.4 318.8h1.4v1.4h-1.4zM443.5 316.7h1.4v1.4h-1.4zM447.7 312.9h1.4v1.4h-1.4zM450.0 312.0h1.4v1.4h-1.4zM446.1 313.2h1.4v1.4h-1.4zM451.1 311.4h1.4v1.4h-1.4zM452.0 309.7h1.4v1.4h-1.4zM449.3 310.8h1.4v1.4h-1.4zM448.2 310.6h1.4v1.4h-1.4zM453.5 316.2h1.4v1.4h-1.4zM453.3 309.3h1.4v1.4h-1.4zM441.6 316.9h1.4v1.4h-1.4zM436.0 316.6h1.4v1.4h-1.4zM457.1 310.2h1.4v1.4h-1.4zM451.4 316.7h1.4v1.4h-1.4zM429.8 320.5h1.4v1.4h-1.4zM457.5 310.1h1.4v1.4h-1.4zM457.4 309.4h1.4v1.4h-1.4zM435.6 323.1h1.4v1.4h-1.4zM439.3 318.1h1.4v1.4h-1.4zM444.4 315.6h1.4v1.4h-1.4zM438.8 317.9h1.4v1.4h-1.4zM441.1 310.9h1.4v1.4h-1.4zM449.4 316.9h1.4v1.4h-1.4zM458.4 314.8h1.4v1.4h-1.4zM428.3 321.0h1.4v1.4h-1.4zM450.4 316.0h1.4v1.4h-1.4zM457.0 309.8h1.4v1.4h-1.4zM431.7 327.1h1.4v1.4h-1.4zM450.4 311.3h1.4v1.4h-1.4zM448.7 315.4h1.4v1.4h-1.4zM446.1 319.7h1.4v1.4h-1.4zM455.4 312.6h1.4v1.4h-1.4zM459.3 309.5h1.4v1.4h-1.4zM457.3 309.7h1.4v1.4h-1.4zM463.9 304.5h1.4v1.4h-1.4zM443.5 317.0h1.4v1.4h-1.4zM431.6 319.1h1.4v1.4h-1.4zM447.0 320.5h1.4v1.4h-1.4zM451.0 314.9h1.4v1.4h-1.4zM457.8 309.1h1.4v1.4h-1.4zM451.2 307.8h1.4v1.4h-1.4zM445.8 319.2h1.4v1.4h-1.4zM461.4 312.5h1.4v1.4h-1.4zM453.2 313.5h1.4v1.4h-1.4zM452.1 315.5h1.4v1.4h-1.4zM448.7 317.2h1.4v1.4h-1.4zM452.2 312.4h1.4v1.4h-1.4zM453.3 311.1h1.4v1.4h-1.4zM449.5 314.2h1.4v1.4h-1.4zM432.3 326.5h1.4v1.4h-1.4zM441.6 315.8h1.4v1.4h-1.4zM450.5 308.1h1.4v1.4h-1.4zM461.6 308.4h1.4v1.4h-1.4zM458.5 309.8h1.4v1.4h-1.4zM457.7 309.5h1.4v1.4h-1.4zM463.0 307.8h1.4v1.4h-1.4zM453.0 308.2h1.4v1.4h-1.4zM458.5 306.5h1.4v1.4h-1.4zM456.8 308.9h1.4v1.4h-1.4zM451.2 312.7h1.4v1.4h-1.4zM443.2 318.6h1.4v1.4h-1.4zM437.7 322.0h1.4v1.4h-1.4zM453.2 312.7h1.4v1.4h-1.4zM439.7 318.1h1.4v1.4h-1.4zM447.4 311.5h1.4v1.4h-1.4zM454.6 309.7h1.4v1.4h-1.4zM441.9 312.2h1.4v1.4h-1.4zM455.7 308.3h1.4v1.4h-1.4zM450.6 314.5h1.4v1.4h-1.4zM443.4 318.6h1.4v1.4h-1.4zM452.8 308.7h1.4v1.4h-1.4zM456.8 314.0h1.4v1.4h-1.4zM442.7 309.1h1.4v1.4h-1.4zM454.2 313.1h1.4v1.4h-1.4zM440.8 317.8h1.4v1.4h-1.4zM450.4 312.7h1.4v1.4h-1.4zM452.5 313.5h1.4v1.4h-1.4zM441.1 316.3h1.4v1.4h-1.4zM453.5 319.2h1.4v1.4h-1.4zM460.4 306.7h1.4v1.4h-1.4zM444.3 315.0h1.4v1.4h-1.4zM441.3 318.6h1.4v1.4h-1.4zM436.0 313.6h1.4v1.4h-1.4zM443.5 316.0h1.4v1.4h-1.4zM439.2 313.8h1.4v1.4h-1.4zM438.6 323.4h1.4v1.4h-1.4zM449.9 311.7h1.4v1.4h-1.4zM452.2 311.8h1.4v1.4h-1.4zM439.8 312.3h1.4v1.4h-1.4zM452.7 318.0h1.4v1.4h-1.4zM454.8 305.1h1.4v1.4h-1.4zM450.7 308.0h1.4v1.4h-1.4zM450.3 310.6h1.4v1.4h-1.4zM452.2 304.5h1.4v1.4h-1.4zM443.0 312.2h1.4v1.4h-1.4zM456.3 308.7h1.4v1.4h-1.4zM465.9 309.0h1.4v1.4h-1.4zM446.3 318.7h1.4v1.4h-1.4zM433.7 317.2h1.4v1.4h-1.4zM443.5 314.4h1.4v1.4h-1.4zM443.0 318.8h1.4v1.4h-1.4zM453.2 315.5h1.4v1.4h-1.4zM458.3 306.2h1.4v1.4h-1.4zM454.1 310.2h1.4v1.4h-1.4zM463.4 306.5h1.4v1.4h-1.4zM453.8 311.7h1.4v1.4h-1.4zM450.4 312.1h1.4v1.4h-1.4zM437.3 325.3h1.4v1.4h-1.4zM452.8 311.0h1.4v1.4h-1.4zM446.7 318.7h1.4v1.4h-1.4zM446.7 316.6h1.4v1.4h-1.4zM452.7 323.7h1.4v1.4h-1.4zM464.7 311.0h1.4v1.4h-1.4zM454.3 304.6h1.4v1.4h-1.4zM451.2 314.8h1.4v1.4h-1.4zM436.3 312.9h1.4v1.4h-1.4zM448.6 318.4h1.4v1.4h-1.4zM447.7 313.3h1.4v1.4h-1.4zM454.1 304.0h1.4v1.4h-1.4zM453.1 308.3h1.4v1.4h-1.4zM453.8 310.1h1.4v1.4h-1.4zM444.7 320.6h1.4v1.4h-1.4zM457.6 309.7h1.4v1.4h-1.4zM471.7 304.1h1.4v1.4h-1.4zM438.3 316.5h1.4v1.4h-1.4zM441.3 315.7h1.4v1.4h-1.4zM448.5 308.7h1.4v1.4h-1.4zM457.0 308.2h1.4v1.4h-1.4zM451.6 311.3h1.4v1.4h-1.4zM450.6 312.4h1.4v1.4h-1.4zM460.3 305.1h1.4v1.4h-1.4zM441.2 316.4h1.4v1.4h-1.4zM433.2 319.5h1.4v1.4h-1.4zM438.2 319.4h1.4v1.4h-1.4zM455.1 308.1h1.4v1.4h-1.4zM456.2 307.6h1.4v1.4h-1.4zM445.4 311.9h1.4v1.4h-1.4zM437.4 316.5h1.4v1.4h-1.4zM442.3 315.4h1.4v1.4h-1.4zM451.0 308.7h1.4v1.4h-1.4zM458.6 312.7h1.4v1.4h-1.4zM445.9 318.1h1.4v1.4h-1.4zM443.3 317.1h1.4v1.4h-1.4zM443.1 318.6h1.4v1.4h-1.4zM442.8 312.0h1.4v1.4h-1.4zM453.5 308.7h1.4v1.4h-1.4zM449.9 311.0h1.4v1.4h-1.4zM452.2 312.3h1.4v1.4h-1.4zM451.0 314.9h1.4v1.4h-1.4zM451.7 314.7h1.4v1.4h-1.4zM436.9 314.0h1.4v1.4h-1.4zM440.7 317.0h1.4v1.4h-1.4zM453.3 314.8h1.4v1.4h-1.4zM451.8 310.8h1.4v1.4h-1.4zM458.1 310.2h1.4v1.4h-1.4zM446.2 308.7h1.4v1.4h-1.4zM442.4 316.5h1.4v1.4h-1.4zM447.2 313.1h1.4v1.4h-1.4zM444.6 308.5h1.4v1.4h-1.4zM454.4 313.2h1.4v1.4h-1.4zM449.7 317.4h1.4v1.4h-1.4zM454.3 313.3h1.4v1.4h-1.4zM453.1 310.0h1.4v1.4h-1.4zM453.3 310.5h1.4v1.4h-1.4zM453.1 308.9h1.4v1.4h-1.4zM442.6 318.4h1.4v1.4h-1.4zM459.0 309.9h1.4v1.4h-1.4zM464.4 310.5h1.4v1.4h-1.4zM456.2 309.6h1.4v1.4h-1.4zM463.6 309.2h1.4v1.4h-1.4zM453.0 310.4h1.4v1.4h-1.4zM444.9 312.7h1.4v1.4h-1.4zM454.4 310.5h1.4v1.4h-1.4zM448.8 310.3h1.4v1.4h-1.4zM448.1 310.7h1.4v1.4h-1.4zM463.8 308.5h1.4v1.4h-1.4zM444.4 317.8h1.4v1.4h-1.4zM458.1 306.0h1.4v1.4h-1.4zM444.8 312.1h1.4v1.4h-1.4zM436.7 318.4h1.4v1.4h-1.4zM455.1 307.6h1.4v1.4h-1.4zM452.3 313.9h1.4v1.4h-1.4zM451.8 310.6h1.4v1.4h-1.4zM450.8 307.7h1.4v1.4h-1.4zM458.0 305.8h1.4v1.4h-1.4zM454.1 312.0h1.4v1.4h-1.4zM451.6 318.8h1.4v1.4h-1.4zM450.9 313.9h1.4v1.4h-1.4zM452.6 306.6h1.4v1.4h-1.4zM445.5 311.6h1.4v1.4h-1.4zM454.3 311.0h1.4v1.4h-1.4zM435.1 319.2h1.4v1.4h-1.4zM450.3 312.9h1.4v1.4h-1.4zM453.6 317.6h1.4v1.4h-1.4zM455.1 306.5h1.4v1.4h-1.4zM441.4 313.4h1.4v1.4h-1.4zM449.4 312.7h1.4v1.4h-1.4zM454.5 310.4h1.4v1.4h-1.4zM473.0 302.0h1.4v1.4h-1.4zM453.6 313.6h1.4v1.4h-1.4zM455.7 309.7h1.4v1.4h-1.4zM448.4 317.0h1.4v1.4h-1.4zM467.8 304.5h1.4v1.4h-1.4zM449.8 314.0h1.4v1.4h-1.4zM446.9 308.2h1.4v1.4h-1.4zM451.0 309.1h1.4v1.4h-1.4zM440.5 315.9h1.4v1.4h-1.4zM444.1 317.7h1.4v1.4h-1.4zM447.3 311.7h1.4v1.4h-1.4zM443.3 312.5h1.4v1.4h-1.4zM457.3 306.5h1.4v1.4h-1.4zM449.3 318.8h1.4v1.4h-1.4zM465.7 299.8h1.4v1.4h-1.4zM453.1 311.9h1.4v1.4h-1.4zM445.2 315.1h1.4v1.4h-1.4zM453.8 315.7h1.4v1.4h-1.4zM456.9 311.6h1.4v1.4h-1.4zM450.2 311.4h1.4v1.4h-1.4zM455.1 313.1h1.4v1.4h-1.4zM450.5 316.8h1.4v1.4h-1.4zM444.1 314.4h1.4v1.4h-1.4zM447.5 308.2h1.4v1.4h-1.4zM462.0 302.7h1.4v1.4h-1.4zM447.4 314.1h1.4v1.4h-1.4zM448.5 309.9h1.4v1.4h-1.4zM438.9 318.6h1.4v1.4h-1.4zM446.8 318.1h1.4v1.4h-1.4zM453.0 311.9h1.4v1.4h-1.4zM450.5 319.9h1.4v1.4h-1.4zM458.7 308.0h1.4v1.4h-1.4zM455.8 305.7h1.4v1.4h-1.4zM447.0 314.8h1.4v1.4h-1.4zM450.6 315.8h1.4v1.4h-1.4zM453.2 306.4h1.4v1.4h-1.4zM453.4 312.6h1.4v1.4h-1.4zM450.0 318.4h1.4v1.4h-1.4zM436.4 320.1h1.4v1.4h-1.4zM462.9 312.7h1.4v1.4h-1.4zM448.2 308.5h1.4v1.4h-1.4zM452.0 313.7h1.4v1.4h-1.4zM442.4 310.7h1.4v1.4h-1.4zM458.9 302.4h1.4v1.4h-1.4zM447.2 309.1h1.4v1.4h-1.4zM452.7 315.0h1.4v1.4h-1.4zM435.2 321.0h1.4v1.4h-1.4zM448.3 318.3h1.4v1.4h-1.4zM448.3 310.6h1.4v1.4h-1.4zM450.6 306.6h1.4v1.4h-1.4zM456.2 312.6h1.4v1.4h-1.4zM447.4 311.6h1.4v1.4h-1.4zM455.5 304.8h1.4v1.4h-1.4zM449.9 315.4h1.4v1.4h-1.4zM449.9 316.3h1.4v1.4h-1.4zM448.7 310.7h1.4v1.4h-1.4zM437.3 319.4h1.4v1.4h-1.4zM433.7 322.5h1.4v1.4h-1.4zM462.2 303.5h1.4v1.4h-1.4zM435.4 317.0h1.4v1.4h-1.4zM445.3 315.9h1.4v1.4h-1.4zM456.2 315.3h1.4v1.4h-1.4zM443.1 312.7h1.4v1.4h-1.4zM459.0 311.1h1.4v1.4h-1.4zM435.5 321.8h1.4v1.4h-1.4zM450.7 313.1h1.4v1.4h-1.4z"/>
<path d="M136 488.5C136.5 487.2 140.0 484.9 142 482C144.0 479.1 145.8 474.0 148 471C150.2 468.0 152.2 465.3 155 464C157.8 462.7 162.7 462.5 165 463C167.3 463.5 168.2 465.0 169 467C169.8 469.0 170.3 472.7 170 475C169.7 477.3 168.7 479.4 167 481C165.3 482.6 163.2 483.4 160 484.5C156.8 485.6 151.5 486.7 148 487.5C144.5 488.3 141.0 489.3 139 489.5C137.0 489.7 135.5 489.8 136 488.5Z" fill="#1494f8"/>
<path fill="#2b2b2b" d="M117.5 421.2h1.5v1.5h-1.5zM124.9 442.8h1.5v1.5h-1.5zM114.6 395.6h1.5v1.5h-1.5zM130.6 455.2h1.5v1.5h-1.5zM115.2 427.6h1.5v1.5h-1.5zM131.5 441.5h1.5v1.5h-1.5zM130.1 396.8h1.5v1.5h-1.5zM110.7 440.9h1.5v1.5h-1.5zM113.4 449.9h1.5v1.5h-1.5zM128.5 384.6h1.5v1.5h-1.5zM109.0 443.4h1.5v1.5h-1.5zM117.3 410.7h1.5v1.5h-1.5zM125.8 457.8h1.5v1.5h-1.5zM127.7 461.3h1.5v1.5h-1.5zM122.5 442.1h1.5v1.5h-1.5zM128.4 445.7h1.5v1.5h-1.5zM127.3 420.9h1.5v1.5h-1.5zM120.7 431.6h1.5v1.5h-1.5zM126.0 413.7h1.5v1.5h-1.5zM128.9 446.9h1.5v1.5h-1.5zM130.8 447.9h1.5v1.5h-1.5zM122.4 422.2h1.5v1.5h-1.5zM115.0 447.0h1.5v1.5h-1.5zM125.7 457.0h1.5v1.5h-1.5zM114.2 428.0h1.5v1.5h-1.5zM112.4 435.3h1.5v1.5h-1.5zM121.7 437.9h1.5v1.5h-1.5zM124.3 435.8h1.5v1.5h-1.5zM130.2 379.8h1.5v1.5h-1.5zM115.7 414.0h1.5v1.5h-1.5zM133.3 384.0h1.5v1.5h-1.5zM125.6 394.3h1.5v1.5h-1.5zM127.3 433.1h1.5v1.5h-1.5zM134.8 409.6h1.5v1.5h-1.5zM126.7 429.0h1.5v1.5h-1.5zM122.9 438.4h1.5v1.5h-1.5zM137.3 446.3h1.5v1.5h-1.5zM121.1 463.4h1.5v1.5h-1.5zM129.1 400.8h1.5v1.5h-1.5zM134.4 391.6h1.5v1.5h-1.5zM138.1 429.3h1.5v1.5h-1.5zM114.3 428.0h1.5v1.5h-1.5zM122.1 410.7h1.5v1.5h-1.5zM115.2 400.8h1.5v1.5h-1.5zM109.7 470.8h1.5v1.5h-1.5zM113.4 451.1h1.5v1.5h-1.5zM120.3 463.1h1.5v1.5h-1.5zM115.9 467.9h1.5v1.5h-1.5zM123.4 461.0h1.5v1.5h-1.5zM114.1 466.4h1.5v1.5h-1.5zM112.6 461.8h1.5v1.5h-1.5zM114.5 460.7h1.5v1.5h-1.5zM111.5 458.9h1.5v1.5h-1.5zM115.5 463.2h1.5v1.5h-1.5zM120.5 467.7h1.5v1.5h-1.5zM110.7 455.7h1.5v1.5h-1.5zM111.1 468.3h1.5v1.5h-1.5zM108.5 475.1h1.5v1.5h-1.5zM115.2 461.3h1.5v1.5h-1.5zM115.7 471.6h1.5v1.5h-1.5zM117.1 450.6h1.5v1.5h-1.5zM114.0 453.9h1.5v1.5h-1.5z"/>
<path fill="#2b2b2b" d="M113.1 488.5h1.4v1.4h-1.4zM110.0 483.2h1.4v1.4h-1.4zM110.4 483.6h1.4v1.4h-1.4zM110.2 479.6h1.4v1.4h-1.4zM112.0 484.5h1.4v1.4h-1.4zM111.1 485.4h1.4v1.4h-1.4zM110.4 484.1h1.4v1.4h-1.4zM112.7 485.1h1.4v1.4h-1.4zM111.5 485.9h1.4v1.4h-1.4zM112.8 484.4h1.4v1.4h-1.4zM113.6 474.5h1.4v1.4h-1.4zM114.3 477.9h1.4v1.4h-1.4zM112.3 482.7h1.4v1.4h-1.4zM111.7 493.6h1.4v1.4h-1.4zM111.7 488.4h1.4v1.4h-1.4zM110.0 483.2h1.4v1.4h-1.4zM114.0 482.3h1.4v1.4h-1.4zM112.7 481.2h1.4v1.4h-1.4zM115.5 486.1h1.4v1.4h-1.4zM113.6 481.8h1.4v1.4h-1.4zM111.5 483.5h1.4v1.4h-1.4zM115.0 479.1h1.4v1.4h-1.4zM112.0 481.2h1.4v1.4h-1.4zM112.6 478.5h1.4v1.4h-1.4zM114.0 479.5h1.4v1.4h-1.4zM113.4 481.6h1.4v1.4h-1.4zM110.8 488.9h1.4v1.4h-1.4zM114.6 485.0h1.4v1.4h-1.4zM113.8 488.3h1.4v1.4h-1.4zM112.7 481.0h1.4v1.4h-1.4zM112.3 484.6h1.4v1.4h-1.4zM113.4 480.4h1.4v1.4h-1.4zM108.9 482.4h1.4v1.4h-1.4zM116.1 482.5h1.4v1.4h-1.4zM110.2 483.5h1.4v1.4h-1.4zM110.3 477.5h1.4v1.4h-1.4zM113.8 485.6h1.4v1.4h-1.4zM112.8 480.2h1.4v1.4h-1.4zM113.7 475.8h1.4v1.4h-1.4zM109.6 477.6h1.4v1.4h-1.4zM115.8 479.0h1.4v1.4h-1.4zM115.0 490.0h1.4v1.4h-1.4zM113.2 481.4h1.4v1.4h-1.4zM111.3 482.3h1.4v1.4h-1.4zM114.1 482.9h1.4v1.4h-1.4zM112.7 486.5h1.4v1.4h-1.4zM109.3 479.8h1.4v1.4h-1.4zM111.1 491.4h1.4v1.4h-1.4zM115.4 489.6h1.4v1.4h-1.4zM113.1 484.2h1.4v1.4h-1.4zM114.5 489.6h1.4v1.4h-1.4zM114.0 481.2h1.4v1.4h-1.4zM113.2 477.5h1.4v1.4h-1.4zM110.2 480.0h1.4v1.4h-1.4zM116.2 485.9h1.4v1.4h-1.4zM112.6 484.8h1.4v1.4h-1.4zM114.9 490.8h1.4v1.4h-1.4zM111.4 490.6h1.4v1.4h-1.4zM113.7 487.4h1.4v1.4h-1.4zM114.0 483.8h1.4v1.4h-1.4zM112.4 491.6h1.4v1.4h-1.4zM113.0 483.0h1.4v1.4h-1.4zM113.5 471.8h1.4v1.4h-1.4zM112.5 481.9h1.4v1.4h-1.4zM109.5 485.4h1.4v1.4h-1.4zM113.6 485.9h1.4v1.4h-1.4zM112.4 485.9h1.4v1.4h-1.4zM113.4 486.9h1.4v1.4h-1.4zM110.7 470.9h1.4v1.4h-1.4zM116.6 494.1h1.4v1.4h-1.4zM115.0 485.8h1.4v1.4h-1.4zM116.2 483.6h1.4v1.4h-1.4zM117.5 474.0h1.4v1.4h-1.4zM115.3 487.1h1.4v1.4h-1.4zM112.0 478.3h1.4v1.4h-1.4zM109.6 473.7h1.4v1.4h-1.4zM115.7 485.9h1.4v1.4h-1.4zM113.5 485.7h1.4v1.4h-1.4zM114.9 482.5h1.4v1.4h-1.4zM116.1 478.8h1.4v1.4h-1.4zM112.4 485.1h1.4v1.4h-1.4zM110.5 483.4h1.4v1.4h-1.4zM113.8 484.7h1.4v1.4h-1.4zM111.7 485.1h1.4v1.4h-1.4zM110.7 475.9h1.4v1.4h-1.4zM113.7 485.1h1.4v1.4h-1.4zM112.2 477.0h1.4v1.4h-1.4zM114.1 485.2h1.4v1.4h-1.4zM110.1 481.2h1.4v1.4h-1.4zM112.5 480.6h1.4v1.4h-1.4zM112.1 490.8h1.4v1.4h-1.4zM112.7 484.0h1.4v1.4h-1.4zM111.3 483.9h1.4v1.4h-1.4zM114.4 486.7h1.4v1.4h-1.4zM109.2 493.4h1.4v1.4h-1.4zM113.9 469.3h1.4v1.4h-1.4zM118.3 482.2h1.4v1.4h-1.4zM116.3 476.1h1.4v1.4h-1.4zM121.0 476.3h1.4v1.4h-1.4zM116.2 473.2h1.4v1.4h-1.4zM115.9 471.6h1.4v1.4h-1.4zM118.7 477.5h1.4v1.4h-1.4zM116.0 470.1h1.4v1.4h-1.4zM112.4 462.9h1.4v1.4h-1.4zM116.3 462.5h1.4v1.4h-1.4zM124.2 482.9h1.4v1.4h-1.4zM118.8 465.2h1.4v1.4h-1.4zM115.6 469.6h1.4v1.4h-1.4zM112.0 475.6h1.4v1.4h-1.4zM120.3 464.8h1.4v1.4h-1.4zM111.3 469.3h1.4v1.4h-1.4zM115.8 472.2h1.4v1.4h-1.4zM118.4 463.9h1.4v1.4h-1.4zM119.8 470.7h1.4v1.4h-1.4zM113.5 475.8h1.4v1.4h-1.4zM117.4 471.5h1.4v1.4h-1.4zM126.0 470.8h1.4v1.4h-1.4zM113.3 472.8h1.4v1.4h-1.4zM116.4 470.0h1.4v1.4h-1.4zM112.4 468.1h1.4v1.4h-1.4zM115.4 467.6h1.4v1.4h-1.4zM118.4 474.5h1.4v1.4h-1.4zM116.5 462.1h1.4v1.4h-1.4zM119.1 464.2h1.4v1.4h-1.4zM110.7 474.2h1.4v1.4h-1.4zM116.9 476.2h1.4v1.4h-1.4zM114.9 470.7h1.4v1.4h-1.4zM121.1 462.1h1.4v1.4h-1.4zM116.8 473.2h1.4v1.4h-1.4zM113.7 471.1h1.4v1.4h-1.4zM121.0 471.8h1.4v1.4h-1.4zM118.6 472.2h1.4v1.4h-1.4zM118.4 466.2h1.4v1.4h-1.4zM126.9 469.5h1.4v1.4h-1.4zM117.7 469.0h1.4v1.4h-1.4zM120.0 461.8h1.4v1.4h-1.4zM108.9 463.7h1.4v1.4h-1.4zM109.5 468.9h1.4v1.4h-1.4zM110.0 476.9h1.4v1.4h-1.4zM121.1 481.8h1.4v1.4h-1.4zM120.4 471.1h1.4v1.4h-1.4zM120.3 471.4h1.4v1.4h-1.4zM110.1 465.6h1.4v1.4h-1.4zM115.9 453.6h1.4v1.4h-1.4zM113.2 470.8h1.4v1.4h-1.4zM116.0 466.7h1.4v1.4h-1.4zM117.2 469.6h1.4v1.4h-1.4zM121.5 464.9h1.4v1.4h-1.4zM114.1 468.2h1.4v1.4h-1.4zM113.3 470.6h1.4v1.4h-1.4zM113.1 463.2h1.4v1.4h-1.4zM140.2 461.5h1.4v1.4h-1.4zM134.5 463.5h1.4v1.4h-1.4zM128.1 465.0h1.4v1.4h-1.4zM141.3 490.1h1.4v1.4h-1.4zM137.0 489.6h1.4v1.4h-1.4zM144.1 468.6h1.4v1.4h-1.4zM125.5 458.7h1.4v1.4h-1.4zM134.7 469.5h1.4v1.4h-1.4zM134.3 487.6h1.4v1.4h-1.4zM141.2 458.3h1.4v1.4h-1.4zM145.7 462.7h1.4v1.4h-1.4zM134.4 486.4h1.4v1.4h-1.4zM146.8 481.5h1.4v1.4h-1.4zM138.8 474.2h1.4v1.4h-1.4zM132.8 480.4h1.4v1.4h-1.4zM128.0 477.9h1.4v1.4h-1.4zM129.9 474.2h1.4v1.4h-1.4zM142.8 471.5h1.4v1.4h-1.4zM135.2 475.8h1.4v1.4h-1.4zM126.1 491.8h1.4v1.4h-1.4zM141.1 484.0h1.4v1.4h-1.4zM141.1 479.6h1.4v1.4h-1.4zM145.3 484.1h1.4v1.4h-1.4zM144.3 487.5h1.4v1.4h-1.4zM132.8 481.9h1.4v1.4h-1.4z"/>
<path fill="#3a74d0" d="M182.1 476.8h1.3v1.3h-1.3zM190.7 475.5h1.3v1.3h-1.3zM192.9 461.0h1.3v1.3h-1.3zM171.9 455.3h1.3v1.3h-1.3zM199.0 479.2h1.3v1.3h-1.3zM147.4 461.6h1.3v1.3h-1.3zM168.7 458.6h1.3v1.3h-1.3zM168.3 467.1h1.3v1.3h-1.3zM176.7 482.9h1.3v1.3h-1.3zM163.7 479.6h1.3v1.3h-1.3zM184.0 466.4h1.3v1.3h-1.3zM197.1 470.8h1.3v1.3h-1.3zM177.1 468.2h1.3v1.3h-1.3zM182.7 476.3h1.3v1.3h-1.3zM150.7 471.0h1.3v1.3h-1.3zM168.6 482.2h1.3v1.3h-1.3zM179.8 473.0h1.3v1.3h-1.3zM166.7 467.2h1.3v1.3h-1.3zM176.0 457.4h1.3v1.3h-1.3zM171.8 478.4h1.3v1.3h-1.3zM179.3 472.7h1.3v1.3h-1.3zM158.6 465.8h1.3v1.3h-1.3zM179.3 462.6h1.3v1.3h-1.3zM189.8 463.6h1.3v1.3h-1.3zM182.1 466.0h1.3v1.3h-1.3zM197.8 464.4h1.3v1.3h-1.3zM174.0 469.7h1.3v1.3h-1.3zM184.6 467.9h1.3v1.3h-1.3zM160.1 468.2h1.3v1.3h-1.3zM187.9 481.8h1.3v1.3h-1.3zM180.3 466.7h1.3v1.3h-1.3zM171.6 465.6h1.3v1.3h-1.3zM188.1 471.1h1.3v1.3h-1.3zM161.6 465.8h1.3v1.3h-1.3zM172.9 473.1h1.3v1.3h-1.3zM178.7 470.0h1.3v1.3h-1.3zM165.5 478.6h1.3v1.3h-1.3zM163.4 464.9h1.3v1.3h-1.3zM183.7 454.8h1.3v1.3h-1.3zM172.8 478.3h1.3v1.3h-1.3zM163.7 470.4h1.3v1.3h-1.3zM172.1 482.4h1.3v1.3h-1.3zM169.7 475.8h1.3v1.3h-1.3zM166.3 468.0h1.3v1.3h-1.3zM179.3 471.4h1.3v1.3h-1.3zM162.2 463.7h1.3v1.3h-1.3zM157.9 465.9h1.3v1.3h-1.3zM175.6 469.7h1.3v1.3h-1.3zM174.4 470.8h1.3v1.3h-1.3zM186.2 456.0h1.3v1.3h-1.3zM161.7 477.6h1.3v1.3h-1.3zM169.4 474.5h1.3v1.3h-1.3zM187.2 475.0h1.3v1.3h-1.3zM177.0 459.3h1.3v1.3h-1.3zM169.5 474.9h1.3v1.3h-1.3zM165.3 467.3h1.3v1.3h-1.3zM181.7 465.4h1.3v1.3h-1.3zM175.7 477.1h1.3v1.3h-1.3zM165.9 472.0h1.3v1.3h-1.3zM170.7 474.7h1.3v1.3h-1.3zM171.5 476.9h1.3v1.3h-1.3zM186.2 475.9h1.3v1.3h-1.3zM146.1 468.6h1.3v1.3h-1.3zM167.3 464.8h1.3v1.3h-1.3zM188.2 470.2h1.3v1.3h-1.3zM157.1 477.1h1.3v1.3h-1.3zM170.7 465.9h1.3v1.3h-1.3zM184.1 471.4h1.3v1.3h-1.3zM159.3 467.0h1.3v1.3h-1.3zM168.3 469.5h1.3v1.3h-1.3zM165.0 471.3h1.3v1.3h-1.3zM176.5 471.6h1.3v1.3h-1.3zM168.2 476.3h1.3v1.3h-1.3zM162.7 470.4h1.3v1.3h-1.3zM175.6 471.6h1.3v1.3h-1.3zM175.8 464.8h1.3v1.3h-1.3zM187.5 473.7h1.3v1.3h-1.3zM170.9 475.5h1.3v1.3h-1.3zM172.1 467.7h1.3v1.3h-1.3zM170.6 485.1h1.3v1.3h-1.3zM161.6 459.7h1.3v1.3h-1.3zM160.2 459.0h1.3v1.3h-1.3zM159.1 463.2h1.3v1.3h-1.3zM165.5 459.5h1.3v1.3h-1.3zM163.7 459.9h1.3v1.3h-1.3zM157.7 460.0h1.3v1.3h-1.3zM166.4 459.9h1.3v1.3h-1.3zM170.8 462.8h1.3v1.3h-1.3zM174.1 458.1h1.3v1.3h-1.3zM167.2 462.8h1.3v1.3h-1.3zM160.6 464.1h1.3v1.3h-1.3zM157.3 458.1h1.3v1.3h-1.3zM167.5 461.0h1.3v1.3h-1.3zM173.1 456.2h1.3v1.3h-1.3zM180.6 459.9h1.3v1.3h-1.3zM161.0 463.2h1.3v1.3h-1.3zM155.0 462.4h1.3v1.3h-1.3zM155.8 458.4h1.3v1.3h-1.3zM166.1 461.3h1.3v1.3h-1.3zM168.5 461.1h1.3v1.3h-1.3zM157.7 460.0h1.3v1.3h-1.3zM154.1 460.1h1.3v1.3h-1.3zM148.2 465.3h1.3v1.3h-1.3zM168.7 452.0h1.3v1.3h-1.3zM151.0 457.9h1.3v1.3h-1.3zM167.2 462.2h1.3v1.3h-1.3zM161.2 459.3h1.3v1.3h-1.3zM147.2 460.6h1.3v1.3h-1.3zM153.5 460.5h1.3v1.3h-1.3zM170.0 458.9h1.3v1.3h-1.3z"/>
<path fill="#c83a5a" d="M159.7 469.8h1.3v1.3h-1.3zM149.6 485.6h1.3v1.3h-1.3zM161.4 482.2h1.3v1.3h-1.3zM171.0 463.3h1.3v1.3h-1.3zM177.3 475.0h1.3v1.3h-1.3zM169.4 476.6h1.3v1.3h-1.3zM155.7 472.7h1.3v1.3h-1.3zM154.9 481.1h1.3v1.3h-1.3zM132.1 476.6h1.3v1.3h-1.3zM158.9 485.6h1.3v1.3h-1.3zM144.7 478.1h1.3v1.3h-1.3zM149.5 480.8h1.3v1.3h-1.3zM150.2 452.1h1.3v1.3h-1.3zM160.9 473.5h1.3v1.3h-1.3zM162.7 476.9h1.3v1.3h-1.3zM159.7 472.2h1.3v1.3h-1.3zM141.8 478.5h1.3v1.3h-1.3zM151.7 471.0h1.3v1.3h-1.3zM172.4 481.5h1.3v1.3h-1.3zM157.1 469.3h1.3v1.3h-1.3zM166.4 473.2h1.3v1.3h-1.3zM163.0 487.4h1.3v1.3h-1.3zM186.1 481.2h1.3v1.3h-1.3zM187.2 471.6h1.3v1.3h-1.3zM200.4 459.5h1.3v1.3h-1.3zM152.1 463.0h1.3v1.3h-1.3zM174.2 477.3h1.3v1.3h-1.3zM140.1 481.8h1.3v1.3h-1.3zM172.0 472.1h1.3v1.3h-1.3zM167.9 472.9h1.3v1.3h-1.3zM157.5 493.5h1.3v1.3h-1.3zM185.6 479.0h1.3v1.3h-1.3zM163.6 476.1h1.3v1.3h-1.3zM135.7 479.3h1.3v1.3h-1.3zM184.6 469.6h1.3v1.3h-1.3zM163.1 478.8h1.3v1.3h-1.3zM173.8 472.3h1.3v1.3h-1.3zM150.8 479.2h1.3v1.3h-1.3zM148.3 475.4h1.3v1.3h-1.3zM142.5 485.8h1.3v1.3h-1.3z"/>
<path fill="#1494f8" d="M160.5 475.5h1.4v1.4h-1.4zM151.8 466.1h1.4v1.4h-1.4zM177.2 464.4h1.4v1.4h-1.4zM160.8 487.0h1.4v1.4h-1.4zM156.1 476.3h1.4v1.4h-1.4zM151.3 480.3h1.4v1.4h-1.4zM159.6 470.6h1.4v1.4h-1.4zM155.2 472.1h1.4v1.4h-1.4zM169.8 472.2h1.4v1.4h-1.4zM162.4 485.2h1.4v1.4h-1.4zM155.3 476.7h1.4v1.4h-1.4zM148.0 473.0h1.4v1.4h-1.4zM164.2 472.0h1.4v1.4h-1.4zM148.6 472.7h1.4v1.4h-1.4zM162.2 479.2h1.4v1.4h-1.4zM159.9 472.6h1.4v1.4h-1.4zM141.7 472.8h1.4v1.4h-1.4zM157.5 481.3h1.4v1.4h-1.4zM169.5 478.8h1.4v1.4h-1.4zM153.4 477.7h1.4v1.4h-1.4zM144.8 485.3h1.4v1.4h-1.4zM148.2 471.9h1.4v1.4h-1.4zM158.5 465.1h1.4v1.4h-1.4zM160.8 461.9h1.4v1.4h-1.4zM164.3 472.1h1.4v1.4h-1.4zM160.7 474.1h1.4v1.4h-1.4zM153.0 478.9h1.4v1.4h-1.4zM156.2 463.1h1.4v1.4h-1.4zM157.5 463.7h1.4v1.4h-1.4zM158.0 471.0h1.4v1.4h-1.4zM151.0 470.5h1.4v1.4h-1.4zM163.0 463.2h1.4v1.4h-1.4zM165.9 471.2h1.4v1.4h-1.4zM158.2 476.9h1.4v1.4h-1.4zM160.0 470.7h1.4v1.4h-1.4zM151.0 487.6h1.4v1.4h-1.4zM160.3 477.0h1.4v1.4h-1.4zM153.9 466.9h1.4v1.4h-1.4zM153.4 470.8h1.4v1.4h-1.4zM164.1 462.8h1.4v1.4h-1.4zM159.9 486.3h1.4v1.4h-1.4zM156.0 470.4h1.4v1.4h-1.4zM148.6 470.1h1.4v1.4h-1.4zM159.2 476.9h1.4v1.4h-1.4zM169.5 470.0h1.4v1.4h-1.4zM161.2 467.7h1.4v1.4h-1.4zM160.6 471.6h1.4v1.4h-1.4zM166.9 478.7h1.4v1.4h-1.4zM172.7 478.8h1.4v1.4h-1.4zM163.0 463.0h1.4v1.4h-1.4zM165.9 461.3h1.4v1.4h-1.4zM160.7 474.9h1.4v1.4h-1.4zM162.6 469.9h1.4v1.4h-1.4zM162.3 468.9h1.4v1.4h-1.4zM166.6 478.9h1.4v1.4h-1.4zM156.5 474.9h1.4v1.4h-1.4zM161.6 468.7h1.4v1.4h-1.4zM161.6 476.1h1.4v1.4h-1.4zM159.0 467.1h1.4v1.4h-1.4zM155.8 468.6h1.4v1.4h-1.4zM164.8 484.3h1.4v1.4h-1.4zM157.2 470.4h1.4v1.4h-1.4zM149.8 475.7h1.4v1.4h-1.4zM164.3 470.3h1.4v1.4h-1.4zM150.5 470.0h1.4v1.4h-1.4zM164.7 464.7h1.4v1.4h-1.4zM143.6 464.6h1.4v1.4h-1.4zM159.8 480.4h1.4v1.4h-1.4zM171.3 486.6h1.4v1.4h-1.4zM158.4 476.6h1.4v1.4h-1.4zM167.2 476.0h1.4v1.4h-1.4zM157.2 468.6h1.4v1.4h-1.4zM154.9 471.8h1.4v1.4h-1.4zM158.0 482.2h1.4v1.4h-1.4zM165.9 489.4h1.4v1.4h-1.4zM168.0 476.9h1.4v1.4h-1.4zM168.9 475.0h1.4v1.4h-1.4zM165.5 479.6h1.4v1.4h-1.4zM159.6 473.3h1.4v1.4h-1.4zM146.9 467.4h1.4v1.4h-1.4zM154.9 466.6h1.4v1.4h-1.4zM169.4 470.6h1.4v1.4h-1.4zM149.4 469.7h1.4v1.4h-1.4zM162.8 456.7h1.4v1.4h-1.4zM162.5 460.5h1.4v1.4h-1.4zM148.9 477.7h1.4v1.4h-1.4zM161.9 478.7h1.4v1.4h-1.4zM157.1 477.7h1.4v1.4h-1.4zM160.9 470.8h1.4v1.4h-1.4zM158.9 467.9h1.4v1.4h-1.4zM158.2 472.0h1.4v1.4h-1.4zM153.6 474.5h1.4v1.4h-1.4zM146.7 469.1h1.4v1.4h-1.4zM170.9 479.5h1.4v1.4h-1.4zM154.0 467.8h1.4v1.4h-1.4zM157.8 456.8h1.4v1.4h-1.4zM157.1 476.8h1.4v1.4h-1.4zM157.6 478.3h1.4v1.4h-1.4zM154.7 471.2h1.4v1.4h-1.4zM163.1 479.2h1.4v1.4h-1.4zM159.5 480.2h1.4v1.4h-1.4zM156.4 455.4h1.4v1.4h-1.4zM155.7 475.1h1.4v1.4h-1.4zM162.8 464.4h1.4v1.4h-1.4zM153.6 476.9h1.4v1.4h-1.4zM163.0 474.1h1.4v1.4h-1.4zM168.2 478.0h1.4v1.4h-1.4zM166.5 470.7h1.4v1.4h-1.4zM163.3 468.4h1.4v1.4h-1.4zM148.9 474.3h1.4v1.4h-1.4zM164.4 488.5h1.4v1.4h-1.4zM161.5 475.3h1.4v1.4h-1.4zM168.7 465.6h1.4v1.4h-1.4zM156.3 472.2h1.4v1.4h-1.4zM156.9 470.8h1.4v1.4h-1.4zM169.3 480.9h1.4v1.4h-1.4zM154.8 473.3h1.4v1.4h-1.4zM167.4 470.4h1.4v1.4h-1.4zM162.2 473.7h1.4v1.4h-1.4zM144.0 467.8h1.4v1.4h-1.4zM157.0 475.6h1.4v1.4h-1.4zM156.9 465.3h1.4v1.4h-1.4zM151.2 469.5h1.4v1.4h-1.4zM147.6 473.9h1.4v1.4h-1.4zM160.3 463.5h1.4v1.4h-1.4zM153.2 463.7h1.4v1.4h-1.4zM155.4 467.4h1.4v1.4h-1.4zM153.6 482.2h1.4v1.4h-1.4zM158.2 478.1h1.4v1.4h-1.4zM163.0 473.0h1.4v1.4h-1.4zM164.9 479.2h1.4v1.4h-1.4zM163.1 478.3h1.4v1.4h-1.4zM157.4 468.6h1.4v1.4h-1.4zM158.6 465.3h1.4v1.4h-1.4zM163.5 480.6h1.4v1.4h-1.4zM167.8 468.3h1.4v1.4h-1.4zM159.1 476.9h1.4v1.4h-1.4zM151.4 462.3h1.4v1.4h-1.4zM161.6 472.1h1.4v1.4h-1.4zM163.8 464.4h1.4v1.4h-1.4zM156.7 477.0h1.4v1.4h-1.4zM167.4 477.7h1.4v1.4h-1.4zM156.6 475.3h1.4v1.4h-1.4zM159.7 477.9h1.4v1.4h-1.4zM162.1 469.1h1.4v1.4h-1.4zM170.1 475.3h1.4v1.4h-1.4zM152.0 476.6h1.4v1.4h-1.4zM163.2 466.9h1.4v1.4h-1.4zM164.8 476.7h1.4v1.4h-1.4zM158.9 474.5h1.4v1.4h-1.4zM166.4 475.8h1.4v1.4h-1.4zM155.5 471.1h1.4v1.4h-1.4zM152.1 472.3h1.4v1.4h-1.4zM151.6 475.8h1.4v1.4h-1.4zM155.2 473.4h1.4v1.4h-1.4zM152.6 476.4h1.4v1.4h-1.4zM162.9 463.8h1.4v1.4h-1.4zM159.7 478.9h1.4v1.4h-1.4zM150.3 467.4h1.4v1.4h-1.4zM169.9 479.6h1.4v1.4h-1.4zM161.3 463.1h1.4v1.4h-1.4zM148.9 468.5h1.4v1.4h-1.4zM147.6 474.3h1.4v1.4h-1.4zM160.1 475.3h1.4v1.4h-1.4zM168.5 469.6h1.4v1.4h-1.4zM157.6 466.6h1.4v1.4h-1.4zM166.0 476.7h1.4v1.4h-1.4zM170.3 479.4h1.4v1.4h-1.4zM164.4 466.7h1.4v1.4h-1.4zM157.5 464.6h1.4v1.4h-1.4zM151.1 468.6h1.4v1.4h-1.4zM155.3 471.7h1.4v1.4h-1.4zM168.3 460.9h1.4v1.4h-1.4zM159.8 465.8h1.4v1.4h-1.4zM153.2 476.9h1.4v1.4h-1.4zM157.0 467.3h1.4v1.4h-1.4zM158.4 467.1h1.4v1.4h-1.4zM167.0 482.6h1.4v1.4h-1.4zM155.9 479.7h1.4v1.4h-1.4zM171.9 483.6h1.4v1.4h-1.4zM161.2 472.6h1.4v1.4h-1.4zM162.0 471.7h1.4v1.4h-1.4zM152.4 469.8h1.4v1.4h-1.4zM162.4 462.9h1.4v1.4h-1.4zM161.4 458.7h1.4v1.4h-1.4zM164.4 472.0h1.4v1.4h-1.4zM155.0 467.5h1.4v1.4h-1.4zM161.1 476.8h1.4v1.4h-1.4zM149.6 479.0h1.4v1.4h-1.4zM153.1 462.6h1.4v1.4h-1.4zM174.9 463.5h1.4v1.4h-1.4zM156.6 474.1h1.4v1.4h-1.4zM154.5 482.0h1.4v1.4h-1.4zM165.4 483.0h1.4v1.4h-1.4zM158.4 468.2h1.4v1.4h-1.4zM176.8 473.2h1.4v1.4h-1.4zM160.0 482.2h1.4v1.4h-1.4zM164.2 467.8h1.4v1.4h-1.4zM157.8 466.2h1.4v1.4h-1.4zM167.1 481.6h1.4v1.4h-1.4zM159.8 468.1h1.4v1.4h-1.4zM177.5 464.9h1.4v1.4h-1.4zM154.9 483.3h1.4v1.4h-1.4zM162.6 470.0h1.4v1.4h-1.4zM164.4 470.2h1.4v1.4h-1.4zM152.1 476.7h1.4v1.4h-1.4zM156.0 482.8h1.4v1.4h-1.4zM154.4 478.2h1.4v1.4h-1.4zM148.4 474.6h1.4v1.4h-1.4zM161.5 475.8h1.4v1.4h-1.4zM140.5 475.8h1.4v1.4h-1.4zM150.8 474.9h1.4v1.4h-1.4zM151.9 461.6h1.4v1.4h-1.4zM161.2 475.0h1.4v1.4h-1.4zM158.4 464.1h1.4v1.4h-1.4zM166.2 468.1h1.4v1.4h-1.4zM167.3 473.9h1.4v1.4h-1.4zM160.4 472.2h1.4v1.4h-1.4zM152.9 475.4h1.4v1.4h-1.4zM164.0 472.9h1.4v1.4h-1.4zM154.5 476.2h1.4v1.4h-1.4zM157.2 485.1h1.4v1.4h-1.4zM159.6 465.7h1.4v1.4h-1.4zM169.2 480.2h1.4v1.4h-1.4zM177.0 485.2h1.4v1.4h-1.4zM167.6 470.2h1.4v1.4h-1.4zM156.4 470.6h1.4v1.4h-1.4zM165.7 472.3h1.4v1.4h-1.4zM168.0 476.0h1.4v1.4h-1.4zM153.9 468.4h1.4v1.4h-1.4zM160.6 470.6h1.4v1.4h-1.4zM155.2 472.8h1.4v1.4h-1.4zM155.6 473.4h1.4v1.4h-1.4zM160.3 482.4h1.4v1.4h-1.4zM160.6 469.8h1.4v1.4h-1.4zM154.6 478.5h1.4v1.4h-1.4zM159.8 478.2h1.4v1.4h-1.4zM151.5 474.3h1.4v1.4h-1.4zM158.6 474.0h1.4v1.4h-1.4zM160.6 467.7h1.4v1.4h-1.4zM156.6 468.4h1.4v1.4h-1.4zM149.6 475.5h1.4v1.4h-1.4zM154.6 474.7h1.4v1.4h-1.4zM162.2 471.4h1.4v1.4h-1.4zM165.9 480.7h1.4v1.4h-1.4zM165.9 474.0h1.4v1.4h-1.4zM166.3 473.5h1.4v1.4h-1.4zM171.0 472.1h1.4v1.4h-1.4zM156.8 480.1h1.4v1.4h-1.4zM167.1 476.8h1.4v1.4h-1.4zM154.3 475.2h1.4v1.4h-1.4zM171.0 464.8h1.4v1.4h-1.4zM166.0 484.2h1.4v1.4h-1.4zM153.0 464.0h1.4v1.4h-1.4zM164.1 475.7h1.4v1.4h-1.4zM166.1 465.3h1.4v1.4h-1.4zM154.3 462.8h1.4v1.4h-1.4zM161.8 452.0h1.4v1.4h-1.4zM165.3 473.7h1.4v1.4h-1.4zM171.7 474.6h1.4v1.4h-1.4zM156.0 470.2h1.4v1.4h-1.4zM169.7 469.5h1.4v1.4h-1.4zM153.0 463.5h1.4v1.4h-1.4zM154.2 472.1h1.4v1.4h-1.4zM168.4 470.5h1.4v1.4h-1.4zM164.5 462.5h1.4v1.4h-1.4zM154.6 469.2h1.4v1.4h-1.4zM169.6 470.1h1.4v1.4h-1.4zM162.9 464.9h1.4v1.4h-1.4zM160.9 479.5h1.4v1.4h-1.4zM157.8 463.6h1.4v1.4h-1.4zM142.7 485.0h1.4v1.4h-1.4zM159.7 479.7h1.4v1.4h-1.4zM165.8 469.1h1.4v1.4h-1.4zM159.3 482.9h1.4v1.4h-1.4zM164.3 479.6h1.4v1.4h-1.4zM158.9 480.4h1.4v1.4h-1.4zM168.6 473.5h1.4v1.4h-1.4zM140.6 465.8h1.4v1.4h-1.4zM162.8 458.4h1.4v1.4h-1.4zM153.5 474.1h1.4v1.4h-1.4zM160.9 471.5h1.4v1.4h-1.4zM163.9 468.4h1.4v1.4h-1.4zM167.1 485.8h1.4v1.4h-1.4zM164.9 475.6h1.4v1.4h-1.4zM167.4 462.5h1.4v1.4h-1.4zM153.0 471.5h1.4v1.4h-1.4zM160.5 475.7h1.4v1.4h-1.4zM145.2 464.2h1.4v1.4h-1.4zM161.7 473.8h1.4v1.4h-1.4zM148.7 470.1h1.4v1.4h-1.4zM166.5 462.6h1.4v1.4h-1.4zM160.8 475.0h1.4v1.4h-1.4zM157.6 476.8h1.4v1.4h-1.4zM155.2 455.3h1.4v1.4h-1.4zM160.6 475.3h1.4v1.4h-1.4zM155.5 468.6h1.4v1.4h-1.4zM150.1 470.1h1.4v1.4h-1.4zM162.0 461.5h1.4v1.4h-1.4zM153.7 465.9h1.4v1.4h-1.4zM154.6 475.8h1.4v1.4h-1.4zM150.0 483.6h1.4v1.4h-1.4zM140.8 478.4h1.4v1.4h-1.4zM144.1 481.3h1.4v1.4h-1.4zM139.8 487.3h1.4v1.4h-1.4zM143.1 482.4h1.4v1.4h-1.4zM137.9 483.7h1.4v1.4h-1.4zM144.8 480.0h1.4v1.4h-1.4zM137.3 486.9h1.4v1.4h-1.4zM144.5 480.4h1.4v1.4h-1.4zM149.6 481.5h1.4v1.4h-1.4zM142.1 483.7h1.4v1.4h-1.4zM145.5 482.6h1.4v1.4h-1.4zM147.3 484.8h1.4v1.4h-1.4zM140.4 483.7h1.4v1.4h-1.4zM134.3 485.2h1.4v1.4h-1.4zM151.2 479.9h1.4v1.4h-1.4zM145.2 483.5h1.4v1.4h-1.4zM142.2 483.6h1.4v1.4h-1.4zM150.5 475.6h1.4v1.4h-1.4zM139.8 487.1h1.4v1.4h-1.4zM139.3 480.7h1.4v1.4h-1.4zM137.8 480.7h1.4v1.4h-1.4zM138.8 488.3h1.4v1.4h-1.4zM145.0 487.0h1.4v1.4h-1.4zM140.0 484.4h1.4v1.4h-1.4zM152.4 477.1h1.4v1.4h-1.4zM141.7 488.2h1.4v1.4h-1.4zM150.9 476.5h1.4v1.4h-1.4zM138.7 485.8h1.4v1.4h-1.4zM141.7 482.8h1.4v1.4h-1.4zM145.3 484.4h1.4v1.4h-1.4zM139.2 486.5h1.4v1.4h-1.4zM147.9 479.4h1.4v1.4h-1.4zM141.8 487.4h1.4v1.4h-1.4zM141.0 486.8h1.4v1.4h-1.4zM148.8 481.2h1.4v1.4h-1.4zM139.4 484.7h1.4v1.4h-1.4zM148.3 481.2h1.4v1.4h-1.4zM149.9 477.2h1.4v1.4h-1.4zM149.2 480.3h1.4v1.4h-1.4zM153.2 478.5h1.4v1.4h-1.4zM142.4 485.7h1.4v1.4h-1.4zM152.2 479.1h1.4v1.4h-1.4zM140.7 483.8h1.4v1.4h-1.4zM134.3 488.7h1.4v1.4h-1.4zM144.4 485.9h1.4v1.4h-1.4zM157.4 478.7h1.4v1.4h-1.4zM138.0 485.9h1.4v1.4h-1.4zM155.2 477.0h1.4v1.4h-1.4zM136.9 490.5h1.4v1.4h-1.4zM150.2 480.6h1.4v1.4h-1.4zM146.3 479.0h1.4v1.4h-1.4zM141.8 485.1h1.4v1.4h-1.4zM128.2 485.9h1.4v1.4h-1.4zM148.1 480.1h1.4v1.4h-1.4zM149.2 482.8h1.4v1.4h-1.4zM147.4 481.4h1.4v1.4h-1.4zM150.3 479.6h1.4v1.4h-1.4zM140.1 487.3h1.4v1.4h-1.4zM158.3 480.0h1.4v1.4h-1.4zM149.2 478.4h1.4v1.4h-1.4zM138.3 483.0h1.4v1.4h-1.4zM157.5 475.2h1.4v1.4h-1.4zM143.4 480.6h1.4v1.4h-1.4zM147.9 483.0h1.4v1.4h-1.4zM150.6 482.4h1.4v1.4h-1.4zM138.9 485.6h1.4v1.4h-1.4zM137.7 483.5h1.4v1.4h-1.4zM141.7 480.1h1.4v1.4h-1.4zM137.0 486.2h1.4v1.4h-1.4zM142.3 482.0h1.4v1.4h-1.4zM153.7 480.1h1.4v1.4h-1.4zM135.9 483.7h1.4v1.4h-1.4zM144.4 481.7h1.4v1.4h-1.4zM140.4 484.0h1.4v1.4h-1.4zM150.8 483.1h1.4v1.4h-1.4zM137.8 488.4h1.4v1.4h-1.4zM137.8 487.6h1.4v1.4h-1.4zM143.4 484.2h1.4v1.4h-1.4zM157.8 478.9h1.4v1.4h-1.4zM136.3 482.1h1.4v1.4h-1.4zM134.2 490.4h1.4v1.4h-1.4zM137.6 485.7h1.4v1.4h-1.4zM150.2 484.6h1.4v1.4h-1.4zM150.9 482.7h1.4v1.4h-1.4zM145.0 486.3h1.4v1.4h-1.4zM145.0 481.1h1.4v1.4h-1.4zM138.3 494.1h1.4v1.4h-1.4zM147.2 483.6h1.4v1.4h-1.4zM143.3 484.6h1.4v1.4h-1.4zM139.5 484.1h1.4v1.4h-1.4zM150.8 481.4h1.4v1.4h-1.4zM148.5 475.6h1.4v1.4h-1.4zM142.4 488.0h1.4v1.4h-1.4zM146.0 484.0h1.4v1.4h-1.4zM131.7 489.1h1.4v1.4h-1.4zM138.7 489.8h1.4v1.4h-1.4zM152.8 480.9h1.4v1.4h-1.4zM137.3 488.0h1.4v1.4h-1.4z"/>
<path fill="#2b2b2b" d="M184.2 391.2h1.6v1.6h-1.6zM191.2 391.2h1.6v1.6h-1.6zM174.2 401.2h1.6v1.6h-1.6zM149.2 419.2h1.6v1.6h-1.6zM139.2 432.2h1.6v1.6h-1.6zM159.2 451.2h1.6v1.6h-1.6zM174.2 447.2h1.6v1.6h-1.6zM177.2 434.2h1.6v1.6h-1.6z"/>
<ellipse cx="307" cy="478" rx="15" ry="10.5" transform="rotate(-15 307 478)" fill="#1494f8"/>
<path fill="#2b2b2b" d="M260.9 481.2h1.5v1.5h-1.5zM260.9 480.4h1.5v1.5h-1.5zM266.6 445.5h1.5v1.5h-1.5zM284.3 457.7h1.5v1.5h-1.5zM277.0 463.5h1.5v1.5h-1.5zM268.9 477.7h1.5v1.5h-1.5zM272.8 456.9h1.5v1.5h-1.5zM281.3 487.7h1.5v1.5h-1.5zM285.5 478.4h1.5v1.5h-1.5zM272.2 492.7h1.5v1.5h-1.5zM262.0 459.8h1.5v1.5h-1.5zM268.6 453.5h1.5v1.5h-1.5zM277.7 458.2h1.5v1.5h-1.5zM258.5 451.4h1.5v1.5h-1.5zM273.5 467.2h1.5v1.5h-1.5zM262.9 467.9h1.5v1.5h-1.5zM273.2 466.8h1.5v1.5h-1.5zM268.8 468.5h1.5v1.5h-1.5zM273.0 467.8h1.5v1.5h-1.5zM260.7 481.5h1.5v1.5h-1.5zM270.6 468.8h1.5v1.5h-1.5zM267.8 472.0h1.5v1.5h-1.5zM262.6 448.6h1.5v1.5h-1.5zM279.4 460.5h1.5v1.5h-1.5zM284.7 466.3h1.5v1.5h-1.5zM273.7 473.5h1.5v1.5h-1.5zM271.6 468.2h1.5v1.5h-1.5zM269.5 469.4h1.5v1.5h-1.5zM273.1 447.5h1.5v1.5h-1.5zM289.9 456.9h1.5v1.5h-1.5zM275.3 474.1h1.5v1.5h-1.5zM266.8 451.9h1.5v1.5h-1.5zM264.0 477.2h1.5v1.5h-1.5zM281.1 483.8h1.5v1.5h-1.5zM275.7 462.0h1.5v1.5h-1.5zM267.7 446.9h1.5v1.5h-1.5zM291.0 467.2h1.5v1.5h-1.5z"/>
<path fill="#c83a5a" d="M284.4 478.7h1.4v1.4h-1.4zM296.4 480.9h1.4v1.4h-1.4zM295.7 476.3h1.4v1.4h-1.4zM285.5 481.3h1.4v1.4h-1.4zM288.7 469.0h1.4v1.4h-1.4zM297.5 472.0h1.4v1.4h-1.4zM290.7 477.3h1.4v1.4h-1.4zM287.0 483.0h1.4v1.4h-1.4zM285.4 471.6h1.4v1.4h-1.4zM286.2 481.6h1.4v1.4h-1.4zM293.0 467.3h1.4v1.4h-1.4zM294.7 482.7h1.4v1.4h-1.4zM288.2 484.0h1.4v1.4h-1.4zM284.8 472.6h1.4v1.4h-1.4zM286.0 477.3h1.4v1.4h-1.4zM281.0 480.2h1.4v1.4h-1.4zM292.2 470.2h1.4v1.4h-1.4zM289.8 472.1h1.4v1.4h-1.4zM295.3 471.9h1.4v1.4h-1.4zM301.2 478.8h1.4v1.4h-1.4zM296.6 481.4h1.4v1.4h-1.4zM287.8 468.6h1.4v1.4h-1.4zM288.1 469.9h1.4v1.4h-1.4zM283.2 479.5h1.4v1.4h-1.4zM279.4 470.5h1.4v1.4h-1.4zM299.2 473.6h1.4v1.4h-1.4zM291.0 480.8h1.4v1.4h-1.4zM282.0 475.4h1.4v1.4h-1.4zM293.2 482.4h1.4v1.4h-1.4zM279.1 475.7h1.4v1.4h-1.4zM288.5 474.3h1.4v1.4h-1.4zM290.1 469.9h1.4v1.4h-1.4zM286.3 459.5h1.4v1.4h-1.4zM286.9 472.4h1.4v1.4h-1.4zM293.5 462.3h1.4v1.4h-1.4zM286.9 480.7h1.4v1.4h-1.4zM295.3 480.4h1.4v1.4h-1.4zM280.5 478.3h1.4v1.4h-1.4zM287.4 483.0h1.4v1.4h-1.4zM298.1 489.9h1.4v1.4h-1.4zM284.4 462.9h1.4v1.4h-1.4zM284.4 474.1h1.4v1.4h-1.4zM289.6 480.8h1.4v1.4h-1.4zM287.2 473.4h1.4v1.4h-1.4zM290.7 474.3h1.4v1.4h-1.4zM294.5 482.7h1.4v1.4h-1.4zM292.3 478.7h1.4v1.4h-1.4zM290.5 465.4h1.4v1.4h-1.4zM287.5 485.3h1.4v1.4h-1.4zM290.5 469.4h1.4v1.4h-1.4zM294.1 476.7h1.4v1.4h-1.4zM285.0 479.1h1.4v1.4h-1.4zM287.3 463.3h1.4v1.4h-1.4zM283.8 487.1h1.4v1.4h-1.4zM289.5 479.8h1.4v1.4h-1.4zM290.3 477.8h1.4v1.4h-1.4zM286.7 480.7h1.4v1.4h-1.4zM284.0 473.5h1.4v1.4h-1.4zM285.7 480.0h1.4v1.4h-1.4zM292.9 479.7h1.4v1.4h-1.4zM286.7 459.7h1.4v1.4h-1.4zM293.8 466.7h1.4v1.4h-1.4zM286.5 481.7h1.4v1.4h-1.4zM285.8 467.8h1.4v1.4h-1.4zM293.5 478.9h1.4v1.4h-1.4zM285.6 473.9h1.4v1.4h-1.4zM295.3 480.2h1.4v1.4h-1.4zM278.5 462.7h1.4v1.4h-1.4zM289.7 476.0h1.4v1.4h-1.4zM286.9 475.2h1.4v1.4h-1.4zM287.6 477.1h1.4v1.4h-1.4zM291.0 476.8h1.4v1.4h-1.4zM279.6 475.6h1.4v1.4h-1.4zM300.4 477.7h1.4v1.4h-1.4zM287.4 478.5h1.4v1.4h-1.4zM302.1 471.1h1.4v1.4h-1.4zM293.9 485.2h1.4v1.4h-1.4zM290.8 475.2h1.4v1.4h-1.4zM281.8 470.8h1.4v1.4h-1.4zM298.4 479.8h1.4v1.4h-1.4zM293.1 464.9h1.4v1.4h-1.4zM295.8 482.6h1.4v1.4h-1.4zM281.8 472.6h1.4v1.4h-1.4zM280.8 475.4h1.4v1.4h-1.4zM287.7 475.2h1.4v1.4h-1.4zM292.4 478.3h1.4v1.4h-1.4zM293.8 470.4h1.4v1.4h-1.4zM295.9 471.6h1.4v1.4h-1.4zM285.3 477.3h1.4v1.4h-1.4zM282.9 470.5h1.4v1.4h-1.4zM293.5 474.4h1.4v1.4h-1.4zM284.6 473.7h1.4v1.4h-1.4zM289.4 472.1h1.4v1.4h-1.4zM300.2 469.7h1.4v1.4h-1.4zM287.6 468.7h1.4v1.4h-1.4zM291.7 471.6h1.4v1.4h-1.4zM291.1 466.0h1.4v1.4h-1.4zM289.8 466.6h1.4v1.4h-1.4zM291.7 493.3h1.4v1.4h-1.4zM292.4 474.8h1.4v1.4h-1.4zM290.1 481.0h1.4v1.4h-1.4zM297.6 476.6h1.4v1.4h-1.4zM294.6 479.7h1.4v1.4h-1.4zM284.7 475.6h1.4v1.4h-1.4zM297.2 481.6h1.4v1.4h-1.4zM290.6 476.1h1.4v1.4h-1.4zM289.0 476.7h1.4v1.4h-1.4zM285.9 466.3h1.4v1.4h-1.4zM293.8 481.5h1.4v1.4h-1.4zM289.7 473.4h1.4v1.4h-1.4zM285.9 474.6h1.4v1.4h-1.4zM285.6 477.6h1.4v1.4h-1.4zM295.7 476.5h1.4v1.4h-1.4zM288.2 474.7h1.4v1.4h-1.4zM287.9 483.5h1.4v1.4h-1.4zM302.7 468.9h1.4v1.4h-1.4zM291.6 460.9h1.4v1.4h-1.4zM293.2 472.7h1.4v1.4h-1.4zM290.6 459.4h1.4v1.4h-1.4zM289.8 473.6h1.4v1.4h-1.4zM285.0 483.6h1.4v1.4h-1.4zM293.5 485.5h1.4v1.4h-1.4zM291.4 467.4h1.4v1.4h-1.4zM285.8 477.6h1.4v1.4h-1.4zM289.5 466.6h1.4v1.4h-1.4zM298.9 477.2h1.4v1.4h-1.4zM291.4 484.4h1.4v1.4h-1.4zM290.3 470.7h1.4v1.4h-1.4zM286.8 485.6h1.4v1.4h-1.4zM287.1 476.9h1.4v1.4h-1.4z"/>
<path fill="#3a74d0" d="M334.3 458.3h1.3v1.3h-1.3zM310.9 481.4h1.3v1.3h-1.3zM306.5 474.8h1.3v1.3h-1.3zM321.3 454.3h1.3v1.3h-1.3zM322.8 473.7h1.3v1.3h-1.3zM321.3 478.5h1.3v1.3h-1.3zM307.0 472.1h1.3v1.3h-1.3zM314.8 468.9h1.3v1.3h-1.3zM309.3 471.7h1.3v1.3h-1.3zM328.3 471.4h1.3v1.3h-1.3zM318.2 464.9h1.3v1.3h-1.3zM308.7 473.4h1.3v1.3h-1.3zM304.3 462.7h1.3v1.3h-1.3zM303.1 479.7h1.3v1.3h-1.3zM306.9 464.3h1.3v1.3h-1.3zM313.1 467.3h1.3v1.3h-1.3zM318.1 470.9h1.3v1.3h-1.3zM324.7 472.9h1.3v1.3h-1.3zM308.6 466.4h1.3v1.3h-1.3zM323.6 462.6h1.3v1.3h-1.3zM299.0 482.8h1.3v1.3h-1.3zM312.2 465.9h1.3v1.3h-1.3zM318.2 463.1h1.3v1.3h-1.3zM308.9 467.6h1.3v1.3h-1.3zM317.1 472.7h1.3v1.3h-1.3zM322.1 471.5h1.3v1.3h-1.3zM310.8 476.5h1.3v1.3h-1.3zM316.5 471.4h1.3v1.3h-1.3zM322.9 464.4h1.3v1.3h-1.3zM304.5 474.7h1.3v1.3h-1.3zM324.9 471.2h1.3v1.3h-1.3zM311.3 462.9h1.3v1.3h-1.3zM300.7 469.1h1.3v1.3h-1.3zM317.3 468.3h1.3v1.3h-1.3zM322.5 477.3h1.3v1.3h-1.3zM312.2 467.9h1.3v1.3h-1.3zM317.3 468.9h1.3v1.3h-1.3zM318.5 468.4h1.3v1.3h-1.3zM315.4 471.3h1.3v1.3h-1.3zM316.5 472.8h1.3v1.3h-1.3zM320.0 461.4h1.3v1.3h-1.3zM316.6 451.0h1.3v1.3h-1.3zM315.5 473.8h1.3v1.3h-1.3zM295.3 461.3h1.3v1.3h-1.3zM303.8 474.0h1.3v1.3h-1.3zM311.8 472.6h1.3v1.3h-1.3zM325.4 470.8h1.3v1.3h-1.3zM317.1 462.1h1.3v1.3h-1.3zM330.2 467.1h1.3v1.3h-1.3zM319.5 472.2h1.3v1.3h-1.3zM319.2 472.4h1.3v1.3h-1.3zM313.7 477.3h1.3v1.3h-1.3zM323.4 460.7h1.3v1.3h-1.3zM302.0 469.4h1.3v1.3h-1.3zM317.0 466.9h1.3v1.3h-1.3zM313.2 469.4h1.3v1.3h-1.3zM311.6 476.5h1.3v1.3h-1.3zM323.9 472.0h1.3v1.3h-1.3zM320.5 468.4h1.3v1.3h-1.3zM320.7 478.6h1.3v1.3h-1.3zM312.7 473.6h1.3v1.3h-1.3zM300.2 465.9h1.3v1.3h-1.3zM305.0 480.0h1.3v1.3h-1.3zM290.6 467.6h1.3v1.3h-1.3zM300.9 465.1h1.3v1.3h-1.3zM316.4 466.2h1.3v1.3h-1.3zM325.7 463.3h1.3v1.3h-1.3zM304.7 471.2h1.3v1.3h-1.3zM325.1 466.5h1.3v1.3h-1.3zM329.5 460.3h1.3v1.3h-1.3zM322.8 462.4h1.3v1.3h-1.3zM330.2 469.2h1.3v1.3h-1.3zM314.7 471.0h1.3v1.3h-1.3zM309.9 469.0h1.3v1.3h-1.3zM315.6 463.8h1.3v1.3h-1.3zM322.9 467.1h1.3v1.3h-1.3zM317.1 462.4h1.3v1.3h-1.3zM314.2 461.2h1.3v1.3h-1.3zM323.2 473.2h1.3v1.3h-1.3zM308.2 475.2h1.3v1.3h-1.3zM321.0 465.4h1.3v1.3h-1.3zM300.1 483.1h1.3v1.3h-1.3zM327.0 465.3h1.3v1.3h-1.3zM327.9 469.8h1.3v1.3h-1.3zM335.9 466.7h1.3v1.3h-1.3zM307.2 472.0h1.3v1.3h-1.3zM310.1 471.3h1.3v1.3h-1.3zM308.3 480.6h1.3v1.3h-1.3zM303.6 478.0h1.3v1.3h-1.3zM291.7 463.9h1.3v1.3h-1.3zM322.5 471.0h1.3v1.3h-1.3zM309.4 457.1h1.3v1.3h-1.3zM312.0 463.6h1.3v1.3h-1.3zM299.9 476.1h1.3v1.3h-1.3zM314.4 462.7h1.3v1.3h-1.3zM334.3 471.9h1.3v1.3h-1.3zM315.6 466.9h1.3v1.3h-1.3zM323.0 470.9h1.3v1.3h-1.3zM305.1 473.8h1.3v1.3h-1.3zM325.4 471.6h1.3v1.3h-1.3zM316.6 477.2h1.3v1.3h-1.3zM313.6 460.7h1.3v1.3h-1.3zM317.9 468.3h1.3v1.3h-1.3zM313.0 471.2h1.3v1.3h-1.3zM322.4 473.9h1.3v1.3h-1.3zM314.8 472.9h1.3v1.3h-1.3zM310.6 468.9h1.3v1.3h-1.3zM303.3 464.0h1.3v1.3h-1.3zM302.3 462.8h1.3v1.3h-1.3zM320.9 462.1h1.3v1.3h-1.3zM324.6 467.9h1.3v1.3h-1.3zM314.2 470.6h1.3v1.3h-1.3zM315.5 478.2h1.3v1.3h-1.3zM310.4 472.5h1.3v1.3h-1.3zM317.7 473.5h1.3v1.3h-1.3zM324.9 458.1h1.3v1.3h-1.3zM317.6 470.2h1.3v1.3h-1.3zM309.5 467.7h1.3v1.3h-1.3zM323.2 463.4h1.3v1.3h-1.3zM323.5 474.8h1.3v1.3h-1.3zM299.4 473.4h1.3v1.3h-1.3zM310.8 470.0h1.3v1.3h-1.3zM325.9 466.5h1.3v1.3h-1.3zM316.4 460.6h1.3v1.3h-1.3zM312.0 460.0h1.3v1.3h-1.3zM321.7 479.4h1.3v1.3h-1.3zM305.0 472.4h1.3v1.3h-1.3zM304.9 472.0h1.3v1.3h-1.3zM314.4 470.9h1.3v1.3h-1.3zM315.4 466.4h1.3v1.3h-1.3zM328.8 463.9h1.3v1.3h-1.3zM312.8 464.5h1.3v1.3h-1.3zM318.3 470.5h1.3v1.3h-1.3zM328.4 464.8h1.3v1.3h-1.3zM311.6 476.7h1.3v1.3h-1.3zM315.2 479.0h1.3v1.3h-1.3zM313.8 463.0h1.3v1.3h-1.3zM318.6 472.6h1.3v1.3h-1.3zM316.0 466.5h1.3v1.3h-1.3zM324.6 480.2h1.3v1.3h-1.3zM305.0 473.3h1.3v1.3h-1.3zM305.1 478.1h1.3v1.3h-1.3zM313.6 466.7h1.3v1.3h-1.3zM302.8 480.5h1.3v1.3h-1.3zM327.7 461.3h1.3v1.3h-1.3zM306.1 463.9h1.3v1.3h-1.3zM306.2 456.4h1.3v1.3h-1.3zM320.1 467.6h1.3v1.3h-1.3zM317.1 466.2h1.3v1.3h-1.3zM320.1 469.0h1.3v1.3h-1.3zM313.1 464.0h1.3v1.3h-1.3zM303.3 472.2h1.3v1.3h-1.3zM313.3 469.5h1.3v1.3h-1.3zM307.2 464.5h1.3v1.3h-1.3zM303.0 484.4h1.3v1.3h-1.3zM315.5 482.9h1.3v1.3h-1.3zM323.4 468.8h1.3v1.3h-1.3zM307.3 474.8h1.3v1.3h-1.3zM309.1 475.0h1.3v1.3h-1.3zM309.1 475.4h1.3v1.3h-1.3zM319.8 463.1h1.3v1.3h-1.3zM297.1 476.0h1.3v1.3h-1.3zM321.3 478.9h1.3v1.3h-1.3zM315.1 468.3h1.3v1.3h-1.3zM313.2 468.3h1.3v1.3h-1.3zM304.8 466.4h1.3v1.3h-1.3zM311.4 467.8h1.3v1.3h-1.3zM327.8 452.4h1.3v1.3h-1.3zM316.2 468.9h1.3v1.3h-1.3zM312.5 476.8h1.3v1.3h-1.3zM322.1 469.6h1.3v1.3h-1.3zM303.7 473.6h1.3v1.3h-1.3zM324.2 467.4h1.3v1.3h-1.3zM313.5 470.3h1.3v1.3h-1.3zM334.7 457.7h1.3v1.3h-1.3zM330.8 453.5h1.3v1.3h-1.3zM322.4 479.1h1.3v1.3h-1.3zM319.0 471.7h1.3v1.3h-1.3zM307.5 457.9h1.3v1.3h-1.3zM322.0 477.8h1.3v1.3h-1.3zM320.1 465.6h1.3v1.3h-1.3zM304.0 478.6h1.3v1.3h-1.3zM301.0 472.6h1.3v1.3h-1.3zM318.0 464.7h1.3v1.3h-1.3zM310.6 476.0h1.3v1.3h-1.3zM315.1 467.3h1.3v1.3h-1.3zM311.4 455.1h1.3v1.3h-1.3zM316.5 472.6h1.3v1.3h-1.3zM311.9 469.8h1.3v1.3h-1.3zM319.5 467.9h1.3v1.3h-1.3zM326.2 464.5h1.3v1.3h-1.3zM329.0 468.4h1.3v1.3h-1.3zM313.3 479.4h1.3v1.3h-1.3zM316.7 475.4h1.3v1.3h-1.3zM315.3 471.4h1.3v1.3h-1.3zM301.2 473.9h1.3v1.3h-1.3zM299.4 469.1h1.3v1.3h-1.3zM315.8 480.5h1.3v1.3h-1.3zM315.0 457.4h1.3v1.3h-1.3zM319.2 462.2h1.3v1.3h-1.3zM308.0 470.4h1.3v1.3h-1.3zM319.8 469.1h1.3v1.3h-1.3zM313.3 471.7h1.3v1.3h-1.3zM309.4 468.5h1.3v1.3h-1.3zM325.5 478.7h1.3v1.3h-1.3zM301.1 481.1h1.3v1.3h-1.3zM290.8 464.3h1.3v1.3h-1.3zM329.2 459.8h1.3v1.3h-1.3zM311.3 462.0h1.3v1.3h-1.3zM322.9 476.4h1.3v1.3h-1.3zM312.3 467.6h1.3v1.3h-1.3zM305.4 462.4h1.3v1.3h-1.3zM303.3 470.9h1.3v1.3h-1.3zM296.1 466.5h1.3v1.3h-1.3zM315.6 469.7h1.3v1.3h-1.3zM305.8 476.4h1.3v1.3h-1.3zM311.0 463.5h1.3v1.3h-1.3zM316.6 470.6h1.3v1.3h-1.3zM313.7 471.9h1.3v1.3h-1.3zM313.4 465.5h1.3v1.3h-1.3zM327.5 469.3h1.3v1.3h-1.3zM315.3 465.4h1.3v1.3h-1.3zM317.0 473.2h1.3v1.3h-1.3zM312.2 469.5h1.3v1.3h-1.3zM325.7 464.0h1.3v1.3h-1.3zM327.2 475.3h1.3v1.3h-1.3zM310.3 477.1h1.3v1.3h-1.3zM316.7 467.3h1.3v1.3h-1.3zM307.7 451.8h1.3v1.3h-1.3zM310.4 472.5h1.3v1.3h-1.3z"/>
<path fill="#1494f8" d="M301.0 472.6h1.4v1.4h-1.4zM311.2 473.6h1.4v1.4h-1.4zM305.6 469.5h1.4v1.4h-1.4zM307.5 488.4h1.4v1.4h-1.4zM306.4 487.0h1.4v1.4h-1.4zM319.5 464.1h1.4v1.4h-1.4zM319.6 460.7h1.4v1.4h-1.4zM321.5 475.6h1.4v1.4h-1.4zM296.1 481.6h1.4v1.4h-1.4zM303.2 476.9h1.4v1.4h-1.4zM309.0 476.1h1.4v1.4h-1.4zM286.5 479.5h1.4v1.4h-1.4zM319.3 478.7h1.4v1.4h-1.4zM297.0 484.3h1.4v1.4h-1.4zM319.1 481.2h1.4v1.4h-1.4zM302.5 483.0h1.4v1.4h-1.4zM309.9 471.6h1.4v1.4h-1.4zM288.1 478.3h1.4v1.4h-1.4zM280.1 481.5h1.4v1.4h-1.4zM298.8 479.0h1.4v1.4h-1.4zM291.0 475.9h1.4v1.4h-1.4zM291.3 474.9h1.4v1.4h-1.4zM300.8 476.1h1.4v1.4h-1.4zM308.2 472.8h1.4v1.4h-1.4zM314.1 473.2h1.4v1.4h-1.4zM298.9 488.6h1.4v1.4h-1.4zM292.6 488.5h1.4v1.4h-1.4zM303.8 473.6h1.4v1.4h-1.4zM294.5 479.9h1.4v1.4h-1.4zM292.4 478.0h1.4v1.4h-1.4zM299.3 472.5h1.4v1.4h-1.4zM317.7 476.5h1.4v1.4h-1.4zM305.0 463.6h1.4v1.4h-1.4zM283.9 483.2h1.4v1.4h-1.4zM324.9 468.8h1.4v1.4h-1.4zM289.3 472.2h1.4v1.4h-1.4zM307.5 478.5h1.4v1.4h-1.4zM298.4 484.0h1.4v1.4h-1.4zM315.5 474.7h1.4v1.4h-1.4zM310.1 477.3h1.4v1.4h-1.4zM316.1 467.1h1.4v1.4h-1.4zM308.3 477.8h1.4v1.4h-1.4zM306.1 485.2h1.4v1.4h-1.4zM315.9 465.6h1.4v1.4h-1.4zM289.0 494.5h1.4v1.4h-1.4zM289.0 468.5h1.4v1.4h-1.4zM291.6 485.2h1.4v1.4h-1.4zM302.4 472.6h1.4v1.4h-1.4zM300.4 478.4h1.4v1.4h-1.4zM296.3 478.0h1.4v1.4h-1.4zM312.7 473.8h1.4v1.4h-1.4zM312.3 480.4h1.4v1.4h-1.4zM299.8 475.3h1.4v1.4h-1.4zM290.9 480.9h1.4v1.4h-1.4zM329.4 476.9h1.4v1.4h-1.4zM308.6 474.0h1.4v1.4h-1.4zM295.9 464.3h1.4v1.4h-1.4zM306.3 472.0h1.4v1.4h-1.4zM308.2 471.2h1.4v1.4h-1.4zM297.5 472.0h1.4v1.4h-1.4zM314.5 477.4h1.4v1.4h-1.4zM307.3 475.8h1.4v1.4h-1.4zM299.5 472.1h1.4v1.4h-1.4zM316.6 469.0h1.4v1.4h-1.4zM299.1 468.0h1.4v1.4h-1.4zM318.5 468.7h1.4v1.4h-1.4zM310.6 486.7h1.4v1.4h-1.4zM300.7 465.8h1.4v1.4h-1.4zM321.4 483.9h1.4v1.4h-1.4zM302.3 476.2h1.4v1.4h-1.4zM311.6 472.7h1.4v1.4h-1.4zM319.2 468.3h1.4v1.4h-1.4zM300.4 468.9h1.4v1.4h-1.4zM301.1 480.9h1.4v1.4h-1.4zM313.7 471.3h1.4v1.4h-1.4zM315.4 468.6h1.4v1.4h-1.4zM283.5 481.1h1.4v1.4h-1.4zM314.2 483.4h1.4v1.4h-1.4zM317.3 469.4h1.4v1.4h-1.4zM300.4 475.9h1.4v1.4h-1.4zM319.0 480.8h1.4v1.4h-1.4zM301.4 470.0h1.4v1.4h-1.4zM301.1 482.4h1.4v1.4h-1.4zM307.2 491.1h1.4v1.4h-1.4zM314.1 473.2h1.4v1.4h-1.4zM300.0 466.3h1.4v1.4h-1.4zM302.4 482.7h1.4v1.4h-1.4zM306.3 473.3h1.4v1.4h-1.4zM317.0 481.3h1.4v1.4h-1.4zM286.3 484.2h1.4v1.4h-1.4zM318.3 474.1h1.4v1.4h-1.4zM319.7 466.2h1.4v1.4h-1.4zM297.5 485.6h1.4v1.4h-1.4zM306.4 478.5h1.4v1.4h-1.4zM311.8 477.1h1.4v1.4h-1.4zM308.3 478.2h1.4v1.4h-1.4zM326.6 473.3h1.4v1.4h-1.4zM308.2 476.6h1.4v1.4h-1.4zM300.5 476.8h1.4v1.4h-1.4zM299.6 466.9h1.4v1.4h-1.4zM309.0 471.3h1.4v1.4h-1.4zM298.1 475.7h1.4v1.4h-1.4zM302.0 484.2h1.4v1.4h-1.4zM302.7 483.8h1.4v1.4h-1.4zM322.3 465.2h1.4v1.4h-1.4zM312.2 471.0h1.4v1.4h-1.4zM293.4 475.4h1.4v1.4h-1.4zM312.2 476.4h1.4v1.4h-1.4zM279.5 485.0h1.4v1.4h-1.4zM307.6 479.6h1.4v1.4h-1.4zM312.0 470.2h1.4v1.4h-1.4zM309.8 472.9h1.4v1.4h-1.4zM315.8 487.1h1.4v1.4h-1.4zM307.2 468.4h1.4v1.4h-1.4zM302.4 486.7h1.4v1.4h-1.4zM306.1 481.3h1.4v1.4h-1.4zM306.0 482.5h1.4v1.4h-1.4zM292.1 480.9h1.4v1.4h-1.4zM307.8 475.9h1.4v1.4h-1.4zM298.2 483.5h1.4v1.4h-1.4zM313.6 473.4h1.4v1.4h-1.4zM330.6 469.5h1.4v1.4h-1.4zM328.9 468.5h1.4v1.4h-1.4zM335.2 471.3h1.4v1.4h-1.4zM303.1 476.6h1.4v1.4h-1.4zM302.5 475.4h1.4v1.4h-1.4zM315.2 477.9h1.4v1.4h-1.4zM298.5 479.7h1.4v1.4h-1.4zM312.0 466.4h1.4v1.4h-1.4zM301.7 477.2h1.4v1.4h-1.4zM313.2 483.6h1.4v1.4h-1.4zM304.2 479.6h1.4v1.4h-1.4zM326.4 481.0h1.4v1.4h-1.4zM316.8 462.6h1.4v1.4h-1.4zM316.7 476.1h1.4v1.4h-1.4zM291.7 467.5h1.4v1.4h-1.4zM321.3 476.3h1.4v1.4h-1.4zM302.5 473.1h1.4v1.4h-1.4zM293.5 478.6h1.4v1.4h-1.4zM311.7 477.7h1.4v1.4h-1.4zM317.3 467.8h1.4v1.4h-1.4zM291.2 475.7h1.4v1.4h-1.4zM315.2 471.3h1.4v1.4h-1.4zM306.7 480.9h1.4v1.4h-1.4zM308.0 484.6h1.4v1.4h-1.4zM311.7 469.7h1.4v1.4h-1.4zM302.9 471.0h1.4v1.4h-1.4zM301.0 477.9h1.4v1.4h-1.4zM317.1 465.4h1.4v1.4h-1.4zM280.1 474.1h1.4v1.4h-1.4zM319.0 476.0h1.4v1.4h-1.4zM293.7 476.0h1.4v1.4h-1.4zM322.9 481.7h1.4v1.4h-1.4zM294.1 473.3h1.4v1.4h-1.4zM324.5 480.9h1.4v1.4h-1.4zM292.1 487.8h1.4v1.4h-1.4zM325.9 468.7h1.4v1.4h-1.4zM309.9 476.5h1.4v1.4h-1.4zM301.5 459.9h1.4v1.4h-1.4zM305.2 478.0h1.4v1.4h-1.4zM318.7 473.1h1.4v1.4h-1.4zM304.9 471.2h1.4v1.4h-1.4zM316.6 482.1h1.4v1.4h-1.4zM305.8 460.7h1.4v1.4h-1.4zM297.9 482.9h1.4v1.4h-1.4zM325.6 471.3h1.4v1.4h-1.4zM306.8 477.2h1.4v1.4h-1.4zM308.7 465.6h1.4v1.4h-1.4zM311.9 478.7h1.4v1.4h-1.4zM307.5 472.3h1.4v1.4h-1.4zM326.0 471.8h1.4v1.4h-1.4zM313.6 480.1h1.4v1.4h-1.4zM303.9 471.1h1.4v1.4h-1.4zM304.3 458.1h1.4v1.4h-1.4zM305.4 478.5h1.4v1.4h-1.4zM297.0 480.1h1.4v1.4h-1.4zM319.2 471.1h1.4v1.4h-1.4zM297.0 474.4h1.4v1.4h-1.4zM319.3 466.7h1.4v1.4h-1.4zM309.3 476.2h1.4v1.4h-1.4zM317.6 477.0h1.4v1.4h-1.4zM307.2 473.1h1.4v1.4h-1.4zM307.2 484.5h1.4v1.4h-1.4zM331.6 468.1h1.4v1.4h-1.4zM305.4 481.0h1.4v1.4h-1.4zM298.3 477.6h1.4v1.4h-1.4zM312.7 474.8h1.4v1.4h-1.4zM324.3 478.3h1.4v1.4h-1.4zM296.2 483.8h1.4v1.4h-1.4zM304.7 485.0h1.4v1.4h-1.4zM319.0 480.8h1.4v1.4h-1.4zM318.1 474.1h1.4v1.4h-1.4zM315.4 479.4h1.4v1.4h-1.4zM304.9 480.7h1.4v1.4h-1.4zM311.4 478.8h1.4v1.4h-1.4zM302.6 483.3h1.4v1.4h-1.4zM313.3 475.9h1.4v1.4h-1.4zM308.8 477.5h1.4v1.4h-1.4zM312.2 478.9h1.4v1.4h-1.4zM304.7 471.5h1.4v1.4h-1.4zM317.1 479.7h1.4v1.4h-1.4zM310.6 482.5h1.4v1.4h-1.4zM297.4 466.2h1.4v1.4h-1.4zM324.1 477.2h1.4v1.4h-1.4zM309.6 471.6h1.4v1.4h-1.4zM304.2 472.3h1.4v1.4h-1.4zM307.7 481.0h1.4v1.4h-1.4zM322.1 466.9h1.4v1.4h-1.4zM309.5 477.6h1.4v1.4h-1.4zM310.2 471.7h1.4v1.4h-1.4zM297.9 471.2h1.4v1.4h-1.4zM307.5 488.2h1.4v1.4h-1.4zM300.9 473.3h1.4v1.4h-1.4zM297.4 471.4h1.4v1.4h-1.4zM296.6 477.1h1.4v1.4h-1.4zM307.3 488.3h1.4v1.4h-1.4zM292.0 470.1h1.4v1.4h-1.4zM316.0 481.6h1.4v1.4h-1.4zM314.3 469.9h1.4v1.4h-1.4zM298.8 480.2h1.4v1.4h-1.4zM311.5 475.0h1.4v1.4h-1.4zM301.9 484.8h1.4v1.4h-1.4zM309.3 471.1h1.4v1.4h-1.4zM314.7 486.8h1.4v1.4h-1.4zM289.5 478.8h1.4v1.4h-1.4zM279.7 474.8h1.4v1.4h-1.4zM312.1 476.5h1.4v1.4h-1.4zM313.2 480.3h1.4v1.4h-1.4zM307.7 481.0h1.4v1.4h-1.4zM302.7 484.1h1.4v1.4h-1.4zM299.1 477.5h1.4v1.4h-1.4zM282.8 492.7h1.4v1.4h-1.4zM322.2 478.3h1.4v1.4h-1.4zM282.1 477.4h1.4v1.4h-1.4zM308.0 473.9h1.4v1.4h-1.4zM302.9 473.2h1.4v1.4h-1.4zM308.9 474.5h1.4v1.4h-1.4zM294.0 481.8h1.4v1.4h-1.4zM296.9 476.6h1.4v1.4h-1.4zM310.3 474.9h1.4v1.4h-1.4zM295.9 484.7h1.4v1.4h-1.4zM308.3 482.1h1.4v1.4h-1.4zM295.0 489.6h1.4v1.4h-1.4zM302.6 457.6h1.4v1.4h-1.4zM309.7 472.0h1.4v1.4h-1.4zM305.1 472.8h1.4v1.4h-1.4zM310.5 472.4h1.4v1.4h-1.4zM292.7 474.9h1.4v1.4h-1.4zM298.9 473.0h1.4v1.4h-1.4zM303.4 482.6h1.4v1.4h-1.4zM322.2 481.2h1.4v1.4h-1.4zM298.2 472.2h1.4v1.4h-1.4zM307.0 481.8h1.4v1.4h-1.4zM314.2 460.7h1.4v1.4h-1.4zM308.4 480.0h1.4v1.4h-1.4zM317.4 485.1h1.4v1.4h-1.4zM296.4 485.9h1.4v1.4h-1.4zM314.1 469.6h1.4v1.4h-1.4zM304.0 472.0h1.4v1.4h-1.4zM310.0 474.1h1.4v1.4h-1.4zM314.5 483.3h1.4v1.4h-1.4zM286.6 484.7h1.4v1.4h-1.4zM317.0 475.6h1.4v1.4h-1.4zM301.9 481.6h1.4v1.4h-1.4zM315.1 467.6h1.4v1.4h-1.4zM298.9 464.8h1.4v1.4h-1.4zM306.4 473.1h1.4v1.4h-1.4zM288.7 478.4h1.4v1.4h-1.4zM294.0 482.2h1.4v1.4h-1.4zM315.7 474.8h1.4v1.4h-1.4zM306.9 473.9h1.4v1.4h-1.4zM303.5 474.0h1.4v1.4h-1.4zM296.0 489.0h1.4v1.4h-1.4zM302.9 478.2h1.4v1.4h-1.4zM306.7 489.7h1.4v1.4h-1.4zM314.3 487.5h1.4v1.4h-1.4zM302.4 483.7h1.4v1.4h-1.4zM300.2 483.8h1.4v1.4h-1.4zM316.7 464.2h1.4v1.4h-1.4zM321.8 481.7h1.4v1.4h-1.4zM306.4 478.5h1.4v1.4h-1.4zM296.2 484.1h1.4v1.4h-1.4zM311.1 482.5h1.4v1.4h-1.4zM300.5 479.8h1.4v1.4h-1.4zM318.1 467.9h1.4v1.4h-1.4zM304.3 474.5h1.4v1.4h-1.4zM297.3 473.2h1.4v1.4h-1.4zM303.9 484.2h1.4v1.4h-1.4zM295.9 479.9h1.4v1.4h-1.4zM304.9 478.1h1.4v1.4h-1.4zM291.8 478.1h1.4v1.4h-1.4zM307.3 476.2h1.4v1.4h-1.4zM311.8 468.2h1.4v1.4h-1.4zM310.4 476.9h1.4v1.4h-1.4zM294.3 473.3h1.4v1.4h-1.4zM309.7 478.1h1.4v1.4h-1.4zM300.8 477.0h1.4v1.4h-1.4zM291.6 484.1h1.4v1.4h-1.4zM306.0 484.4h1.4v1.4h-1.4zM314.6 478.0h1.4v1.4h-1.4zM307.6 477.9h1.4v1.4h-1.4zM303.1 483.7h1.4v1.4h-1.4zM297.7 476.0h1.4v1.4h-1.4zM304.5 477.5h1.4v1.4h-1.4zM310.4 478.9h1.4v1.4h-1.4zM304.4 468.5h1.4v1.4h-1.4zM315.6 470.4h1.4v1.4h-1.4zM316.6 488.2h1.4v1.4h-1.4zM315.4 476.4h1.4v1.4h-1.4zM302.6 479.6h1.4v1.4h-1.4zM310.7 480.0h1.4v1.4h-1.4zM305.4 476.5h1.4v1.4h-1.4zM308.6 474.0h1.4v1.4h-1.4zM307.9 475.0h1.4v1.4h-1.4zM331.6 477.5h1.4v1.4h-1.4zM296.8 490.6h1.4v1.4h-1.4zM308.4 473.2h1.4v1.4h-1.4zM300.6 478.1h1.4v1.4h-1.4zM310.5 479.2h1.4v1.4h-1.4zM306.4 469.9h1.4v1.4h-1.4zM321.1 473.9h1.4v1.4h-1.4zM306.1 484.5h1.4v1.4h-1.4zM300.9 486.4h1.4v1.4h-1.4zM313.1 491.6h1.4v1.4h-1.4zM308.1 474.9h1.4v1.4h-1.4zM284.7 483.4h1.4v1.4h-1.4zM326.1 478.1h1.4v1.4h-1.4zM297.4 482.1h1.4v1.4h-1.4zM323.2 480.6h1.4v1.4h-1.4zM318.3 474.6h1.4v1.4h-1.4zM317.0 463.5h1.4v1.4h-1.4zM306.8 472.1h1.4v1.4h-1.4zM295.3 469.5h1.4v1.4h-1.4zM299.0 480.6h1.4v1.4h-1.4zM320.7 482.1h1.4v1.4h-1.4zM302.6 482.3h1.4v1.4h-1.4zM309.5 473.5h1.4v1.4h-1.4zM299.4 466.2h1.4v1.4h-1.4zM300.6 478.9h1.4v1.4h-1.4zM314.6 470.7h1.4v1.4h-1.4zM296.0 475.9h1.4v1.4h-1.4zM304.3 477.9h1.4v1.4h-1.4zM307.3 492.5h1.4v1.4h-1.4zM307.1 474.2h1.4v1.4h-1.4zM304.0 473.0h1.4v1.4h-1.4zM293.7 471.1h1.4v1.4h-1.4zM303.7 483.9h1.4v1.4h-1.4zM301.5 472.2h1.4v1.4h-1.4zM322.7 460.3h1.4v1.4h-1.4zM313.2 471.9h1.4v1.4h-1.4zM305.8 479.0h1.4v1.4h-1.4zM305.9 468.8h1.4v1.4h-1.4zM303.4 477.2h1.4v1.4h-1.4zM320.0 462.2h1.4v1.4h-1.4zM306.5 484.9h1.4v1.4h-1.4zM294.6 472.1h1.4v1.4h-1.4zM346.0 465.7h1.4v1.4h-1.4zM296.8 473.0h1.4v1.4h-1.4zM299.5 474.9h1.4v1.4h-1.4zM297.0 481.3h1.4v1.4h-1.4zM309.4 472.0h1.4v1.4h-1.4zM299.2 478.0h1.4v1.4h-1.4zM300.4 486.2h1.4v1.4h-1.4zM320.2 490.0h1.4v1.4h-1.4zM322.0 478.1h1.4v1.4h-1.4zM309.5 476.2h1.4v1.4h-1.4zM296.1 481.1h1.4v1.4h-1.4zM309.2 467.8h1.4v1.4h-1.4zM298.3 471.8h1.4v1.4h-1.4zM307.4 469.2h1.4v1.4h-1.4zM309.9 478.7h1.4v1.4h-1.4zM294.4 479.2h1.4v1.4h-1.4zM314.5 472.3h1.4v1.4h-1.4zM310.2 491.4h1.4v1.4h-1.4zM305.8 476.9h1.4v1.4h-1.4zM297.0 484.8h1.4v1.4h-1.4zM316.4 477.2h1.4v1.4h-1.4zM299.4 478.9h1.4v1.4h-1.4zM308.1 479.6h1.4v1.4h-1.4zM293.7 470.2h1.4v1.4h-1.4zM294.1 480.8h1.4v1.4h-1.4zM295.6 486.5h1.4v1.4h-1.4zM292.6 491.6h1.4v1.4h-1.4zM301.8 476.6h1.4v1.4h-1.4zM321.7 482.1h1.4v1.4h-1.4zM318.2 479.1h1.4v1.4h-1.4zM296.9 476.9h1.4v1.4h-1.4zM295.6 469.2h1.4v1.4h-1.4zM321.9 474.7h1.4v1.4h-1.4zM312.8 470.9h1.4v1.4h-1.4zM308.2 484.1h1.4v1.4h-1.4zM303.0 480.4h1.4v1.4h-1.4zM299.7 468.9h1.4v1.4h-1.4zM282.0 480.4h1.4v1.4h-1.4zM300.4 481.0h1.4v1.4h-1.4zM329.0 479.4h1.4v1.4h-1.4zM317.6 457.0h1.4v1.4h-1.4zM304.1 480.8h1.4v1.4h-1.4zM311.8 466.8h1.4v1.4h-1.4zM311.5 473.9h1.4v1.4h-1.4zM298.8 473.0h1.4v1.4h-1.4zM298.6 485.1h1.4v1.4h-1.4zM300.7 480.6h1.4v1.4h-1.4zM310.7 487.4h1.4v1.4h-1.4zM321.2 481.4h1.4v1.4h-1.4zM307.2 471.8h1.4v1.4h-1.4zM302.4 463.2h1.4v1.4h-1.4zM303.0 476.1h1.4v1.4h-1.4zM317.6 470.1h1.4v1.4h-1.4zM322.6 473.2h1.4v1.4h-1.4zM307.2 471.7h1.4v1.4h-1.4zM302.6 473.5h1.4v1.4h-1.4zM310.4 480.7h1.4v1.4h-1.4zM312.3 476.8h1.4v1.4h-1.4zM316.7 469.4h1.4v1.4h-1.4zM316.4 476.8h1.4v1.4h-1.4zM296.8 473.4h1.4v1.4h-1.4zM305.0 477.3h1.4v1.4h-1.4zM303.6 483.8h1.4v1.4h-1.4zM311.6 472.1h1.4v1.4h-1.4zM292.8 471.4h1.4v1.4h-1.4zM288.5 482.5h1.4v1.4h-1.4zM306.0 474.2h1.4v1.4h-1.4zM304.1 489.1h1.4v1.4h-1.4zM301.4 477.2h1.4v1.4h-1.4zM303.7 473.1h1.4v1.4h-1.4zM294.9 471.7h1.4v1.4h-1.4zM302.9 462.5h1.4v1.4h-1.4zM293.3 474.5h1.4v1.4h-1.4zM294.3 480.1h1.4v1.4h-1.4zM309.6 469.5h1.4v1.4h-1.4zM303.5 480.6h1.4v1.4h-1.4zM318.4 479.3h1.4v1.4h-1.4zM309.8 480.2h1.4v1.4h-1.4zM297.7 474.4h1.4v1.4h-1.4zM299.0 473.2h1.4v1.4h-1.4zM297.1 484.6h1.4v1.4h-1.4zM304.6 472.6h1.4v1.4h-1.4zM310.0 471.4h1.4v1.4h-1.4zM304.7 473.2h1.4v1.4h-1.4zM310.1 484.4h1.4v1.4h-1.4zM293.1 467.5h1.4v1.4h-1.4zM319.8 480.4h1.4v1.4h-1.4zM312.9 480.7h1.4v1.4h-1.4zM318.1 484.0h1.4v1.4h-1.4zM295.3 482.6h1.4v1.4h-1.4zM307.4 491.3h1.4v1.4h-1.4zM299.6 483.5h1.4v1.4h-1.4zM319.6 467.2h1.4v1.4h-1.4zM301.4 468.4h1.4v1.4h-1.4zM327.9 471.0h1.4v1.4h-1.4zM310.8 478.4h1.4v1.4h-1.4zM300.5 480.1h1.4v1.4h-1.4zM319.5 479.7h1.4v1.4h-1.4zM324.7 479.2h1.4v1.4h-1.4zM300.0 461.9h1.4v1.4h-1.4zM300.0 478.1h1.4v1.4h-1.4zM305.2 476.7h1.4v1.4h-1.4zM295.1 483.4h1.4v1.4h-1.4zM294.0 474.5h1.4v1.4h-1.4zM286.5 489.6h1.4v1.4h-1.4zM300.1 478.6h1.4v1.4h-1.4zM295.2 488.3h1.4v1.4h-1.4zM306.1 472.3h1.4v1.4h-1.4zM308.2 475.2h1.4v1.4h-1.4zM313.5 465.8h1.4v1.4h-1.4zM306.6 470.1h1.4v1.4h-1.4zM302.8 475.3h1.4v1.4h-1.4zM317.2 469.9h1.4v1.4h-1.4zM299.3 480.5h1.4v1.4h-1.4zM285.5 485.0h1.4v1.4h-1.4zM292.2 480.2h1.4v1.4h-1.4zM301.4 477.9h1.4v1.4h-1.4zM309.0 468.3h1.4v1.4h-1.4zM314.7 471.3h1.4v1.4h-1.4zM295.3 477.8h1.4v1.4h-1.4zM314.8 469.3h1.4v1.4h-1.4zM310.6 480.3h1.4v1.4h-1.4zM312.7 478.4h1.4v1.4h-1.4zM294.3 474.1h1.4v1.4h-1.4zM302.5 474.3h1.4v1.4h-1.4zM284.5 481.7h1.4v1.4h-1.4zM306.5 476.8h1.4v1.4h-1.4zM304.3 486.7h1.4v1.4h-1.4zM312.0 473.3h1.4v1.4h-1.4zM315.4 469.7h1.4v1.4h-1.4zM297.2 481.0h1.4v1.4h-1.4zM315.4 477.9h1.4v1.4h-1.4zM318.0 481.0h1.4v1.4h-1.4zM301.2 471.0h1.4v1.4h-1.4zM323.4 469.7h1.4v1.4h-1.4zM298.3 479.6h1.4v1.4h-1.4zM291.9 481.0h1.4v1.4h-1.4zM303.2 466.6h1.4v1.4h-1.4zM323.1 474.1h1.4v1.4h-1.4zM313.2 483.7h1.4v1.4h-1.4zM289.7 484.5h1.4v1.4h-1.4zM300.4 476.6h1.4v1.4h-1.4zM315.9 466.5h1.4v1.4h-1.4zM305.2 464.3h1.4v1.4h-1.4zM312.5 462.3h1.4v1.4h-1.4zM306.0 459.9h1.4v1.4h-1.4zM309.6 473.5h1.4v1.4h-1.4zM302.7 474.9h1.4v1.4h-1.4zM316.0 461.1h1.4v1.4h-1.4zM320.4 465.4h1.4v1.4h-1.4zM313.7 468.4h1.4v1.4h-1.4zM320.3 472.1h1.4v1.4h-1.4zM316.4 472.7h1.4v1.4h-1.4zM325.3 459.5h1.4v1.4h-1.4zM313.5 468.3h1.4v1.4h-1.4zM311.9 459.9h1.4v1.4h-1.4zM304.6 468.7h1.4v1.4h-1.4zM313.5 467.0h1.4v1.4h-1.4zM310.4 466.3h1.4v1.4h-1.4zM308.8 462.8h1.4v1.4h-1.4zM324.9 462.1h1.4v1.4h-1.4zM322.2 474.4h1.4v1.4h-1.4zM320.9 461.9h1.4v1.4h-1.4zM316.2 466.1h1.4v1.4h-1.4zM308.0 472.7h1.4v1.4h-1.4zM315.1 470.2h1.4v1.4h-1.4zM321.3 463.0h1.4v1.4h-1.4zM309.1 474.7h1.4v1.4h-1.4zM314.2 473.3h1.4v1.4h-1.4zM314.0 467.7h1.4v1.4h-1.4zM322.1 466.0h1.4v1.4h-1.4zM314.1 466.2h1.4v1.4h-1.4zM320.2 467.7h1.4v1.4h-1.4zM319.3 466.7h1.4v1.4h-1.4zM313.3 472.3h1.4v1.4h-1.4zM313.7 459.0h1.4v1.4h-1.4zM305.6 473.4h1.4v1.4h-1.4zM310.3 467.2h1.4v1.4h-1.4zM320.0 471.9h1.4v1.4h-1.4zM318.7 471.0h1.4v1.4h-1.4zM316.8 465.3h1.4v1.4h-1.4zM314.6 466.5h1.4v1.4h-1.4zM320.2 462.9h1.4v1.4h-1.4zM318.1 461.0h1.4v1.4h-1.4zM314.8 465.6h1.4v1.4h-1.4zM303.2 473.3h1.4v1.4h-1.4zM337.3 459.4h1.4v1.4h-1.4zM330.6 456.1h1.4v1.4h-1.4zM308.3 468.1h1.4v1.4h-1.4zM325.0 458.7h1.4v1.4h-1.4zM312.8 467.1h1.4v1.4h-1.4zM324.6 466.9h1.4v1.4h-1.4zM309.3 472.2h1.4v1.4h-1.4zM315.9 471.4h1.4v1.4h-1.4zM310.2 463.7h1.4v1.4h-1.4zM317.4 453.7h1.4v1.4h-1.4zM321.6 464.3h1.4v1.4h-1.4zM315.4 465.0h1.4v1.4h-1.4zM298.1 474.2h1.4v1.4h-1.4zM316.1 469.1h1.4v1.4h-1.4zM306.2 467.2h1.4v1.4h-1.4zM326.7 463.3h1.4v1.4h-1.4zM311.9 471.0h1.4v1.4h-1.4zM297.6 467.7h1.4v1.4h-1.4zM311.1 457.1h1.4v1.4h-1.4zM304.9 470.4h1.4v1.4h-1.4zM318.3 465.9h1.4v1.4h-1.4zM304.5 466.5h1.4v1.4h-1.4zM319.2 470.9h1.4v1.4h-1.4zM301.9 469.0h1.4v1.4h-1.4zM322.7 460.6h1.4v1.4h-1.4zM314.4 467.3h1.4v1.4h-1.4zM322.1 472.3h1.4v1.4h-1.4zM311.5 462.0h1.4v1.4h-1.4zM331.1 465.7h1.4v1.4h-1.4zM311.3 461.1h1.4v1.4h-1.4zM320.3 467.9h1.4v1.4h-1.4zM313.0 464.4h1.4v1.4h-1.4zM323.3 461.9h1.4v1.4h-1.4zM304.0 472.2h1.4v1.4h-1.4zM305.1 480.4h1.4v1.4h-1.4zM316.2 457.5h1.4v1.4h-1.4zM308.3 466.8h1.4v1.4h-1.4zM305.6 464.8h1.4v1.4h-1.4zM319.1 470.4h1.4v1.4h-1.4zM314.0 466.6h1.4v1.4h-1.4zM294.0 467.6h1.4v1.4h-1.4zM315.8 469.8h1.4v1.4h-1.4zM310.5 470.3h1.4v1.4h-1.4zM305.7 468.0h1.4v1.4h-1.4zM320.7 468.3h1.4v1.4h-1.4zM318.8 466.6h1.4v1.4h-1.4zM325.7 467.6h1.4v1.4h-1.4zM308.6 462.7h1.4v1.4h-1.4zM307.5 471.0h1.4v1.4h-1.4zM334.8 465.1h1.4v1.4h-1.4zM319.5 460.8h1.4v1.4h-1.4zM323.5 480.2h1.4v1.4h-1.4zM308.8 474.9h1.4v1.4h-1.4zM310.7 468.4h1.4v1.4h-1.4zM319.3 462.3h1.4v1.4h-1.4zM290.5 471.5h1.4v1.4h-1.4zM303.7 469.0h1.4v1.4h-1.4zM316.5 467.8h1.4v1.4h-1.4zM297.5 464.6h1.4v1.4h-1.4zM317.8 460.1h1.4v1.4h-1.4zM313.4 472.6h1.4v1.4h-1.4zM298.7 464.2h1.4v1.4h-1.4zM315.7 475.2h1.4v1.4h-1.4zM313.5 465.8h1.4v1.4h-1.4zM311.0 460.4h1.4v1.4h-1.4zM316.9 461.4h1.4v1.4h-1.4zM303.1 477.1h1.4v1.4h-1.4zM309.4 468.6h1.4v1.4h-1.4zM316.0 461.0h1.4v1.4h-1.4zM316.8 471.6h1.4v1.4h-1.4zM315.6 468.3h1.4v1.4h-1.4zM334.5 457.9h1.4v1.4h-1.4zM308.8 462.5h1.4v1.4h-1.4zM306.9 461.0h1.4v1.4h-1.4zM318.3 465.4h1.4v1.4h-1.4zM312.3 469.2h1.4v1.4h-1.4zM322.3 471.2h1.4v1.4h-1.4zM313.8 473.7h1.4v1.4h-1.4zM328.2 467.3h1.4v1.4h-1.4zM306.6 461.6h1.4v1.4h-1.4zM310.8 464.6h1.4v1.4h-1.4zM321.0 467.1h1.4v1.4h-1.4zM313.8 465.3h1.4v1.4h-1.4zM320.9 465.2h1.4v1.4h-1.4zM319.2 463.0h1.4v1.4h-1.4zM320.6 464.7h1.4v1.4h-1.4zM305.3 473.5h1.4v1.4h-1.4zM321.4 466.9h1.4v1.4h-1.4zM312.8 460.1h1.4v1.4h-1.4zM316.0 463.8h1.4v1.4h-1.4zM306.2 463.2h1.4v1.4h-1.4zM316.2 458.3h1.4v1.4h-1.4zM321.8 469.0h1.4v1.4h-1.4zM317.2 465.5h1.4v1.4h-1.4zM321.2 476.0h1.4v1.4h-1.4zM316.5 469.0h1.4v1.4h-1.4zM313.5 469.1h1.4v1.4h-1.4zM317.7 463.2h1.4v1.4h-1.4zM312.3 463.6h1.4v1.4h-1.4zM314.5 470.0h1.4v1.4h-1.4zM317.6 463.2h1.4v1.4h-1.4zM324.0 471.2h1.4v1.4h-1.4zM329.2 467.1h1.4v1.4h-1.4zM324.6 468.3h1.4v1.4h-1.4zM315.6 467.1h1.4v1.4h-1.4zM307.5 464.1h1.4v1.4h-1.4zM318.7 471.1h1.4v1.4h-1.4z"/>
<path fill="#c83a5a" d="M299.3 489.4h1.3v1.3h-1.3zM306.2 488.9h1.3v1.3h-1.3zM315.7 486.9h1.3v1.3h-1.3zM301.9 488.0h1.3v1.3h-1.3zM300.9 488.0h1.3v1.3h-1.3zM290.1 488.7h1.3v1.3h-1.3zM319.5 488.7h1.3v1.3h-1.3zM327.0 486.0h1.3v1.3h-1.3zM296.0 487.6h1.3v1.3h-1.3zM320.3 485.5h1.3v1.3h-1.3zM329.8 486.0h1.3v1.3h-1.3zM328.2 487.2h1.3v1.3h-1.3zM319.3 486.0h1.3v1.3h-1.3zM298.8 487.0h1.3v1.3h-1.3zM289.5 490.0h1.3v1.3h-1.3zM298.9 490.6h1.3v1.3h-1.3zM313.1 485.8h1.3v1.3h-1.3zM324.1 485.8h1.3v1.3h-1.3zM322.8 483.3h1.3v1.3h-1.3zM306.4 492.6h1.3v1.3h-1.3zM312.7 485.7h1.3v1.3h-1.3zM302.3 486.3h1.3v1.3h-1.3zM286.0 490.4h1.3v1.3h-1.3zM299.6 488.1h1.3v1.3h-1.3zM320.6 488.3h1.3v1.3h-1.3zM317.0 485.7h1.3v1.3h-1.3zM309.1 488.1h1.3v1.3h-1.3zM308.1 488.4h1.3v1.3h-1.3zM336.0 486.6h1.3v1.3h-1.3zM313.7 490.9h1.3v1.3h-1.3zM304.3 488.3h1.3v1.3h-1.3zM290.7 488.0h1.3v1.3h-1.3zM300.2 489.5h1.3v1.3h-1.3zM312.4 486.3h1.3v1.3h-1.3zM301.5 490.3h1.3v1.3h-1.3zM313.6 488.1h1.3v1.3h-1.3zM301.8 488.8h1.3v1.3h-1.3zM340.2 482.4h1.3v1.3h-1.3zM302.4 485.7h1.3v1.3h-1.3zM318.5 486.0h1.3v1.3h-1.3zM298.6 488.8h1.3v1.3h-1.3zM310.8 484.0h1.3v1.3h-1.3zM318.1 486.2h1.3v1.3h-1.3zM310.1 488.2h1.3v1.3h-1.3zM286.8 488.8h1.3v1.3h-1.3zM325.2 488.2h1.3v1.3h-1.3zM315.7 487.8h1.3v1.3h-1.3zM296.4 491.9h1.3v1.3h-1.3zM301.3 487.3h1.3v1.3h-1.3zM314.6 488.3h1.3v1.3h-1.3zM296.6 484.0h1.3v1.3h-1.3zM314.1 486.0h1.3v1.3h-1.3zM291.3 491.2h1.3v1.3h-1.3zM307.7 487.3h1.3v1.3h-1.3zM316.0 486.4h1.3v1.3h-1.3zM300.9 486.4h1.3v1.3h-1.3zM308.1 491.1h1.3v1.3h-1.3zM311.0 490.1h1.3v1.3h-1.3zM323.7 486.6h1.3v1.3h-1.3zM320.8 487.5h1.3v1.3h-1.3z"/>
<path fill="#2b2b2b" d="M276.6 409.2h1.6v1.6h-1.6zM293.6 410.2h1.6v1.6h-1.6zM274.2 426.2h1.6v1.6h-1.6zM285.2 429.7h1.6v1.6h-1.6zM304.5 434.6h1.6v1.6h-1.6zM336.0 389.7h1.6v1.6h-1.6zM331.2 395.8h1.6v1.6h-1.6zM328.7 438.2h1.6v1.6h-1.6zM269.2 449.2h1.6v1.6h-1.6zM279.2 444.2h1.6v1.6h-1.6z"/>
<path d="M447.5 484.6C447.4 486.9 446.2 488.2 448.5 489C450.8 489.8 457.2 490.0 461 489.5C464.8 489.0 469.4 487.8 471.5 485.8C473.6 483.8 473.7 480.8 473.5 477.7C473.3 474.6 472.5 469.9 470.4 467.3C468.3 464.7 463.8 462.4 461.1 462C458.5 461.6 456.5 462.8 454.5 465C452.5 467.2 450.2 472.1 449 475.4C447.8 478.7 447.6 482.3 447.5 484.6Z" fill="#1494f8"/>
<path fill="#2b2b2b" d="M421.2 465.2h1.5v1.5h-1.5zM423.5 479.1h1.5v1.5h-1.5zM427.4 443.3h1.5v1.5h-1.5zM409.6 484.0h1.5v1.5h-1.5zM433.8 496.1h1.5v1.5h-1.5zM428.4 446.2h1.5v1.5h-1.5zM421.3 458.2h1.5v1.5h-1.5zM435.4 474.3h1.5v1.5h-1.5zM410.9 474.7h1.5v1.5h-1.5zM432.8 444.7h1.5v1.5h-1.5zM417.1 463.3h1.5v1.5h-1.5zM411.6 478.2h1.5v1.5h-1.5zM434.3 443.5h1.5v1.5h-1.5zM420.8 489.9h1.5v1.5h-1.5zM436.5 459.5h1.5v1.5h-1.5zM410.2 450.9h1.5v1.5h-1.5zM430.3 460.5h1.5v1.5h-1.5zM414.8 443.8h1.5v1.5h-1.5zM415.4 452.6h1.5v1.5h-1.5zM433.3 446.9h1.5v1.5h-1.5zM432.4 444.6h1.5v1.5h-1.5zM441.0 460.4h1.5v1.5h-1.5zM427.6 472.4h1.5v1.5h-1.5zM417.7 489.6h1.5v1.5h-1.5zM442.5 447.9h1.5v1.5h-1.5zM410.5 444.4h1.5v1.5h-1.5zM409.9 441.0h1.5v1.5h-1.5zM412.7 491.9h1.5v1.5h-1.5zM426.8 446.6h1.5v1.5h-1.5zM418.8 465.5h1.5v1.5h-1.5zM422.1 447.4h1.5v1.5h-1.5zM430.0 466.6h1.5v1.5h-1.5zM417.9 449.4h1.5v1.5h-1.5zM410.2 474.2h1.5v1.5h-1.5zM434.6 468.0h1.5v1.5h-1.5zM446.7 455.4h1.5v1.5h-1.5zM426.7 457.9h1.5v1.5h-1.5zM435.7 491.3h1.5v1.5h-1.5zM410.5 493.0h1.5v1.5h-1.5zM411.5 461.7h1.5v1.5h-1.5zM446.5 450.8h1.5v1.5h-1.5zM415.0 469.1h1.5v1.5h-1.5zM423.9 441.0h1.5v1.5h-1.5zM425.8 481.5h1.5v1.5h-1.5zM440.8 463.6h1.5v1.5h-1.5zM445.9 475.6h1.5v1.5h-1.5zM425.7 489.0h1.5v1.5h-1.5zM439.5 442.6h1.5v1.5h-1.5zM430.6 484.2h1.5v1.5h-1.5zM441.8 476.5h1.5v1.5h-1.5zM442.3 476.2h1.5v1.5h-1.5zM414.9 490.8h1.5v1.5h-1.5zM433.2 461.1h1.5v1.5h-1.5zM416.6 470.2h1.5v1.5h-1.5zM442.7 448.5h1.5v1.5h-1.5zM415.8 458.5h1.5v1.5h-1.5zM418.4 487.8h1.5v1.5h-1.5zM436.0 444.3h1.5v1.5h-1.5zM440.2 465.9h1.5v1.5h-1.5zM443.6 464.8h1.5v1.5h-1.5zM438.8 473.1h1.5v1.5h-1.5zM414.9 454.5h1.5v1.5h-1.5zM433.3 478.3h1.5v1.5h-1.5zM435.4 455.6h1.5v1.5h-1.5zM445.0 465.7h1.5v1.5h-1.5zM442.2 391.7h1.5v1.5h-1.5zM498.7 400.5h1.5v1.5h-1.5zM468.3 384.4h1.5v1.5h-1.5zM456.0 445.5h1.5v1.5h-1.5zM496.0 415.0h1.5v1.5h-1.5zM488.3 420.8h1.5v1.5h-1.5zM422.0 408.5h1.5v1.5h-1.5zM481.4 432.8h1.5v1.5h-1.5zM434.8 414.4h1.5v1.5h-1.5zM465.9 387.8h1.5v1.5h-1.5zM412.7 448.3h1.5v1.5h-1.5zM427.7 403.2h1.5v1.5h-1.5zM450.6 411.9h1.5v1.5h-1.5zM500.2 447.3h1.5v1.5h-1.5zM466.6 403.3h1.5v1.5h-1.5zM424.7 442.8h1.5v1.5h-1.5zM456.6 423.6h1.5v1.5h-1.5zM413.6 418.4h1.5v1.5h-1.5zM448.7 428.3h1.5v1.5h-1.5zM461.0 451.1h1.5v1.5h-1.5zM410.9 451.2h1.5v1.5h-1.5z"/>
<path fill="#7a3a4c" d="M442.0 465.3h1.4v1.4h-1.4zM433.0 476.5h1.4v1.4h-1.4zM439.5 484.9h1.4v1.4h-1.4zM435.5 481.8h1.4v1.4h-1.4zM433.8 486.0h1.4v1.4h-1.4zM440.8 482.0h1.4v1.4h-1.4zM438.7 470.5h1.4v1.4h-1.4zM432.0 477.6h1.4v1.4h-1.4zM440.5 474.1h1.4v1.4h-1.4zM430.8 467.9h1.4v1.4h-1.4zM439.7 493.8h1.4v1.4h-1.4zM436.7 463.2h1.4v1.4h-1.4zM448.4 460.2h1.4v1.4h-1.4zM439.8 467.6h1.4v1.4h-1.4zM447.9 483.6h1.4v1.4h-1.4zM440.2 468.9h1.4v1.4h-1.4zM435.3 475.3h1.4v1.4h-1.4zM440.9 465.7h1.4v1.4h-1.4zM429.9 484.8h1.4v1.4h-1.4zM431.2 476.1h1.4v1.4h-1.4zM436.7 473.7h1.4v1.4h-1.4zM444.9 486.9h1.4v1.4h-1.4zM441.9 464.7h1.4v1.4h-1.4zM430.4 487.4h1.4v1.4h-1.4zM427.0 481.4h1.4v1.4h-1.4zM438.6 461.1h1.4v1.4h-1.4zM429.3 471.3h1.4v1.4h-1.4zM431.5 477.9h1.4v1.4h-1.4zM433.9 462.5h1.4v1.4h-1.4zM432.2 464.7h1.4v1.4h-1.4zM432.8 487.0h1.4v1.4h-1.4zM441.9 489.1h1.4v1.4h-1.4zM433.8 479.1h1.4v1.4h-1.4zM437.2 474.4h1.4v1.4h-1.4zM439.3 463.5h1.4v1.4h-1.4zM439.5 480.8h1.4v1.4h-1.4zM436.6 468.2h1.4v1.4h-1.4zM433.3 473.7h1.4v1.4h-1.4zM436.7 474.6h1.4v1.4h-1.4zM429.7 481.7h1.4v1.4h-1.4zM436.6 478.8h1.4v1.4h-1.4zM443.3 451.9h1.4v1.4h-1.4zM440.0 467.4h1.4v1.4h-1.4zM422.1 482.9h1.4v1.4h-1.4zM439.8 486.1h1.4v1.4h-1.4zM439.8 481.0h1.4v1.4h-1.4zM435.3 483.3h1.4v1.4h-1.4zM440.5 462.6h1.4v1.4h-1.4zM440.3 472.8h1.4v1.4h-1.4zM436.3 474.4h1.4v1.4h-1.4zM435.8 482.6h1.4v1.4h-1.4zM431.2 474.5h1.4v1.4h-1.4zM442.2 468.4h1.4v1.4h-1.4zM426.0 482.9h1.4v1.4h-1.4zM438.9 474.1h1.4v1.4h-1.4zM435.2 479.6h1.4v1.4h-1.4zM437.3 457.4h1.4v1.4h-1.4zM434.9 474.6h1.4v1.4h-1.4zM436.7 478.9h1.4v1.4h-1.4zM432.7 487.8h1.4v1.4h-1.4zM432.4 474.4h1.4v1.4h-1.4zM445.3 457.9h1.4v1.4h-1.4zM435.4 460.9h1.4v1.4h-1.4zM443.8 484.5h1.4v1.4h-1.4zM440.9 483.4h1.4v1.4h-1.4zM438.0 471.5h1.4v1.4h-1.4zM438.6 465.1h1.4v1.4h-1.4zM436.9 484.0h1.4v1.4h-1.4zM441.8 468.3h1.4v1.4h-1.4zM436.6 472.8h1.4v1.4h-1.4zM435.2 458.8h1.4v1.4h-1.4zM440.4 447.5h1.4v1.4h-1.4zM437.0 475.4h1.4v1.4h-1.4zM439.7 491.2h1.4v1.4h-1.4zM433.9 470.2h1.4v1.4h-1.4zM436.8 461.0h1.4v1.4h-1.4zM441.8 486.3h1.4v1.4h-1.4zM441.8 463.4h1.4v1.4h-1.4zM431.7 452.4h1.4v1.4h-1.4zM436.5 468.1h1.4v1.4h-1.4zM431.8 476.2h1.4v1.4h-1.4zM440.9 464.9h1.4v1.4h-1.4zM432.4 473.0h1.4v1.4h-1.4zM428.1 473.2h1.4v1.4h-1.4zM431.3 473.6h1.4v1.4h-1.4zM431.1 487.9h1.4v1.4h-1.4zM448.7 474.9h1.4v1.4h-1.4zM434.1 478.6h1.4v1.4h-1.4zM440.7 486.3h1.4v1.4h-1.4z"/>
<path fill="#c83a5a" d="M442.8 482.2h1.4v1.4h-1.4zM448.1 476.7h1.4v1.4h-1.4zM441.6 479.9h1.4v1.4h-1.4zM444.5 477.8h1.4v1.4h-1.4zM443.9 472.7h1.4v1.4h-1.4zM448.7 481.4h1.4v1.4h-1.4zM448.2 471.1h1.4v1.4h-1.4zM441.2 479.9h1.4v1.4h-1.4zM439.9 480.6h1.4v1.4h-1.4zM439.3 484.1h1.4v1.4h-1.4zM440.0 470.4h1.4v1.4h-1.4zM441.3 496.6h1.4v1.4h-1.4zM444.0 479.3h1.4v1.4h-1.4zM440.5 468.1h1.4v1.4h-1.4zM452.4 464.0h1.4v1.4h-1.4zM449.7 478.1h1.4v1.4h-1.4zM453.5 476.6h1.4v1.4h-1.4zM446.5 482.5h1.4v1.4h-1.4zM447.4 464.7h1.4v1.4h-1.4zM443.4 476.8h1.4v1.4h-1.4zM449.6 480.7h1.4v1.4h-1.4zM446.9 485.0h1.4v1.4h-1.4zM444.0 463.0h1.4v1.4h-1.4zM446.2 472.1h1.4v1.4h-1.4zM452.7 470.6h1.4v1.4h-1.4zM451.7 476.0h1.4v1.4h-1.4zM444.6 474.6h1.4v1.4h-1.4zM435.9 477.7h1.4v1.4h-1.4zM431.7 469.5h1.4v1.4h-1.4zM444.2 480.3h1.4v1.4h-1.4zM444.2 464.4h1.4v1.4h-1.4zM444.2 476.4h1.4v1.4h-1.4zM446.2 494.0h1.4v1.4h-1.4zM446.8 468.5h1.4v1.4h-1.4zM440.9 491.3h1.4v1.4h-1.4zM441.8 487.5h1.4v1.4h-1.4zM451.6 472.9h1.4v1.4h-1.4zM454.4 480.7h1.4v1.4h-1.4zM445.3 481.6h1.4v1.4h-1.4zM445.3 468.9h1.4v1.4h-1.4zM448.5 459.7h1.4v1.4h-1.4zM446.3 474.5h1.4v1.4h-1.4zM445.0 466.0h1.4v1.4h-1.4zM444.7 481.2h1.4v1.4h-1.4zM451.3 462.8h1.4v1.4h-1.4zM441.7 493.6h1.4v1.4h-1.4zM447.2 496.2h1.4v1.4h-1.4zM439.7 470.6h1.4v1.4h-1.4zM447.3 460.1h1.4v1.4h-1.4zM446.3 479.3h1.4v1.4h-1.4zM444.4 472.4h1.4v1.4h-1.4zM446.4 475.8h1.4v1.4h-1.4zM437.2 463.7h1.4v1.4h-1.4zM441.3 464.7h1.4v1.4h-1.4zM442.9 480.9h1.4v1.4h-1.4zM445.2 465.7h1.4v1.4h-1.4zM444.7 460.1h1.4v1.4h-1.4zM441.7 480.7h1.4v1.4h-1.4zM445.1 481.4h1.4v1.4h-1.4zM446.4 473.9h1.4v1.4h-1.4zM455.9 467.9h1.4v1.4h-1.4zM445.6 489.9h1.4v1.4h-1.4zM446.4 473.5h1.4v1.4h-1.4zM446.2 482.0h1.4v1.4h-1.4zM443.5 465.5h1.4v1.4h-1.4zM443.0 465.2h1.4v1.4h-1.4zM448.3 478.2h1.4v1.4h-1.4zM443.7 489.0h1.4v1.4h-1.4zM442.7 468.1h1.4v1.4h-1.4zM444.8 471.7h1.4v1.4h-1.4zM452.0 473.3h1.4v1.4h-1.4zM439.8 488.0h1.4v1.4h-1.4zM443.2 476.3h1.4v1.4h-1.4zM446.2 479.8h1.4v1.4h-1.4zM447.5 484.1h1.4v1.4h-1.4zM452.3 482.5h1.4v1.4h-1.4zM453.8 490.2h1.4v1.4h-1.4zM442.2 465.9h1.4v1.4h-1.4zM448.4 479.1h1.4v1.4h-1.4zM453.5 479.7h1.4v1.4h-1.4zM450.2 466.6h1.4v1.4h-1.4zM441.3 477.8h1.4v1.4h-1.4zM442.4 478.8h1.4v1.4h-1.4zM445.5 473.6h1.4v1.4h-1.4zM448.8 471.2h1.4v1.4h-1.4zM440.6 487.0h1.4v1.4h-1.4zM448.8 478.9h1.4v1.4h-1.4zM442.3 476.2h1.4v1.4h-1.4zM447.9 478.9h1.4v1.4h-1.4zM448.3 472.7h1.4v1.4h-1.4zM447.1 478.7h1.4v1.4h-1.4zM449.6 480.8h1.4v1.4h-1.4zM445.0 469.8h1.4v1.4h-1.4zM446.0 476.1h1.4v1.4h-1.4zM450.8 476.2h1.4v1.4h-1.4zM442.6 478.1h1.4v1.4h-1.4zM442.3 473.5h1.4v1.4h-1.4zM438.9 476.7h1.4v1.4h-1.4zM452.6 472.9h1.4v1.4h-1.4zM441.7 469.5h1.4v1.4h-1.4zM449.1 472.4h1.4v1.4h-1.4zM445.4 463.7h1.4v1.4h-1.4zM447.0 481.7h1.4v1.4h-1.4zM443.3 479.6h1.4v1.4h-1.4zM444.4 469.5h1.4v1.4h-1.4zM449.3 469.0h1.4v1.4h-1.4zM445.4 469.5h1.4v1.4h-1.4zM440.5 466.8h1.4v1.4h-1.4zM444.2 467.4h1.4v1.4h-1.4zM438.8 480.9h1.4v1.4h-1.4zM447.1 474.1h1.4v1.4h-1.4zM448.7 483.9h1.4v1.4h-1.4zM445.8 480.7h1.4v1.4h-1.4zM451.4 480.1h1.4v1.4h-1.4zM451.6 465.9h1.4v1.4h-1.4zM444.0 491.1h1.4v1.4h-1.4zM449.4 475.2h1.4v1.4h-1.4zM443.6 457.8h1.4v1.4h-1.4zM445.4 474.6h1.4v1.4h-1.4zM443.6 473.6h1.4v1.4h-1.4zM445.1 481.2h1.4v1.4h-1.4zM439.4 468.2h1.4v1.4h-1.4zM443.9 477.7h1.4v1.4h-1.4zM439.1 473.5h1.4v1.4h-1.4zM451.5 486.5h1.4v1.4h-1.4zM442.5 474.1h1.4v1.4h-1.4zM444.4 480.6h1.4v1.4h-1.4zM437.9 484.8h1.4v1.4h-1.4zM441.6 469.9h1.4v1.4h-1.4zM447.0 479.1h1.4v1.4h-1.4zM435.6 476.7h1.4v1.4h-1.4zM446.2 489.8h1.4v1.4h-1.4zM442.6 481.6h1.4v1.4h-1.4zM454.2 470.7h1.4v1.4h-1.4zM447.8 491.9h1.4v1.4h-1.4zM448.8 472.3h1.4v1.4h-1.4zM446.3 476.4h1.4v1.4h-1.4zM449.5 477.7h1.4v1.4h-1.4zM439.9 481.5h1.4v1.4h-1.4zM452.4 471.2h1.4v1.4h-1.4zM448.5 474.8h1.4v1.4h-1.4zM438.0 473.7h1.4v1.4h-1.4zM446.7 478.4h1.4v1.4h-1.4zM445.2 470.1h1.4v1.4h-1.4zM451.7 473.2h1.4v1.4h-1.4zM443.9 465.3h1.4v1.4h-1.4zM445.4 490.9h1.4v1.4h-1.4zM447.1 481.0h1.4v1.4h-1.4zM444.3 487.0h1.4v1.4h-1.4zM452.7 470.9h1.4v1.4h-1.4zM447.3 462.3h1.4v1.4h-1.4zM442.3 463.4h1.4v1.4h-1.4zM446.2 466.4h1.4v1.4h-1.4zM444.3 481.0h1.4v1.4h-1.4zM452.6 473.5h1.4v1.4h-1.4zM440.4 472.3h1.4v1.4h-1.4zM437.2 466.4h1.4v1.4h-1.4zM454.6 490.4h1.4v1.4h-1.4zM445.2 465.5h1.4v1.4h-1.4zM450.4 474.9h1.4v1.4h-1.4zM445.4 474.4h1.4v1.4h-1.4zM443.2 475.5h1.4v1.4h-1.4zM447.8 475.4h1.4v1.4h-1.4zM445.8 479.7h1.4v1.4h-1.4zM442.6 498.5h1.4v1.4h-1.4zM436.9 486.1h1.4v1.4h-1.4zM446.8 479.4h1.4v1.4h-1.4zM451.5 468.2h1.4v1.4h-1.4zM450.5 489.3h1.4v1.4h-1.4zM439.3 489.8h1.4v1.4h-1.4zM451.6 472.2h1.4v1.4h-1.4zM439.3 481.5h1.4v1.4h-1.4zM443.2 457.8h1.4v1.4h-1.4zM445.8 468.5h1.4v1.4h-1.4zM445.7 486.2h1.4v1.4h-1.4zM441.8 462.8h1.4v1.4h-1.4zM444.0 482.4h1.4v1.4h-1.4zM446.0 486.2h1.4v1.4h-1.4zM446.0 465.2h1.4v1.4h-1.4zM448.6 476.0h1.4v1.4h-1.4zM449.6 489.5h1.4v1.4h-1.4zM446.1 497.0h1.4v1.4h-1.4zM442.4 477.8h1.4v1.4h-1.4zM448.8 489.8h1.4v1.4h-1.4zM445.4 470.5h1.4v1.4h-1.4zM442.0 471.8h1.4v1.4h-1.4zM434.9 481.1h1.4v1.4h-1.4zM446.3 483.7h1.4v1.4h-1.4zM448.4 479.1h1.4v1.4h-1.4zM450.1 487.1h1.4v1.4h-1.4zM441.1 484.7h1.4v1.4h-1.4zM445.1 489.0h1.4v1.4h-1.4zM437.7 484.5h1.4v1.4h-1.4zM446.1 478.7h1.4v1.4h-1.4zM446.5 479.6h1.4v1.4h-1.4zM441.6 477.7h1.4v1.4h-1.4zM447.6 479.8h1.4v1.4h-1.4zM449.7 487.8h1.4v1.4h-1.4zM449.9 487.0h1.4v1.4h-1.4zM441.4 489.9h1.4v1.4h-1.4zM445.5 486.4h1.4v1.4h-1.4zM450.0 486.2h1.4v1.4h-1.4zM444.6 472.0h1.4v1.4h-1.4zM443.7 475.8h1.4v1.4h-1.4zM444.3 474.9h1.4v1.4h-1.4zM449.4 472.5h1.4v1.4h-1.4zM444.4 458.2h1.4v1.4h-1.4zM437.1 484.2h1.4v1.4h-1.4zM448.4 469.5h1.4v1.4h-1.4zM458.1 472.0h1.4v1.4h-1.4zM447.5 472.1h1.4v1.4h-1.4zM451.6 491.1h1.4v1.4h-1.4zM447.0 481.6h1.4v1.4h-1.4zM444.6 490.4h1.4v1.4h-1.4zM441.0 477.9h1.4v1.4h-1.4zM447.8 484.6h1.4v1.4h-1.4zM445.5 484.7h1.4v1.4h-1.4zM449.6 476.8h1.4v1.4h-1.4zM446.3 479.3h1.4v1.4h-1.4zM448.5 463.9h1.4v1.4h-1.4zM436.5 469.1h1.4v1.4h-1.4zM447.0 478.6h1.4v1.4h-1.4zM448.3 458.7h1.4v1.4h-1.4zM447.0 479.7h1.4v1.4h-1.4zM451.5 479.1h1.4v1.4h-1.4zM445.2 472.1h1.4v1.4h-1.4zM448.4 484.0h1.4v1.4h-1.4zM436.8 481.5h1.4v1.4h-1.4zM448.9 486.9h1.4v1.4h-1.4zM448.7 479.2h1.4v1.4h-1.4zM441.5 482.6h1.4v1.4h-1.4zM435.6 480.1h1.4v1.4h-1.4zM440.9 466.4h1.4v1.4h-1.4zM445.0 477.3h1.4v1.4h-1.4zM452.4 476.2h1.4v1.4h-1.4zM439.9 478.2h1.4v1.4h-1.4zM447.1 477.6h1.4v1.4h-1.4zM447.9 484.0h1.4v1.4h-1.4zM447.5 476.8h1.4v1.4h-1.4zM442.1 471.3h1.4v1.4h-1.4zM448.0 481.8h1.4v1.4h-1.4zM439.0 460.1h1.4v1.4h-1.4zM436.4 465.4h1.4v1.4h-1.4zM444.6 487.0h1.4v1.4h-1.4zM441.1 465.1h1.4v1.4h-1.4zM434.9 479.3h1.4v1.4h-1.4zM450.9 468.2h1.4v1.4h-1.4zM448.4 482.4h1.4v1.4h-1.4zM447.7 479.8h1.4v1.4h-1.4zM440.8 485.4h1.4v1.4h-1.4zM441.9 481.5h1.4v1.4h-1.4zM437.9 486.7h1.4v1.4h-1.4zM444.9 469.5h1.4v1.4h-1.4zM443.8 489.4h1.4v1.4h-1.4zM444.8 473.4h1.4v1.4h-1.4zM451.5 483.7h1.4v1.4h-1.4zM442.7 475.6h1.4v1.4h-1.4zM444.2 486.3h1.4v1.4h-1.4zM438.3 480.6h1.4v1.4h-1.4zM452.0 478.9h1.4v1.4h-1.4zM450.5 482.1h1.4v1.4h-1.4zM434.7 476.9h1.4v1.4h-1.4zM435.1 477.2h1.4v1.4h-1.4zM452.6 488.8h1.4v1.4h-1.4zM453.8 482.0h1.4v1.4h-1.4zM448.3 478.1h1.4v1.4h-1.4zM451.5 474.1h1.4v1.4h-1.4zM439.2 487.1h1.4v1.4h-1.4zM445.4 470.8h1.4v1.4h-1.4zM448.9 476.7h1.4v1.4h-1.4zM444.3 467.8h1.4v1.4h-1.4zM440.8 472.3h1.4v1.4h-1.4zM444.4 476.0h1.4v1.4h-1.4zM441.2 480.1h1.4v1.4h-1.4zM453.7 476.8h1.4v1.4h-1.4zM443.4 484.9h1.4v1.4h-1.4zM442.0 462.4h1.4v1.4h-1.4zM436.5 494.2h1.4v1.4h-1.4zM451.7 482.0h1.4v1.4h-1.4zM444.3 481.3h1.4v1.4h-1.4z"/>
<path fill="#3a74d0" d="M464.9 482.8h1.3v1.3h-1.3zM478.0 468.2h1.3v1.3h-1.3zM463.2 473.7h1.3v1.3h-1.3zM468.7 469.5h1.3v1.3h-1.3zM469.3 462.2h1.3v1.3h-1.3zM473.8 467.2h1.3v1.3h-1.3zM476.8 479.5h1.3v1.3h-1.3zM460.1 465.4h1.3v1.3h-1.3zM457.3 468.9h1.3v1.3h-1.3zM481.3 466.7h1.3v1.3h-1.3zM474.1 459.3h1.3v1.3h-1.3zM475.7 472.4h1.3v1.3h-1.3zM470.3 456.4h1.3v1.3h-1.3zM474.3 468.8h1.3v1.3h-1.3zM450.5 463.6h1.3v1.3h-1.3zM468.7 464.4h1.3v1.3h-1.3zM476.9 462.3h1.3v1.3h-1.3zM475.5 487.1h1.3v1.3h-1.3zM474.5 460.7h1.3v1.3h-1.3zM475.1 473.7h1.3v1.3h-1.3zM466.4 471.1h1.3v1.3h-1.3zM461.1 463.0h1.3v1.3h-1.3zM470.2 474.2h1.3v1.3h-1.3zM478.3 464.2h1.3v1.3h-1.3zM452.2 458.1h1.3v1.3h-1.3zM473.7 451.2h1.3v1.3h-1.3zM453.1 472.4h1.3v1.3h-1.3zM487.0 463.5h1.3v1.3h-1.3zM464.7 454.9h1.3v1.3h-1.3zM470.9 466.9h1.3v1.3h-1.3zM464.7 465.3h1.3v1.3h-1.3zM478.8 468.1h1.3v1.3h-1.3zM461.8 462.8h1.3v1.3h-1.3zM481.7 463.9h1.3v1.3h-1.3zM488.2 460.5h1.3v1.3h-1.3zM471.0 470.8h1.3v1.3h-1.3zM464.4 476.6h1.3v1.3h-1.3zM480.7 480.3h1.3v1.3h-1.3zM460.2 456.6h1.3v1.3h-1.3zM467.3 469.2h1.3v1.3h-1.3zM469.6 458.9h1.3v1.3h-1.3zM476.5 455.0h1.3v1.3h-1.3zM456.3 455.2h1.3v1.3h-1.3zM474.5 460.1h1.3v1.3h-1.3zM474.0 465.2h1.3v1.3h-1.3zM468.0 464.3h1.3v1.3h-1.3zM475.9 466.0h1.3v1.3h-1.3zM470.6 467.1h1.3v1.3h-1.3zM467.2 470.2h1.3v1.3h-1.3zM452.2 470.8h1.3v1.3h-1.3zM448.7 473.9h1.3v1.3h-1.3zM470.1 467.0h1.3v1.3h-1.3zM474.3 460.5h1.3v1.3h-1.3zM457.7 457.8h1.3v1.3h-1.3zM463.5 455.0h1.3v1.3h-1.3zM483.6 465.2h1.3v1.3h-1.3zM474.3 455.9h1.3v1.3h-1.3zM455.3 475.1h1.3v1.3h-1.3zM473.6 460.1h1.3v1.3h-1.3zM464.8 460.0h1.3v1.3h-1.3zM472.7 462.1h1.3v1.3h-1.3zM469.7 466.2h1.3v1.3h-1.3zM463.9 480.6h1.3v1.3h-1.3zM485.5 457.3h1.3v1.3h-1.3zM445.0 467.3h1.3v1.3h-1.3zM459.8 470.6h1.3v1.3h-1.3zM480.2 470.2h1.3v1.3h-1.3zM466.8 464.9h1.3v1.3h-1.3zM469.3 460.9h1.3v1.3h-1.3zM460.1 472.0h1.3v1.3h-1.3zM475.1 466.3h1.3v1.3h-1.3zM461.9 471.0h1.3v1.3h-1.3zM454.2 458.4h1.3v1.3h-1.3zM458.2 473.8h1.3v1.3h-1.3zM477.0 464.1h1.3v1.3h-1.3zM468.6 474.6h1.3v1.3h-1.3zM472.8 462.8h1.3v1.3h-1.3zM471.3 468.6h1.3v1.3h-1.3zM464.9 464.8h1.3v1.3h-1.3zM461.1 485.3h1.3v1.3h-1.3zM466.6 454.4h1.3v1.3h-1.3zM470.6 457.4h1.3v1.3h-1.3zM455.4 462.8h1.3v1.3h-1.3zM455.6 444.9h1.3v1.3h-1.3zM458.3 464.1h1.3v1.3h-1.3zM452.1 483.4h1.3v1.3h-1.3zM471.1 471.1h1.3v1.3h-1.3zM474.3 473.0h1.3v1.3h-1.3zM466.0 465.5h1.3v1.3h-1.3zM467.8 460.8h1.3v1.3h-1.3zM468.2 464.6h1.3v1.3h-1.3zM475.0 453.6h1.3v1.3h-1.3zM470.8 451.2h1.3v1.3h-1.3zM477.6 472.4h1.3v1.3h-1.3zM460.4 467.9h1.3v1.3h-1.3zM474.2 475.6h1.3v1.3h-1.3zM464.1 455.8h1.3v1.3h-1.3zM457.8 469.6h1.3v1.3h-1.3zM468.1 453.8h1.3v1.3h-1.3zM455.8 482.1h1.3v1.3h-1.3zM457.6 469.7h1.3v1.3h-1.3zM474.4 456.0h1.3v1.3h-1.3zM471.0 457.2h1.3v1.3h-1.3zM453.5 480.3h1.3v1.3h-1.3zM468.2 457.3h1.3v1.3h-1.3zM467.7 464.3h1.3v1.3h-1.3zM464.7 467.0h1.3v1.3h-1.3zM455.1 461.3h1.3v1.3h-1.3zM467.5 478.5h1.3v1.3h-1.3zM477.2 478.6h1.3v1.3h-1.3zM481.8 458.0h1.3v1.3h-1.3zM475.1 465.8h1.3v1.3h-1.3zM461.1 474.0h1.3v1.3h-1.3zM474.6 469.5h1.3v1.3h-1.3zM487.0 467.1h1.3v1.3h-1.3zM463.3 458.2h1.3v1.3h-1.3zM456.3 469.7h1.3v1.3h-1.3zM473.9 453.3h1.3v1.3h-1.3zM461.8 467.1h1.3v1.3h-1.3zM468.8 470.3h1.3v1.3h-1.3zM472.0 472.1h1.3v1.3h-1.3zM461.4 451.1h1.3v1.3h-1.3zM467.8 468.5h1.3v1.3h-1.3zM470.2 454.4h1.3v1.3h-1.3zM474.8 468.5h1.3v1.3h-1.3zM471.0 468.9h1.3v1.3h-1.3zM474.6 466.3h1.3v1.3h-1.3zM472.3 473.2h1.3v1.3h-1.3zM462.4 470.3h1.3v1.3h-1.3zM481.6 456.6h1.3v1.3h-1.3zM469.9 463.3h1.3v1.3h-1.3zM472.9 468.2h1.3v1.3h-1.3zM473.6 451.7h1.3v1.3h-1.3zM466.2 465.1h1.3v1.3h-1.3zM456.5 472.6h1.3v1.3h-1.3zM450.6 462.7h1.3v1.3h-1.3zM466.6 476.9h1.3v1.3h-1.3zM478.9 472.6h1.3v1.3h-1.3zM472.0 469.8h1.3v1.3h-1.3zM472.5 464.6h1.3v1.3h-1.3zM462.7 465.3h1.3v1.3h-1.3zM456.2 474.6h1.3v1.3h-1.3zM466.1 470.9h1.3v1.3h-1.3zM453.3 478.3h1.3v1.3h-1.3zM458.2 463.6h1.3v1.3h-1.3zM472.8 470.3h1.3v1.3h-1.3zM463.5 476.9h1.3v1.3h-1.3zM452.4 463.1h1.3v1.3h-1.3zM471.3 466.8h1.3v1.3h-1.3zM470.8 466.1h1.3v1.3h-1.3zM467.4 465.2h1.3v1.3h-1.3zM452.5 478.5h1.3v1.3h-1.3zM472.1 464.1h1.3v1.3h-1.3zM465.3 473.1h1.3v1.3h-1.3zM471.8 468.9h1.3v1.3h-1.3zM477.2 470.2h1.3v1.3h-1.3zM469.8 464.1h1.3v1.3h-1.3zM476.3 459.1h1.3v1.3h-1.3zM473.9 470.2h1.3v1.3h-1.3zM462.7 468.4h1.3v1.3h-1.3zM463.3 474.4h1.3v1.3h-1.3zM482.4 458.8h1.3v1.3h-1.3zM484.9 457.6h1.3v1.3h-1.3zM466.0 472.7h1.3v1.3h-1.3zM470.0 467.2h1.3v1.3h-1.3zM471.0 464.7h1.3v1.3h-1.3zM475.7 469.9h1.3v1.3h-1.3zM453.8 469.0h1.3v1.3h-1.3zM475.1 466.2h1.3v1.3h-1.3zM470.5 470.1h1.3v1.3h-1.3zM467.8 458.0h1.3v1.3h-1.3zM467.0 474.7h1.3v1.3h-1.3zM480.7 463.3h1.3v1.3h-1.3zM465.0 465.3h1.3v1.3h-1.3zM484.2 461.9h1.3v1.3h-1.3zM481.2 458.2h1.3v1.3h-1.3zM460.6 454.2h1.3v1.3h-1.3zM477.4 464.7h1.3v1.3h-1.3zM476.8 460.9h1.3v1.3h-1.3zM469.6 479.3h1.3v1.3h-1.3zM452.9 482.6h1.3v1.3h-1.3zM465.6 463.6h1.3v1.3h-1.3zM472.8 468.2h1.3v1.3h-1.3zM491.1 469.4h1.3v1.3h-1.3zM481.4 466.3h1.3v1.3h-1.3zM477.5 463.2h1.3v1.3h-1.3zM471.2 463.5h1.3v1.3h-1.3zM475.6 457.0h1.3v1.3h-1.3zM463.8 474.9h1.3v1.3h-1.3zM463.5 473.1h1.3v1.3h-1.3zM458.3 470.9h1.3v1.3h-1.3zM459.4 469.3h1.3v1.3h-1.3zM471.4 479.7h1.3v1.3h-1.3zM487.7 465.3h1.3v1.3h-1.3zM459.7 479.9h1.3v1.3h-1.3zM469.4 457.2h1.3v1.3h-1.3zM467.8 460.3h1.3v1.3h-1.3zM451.4 465.1h1.3v1.3h-1.3zM469.1 472.5h1.3v1.3h-1.3zM449.7 469.2h1.3v1.3h-1.3zM481.3 473.9h1.3v1.3h-1.3zM476.6 465.7h1.3v1.3h-1.3zM464.0 476.0h1.3v1.3h-1.3zM464.5 465.5h1.3v1.3h-1.3zM465.9 474.7h1.3v1.3h-1.3zM462.2 466.4h1.3v1.3h-1.3zM475.0 464.9h1.3v1.3h-1.3zM456.7 462.5h1.3v1.3h-1.3zM461.9 454.9h1.3v1.3h-1.3zM455.7 461.5h1.3v1.3h-1.3zM479.1 466.5h1.3v1.3h-1.3zM470.2 468.8h1.3v1.3h-1.3zM474.5 452.9h1.3v1.3h-1.3zM458.8 460.5h1.3v1.3h-1.3zM442.8 463.1h1.3v1.3h-1.3zM474.4 469.9h1.3v1.3h-1.3zM469.6 459.9h1.3v1.3h-1.3zM473.8 457.6h1.3v1.3h-1.3zM468.7 470.6h1.3v1.3h-1.3zM472.7 461.2h1.3v1.3h-1.3zM476.6 468.9h1.3v1.3h-1.3zM464.7 473.9h1.3v1.3h-1.3zM447.7 468.1h1.3v1.3h-1.3zM470.3 453.2h1.3v1.3h-1.3zM468.8 464.7h1.3v1.3h-1.3zM468.1 484.0h1.3v1.3h-1.3zM454.8 462.2h1.3v1.3h-1.3zM485.4 472.9h1.3v1.3h-1.3zM467.8 462.1h1.3v1.3h-1.3zM466.9 459.8h1.3v1.3h-1.3zM462.6 480.0h1.3v1.3h-1.3zM460.3 465.8h1.3v1.3h-1.3zM465.4 451.0h1.3v1.3h-1.3zM453.7 460.4h1.3v1.3h-1.3zM476.6 458.1h1.3v1.3h-1.3zM462.5 464.0h1.3v1.3h-1.3zM481.2 473.3h1.3v1.3h-1.3zM470.7 473.7h1.3v1.3h-1.3zM460.7 469.0h1.3v1.3h-1.3zM486.1 465.7h1.3v1.3h-1.3zM466.2 463.8h1.3v1.3h-1.3zM459.8 456.1h1.3v1.3h-1.3zM475.8 465.1h1.3v1.3h-1.3zM470.6 464.6h1.3v1.3h-1.3zM469.6 473.8h1.3v1.3h-1.3zM450.9 474.1h1.3v1.3h-1.3zM454.8 479.6h1.3v1.3h-1.3zM474.7 462.1h1.3v1.3h-1.3zM462.2 465.8h1.3v1.3h-1.3zM470.9 462.7h1.3v1.3h-1.3zM458.1 463.1h1.3v1.3h-1.3zM471.9 474.5h1.3v1.3h-1.3zM452.3 472.5h1.3v1.3h-1.3zM463.1 459.0h1.3v1.3h-1.3zM478.8 459.3h1.3v1.3h-1.3zM473.1 480.5h1.3v1.3h-1.3zM468.7 485.1h1.3v1.3h-1.3zM469.2 477.7h1.3v1.3h-1.3zM467.6 468.2h1.3v1.3h-1.3zM487.0 474.5h1.3v1.3h-1.3zM468.8 466.5h1.3v1.3h-1.3zM469.0 457.6h1.3v1.3h-1.3zM463.3 468.9h1.3v1.3h-1.3zM470.2 458.0h1.3v1.3h-1.3zM471.0 464.6h1.3v1.3h-1.3zM465.6 485.5h1.3v1.3h-1.3zM453.8 475.0h1.3v1.3h-1.3zM465.7 469.4h1.3v1.3h-1.3zM479.1 470.5h1.3v1.3h-1.3zM461.3 465.4h1.3v1.3h-1.3zM464.6 470.0h1.3v1.3h-1.3zM475.5 457.3h1.3v1.3h-1.3zM463.6 457.5h1.3v1.3h-1.3zM449.7 468.1h1.3v1.3h-1.3zM479.3 454.5h1.3v1.3h-1.3zM463.5 450.5h1.3v1.3h-1.3zM461.7 464.6h1.3v1.3h-1.3zM462.9 460.0h1.3v1.3h-1.3zM469.9 459.2h1.3v1.3h-1.3zM465.6 478.8h1.3v1.3h-1.3z"/>
<path fill="#1494f8" d="M465.2 476.5h1.4v1.4h-1.4zM467.5 467.9h1.4v1.4h-1.4zM459.6 477.8h1.4v1.4h-1.4zM454.1 479.6h1.4v1.4h-1.4zM455.0 475.7h1.4v1.4h-1.4zM472.9 477.4h1.4v1.4h-1.4zM442.3 477.5h1.4v1.4h-1.4zM457.6 472.9h1.4v1.4h-1.4zM462.3 470.6h1.4v1.4h-1.4zM451.0 475.8h1.4v1.4h-1.4zM467.9 476.1h1.4v1.4h-1.4zM455.5 479.9h1.4v1.4h-1.4zM460.9 484.5h1.4v1.4h-1.4zM471.4 472.5h1.4v1.4h-1.4zM466.8 471.3h1.4v1.4h-1.4zM459.6 490.6h1.4v1.4h-1.4zM460.3 474.5h1.4v1.4h-1.4zM470.9 474.7h1.4v1.4h-1.4zM473.8 468.4h1.4v1.4h-1.4zM464.6 478.1h1.4v1.4h-1.4zM448.8 457.6h1.4v1.4h-1.4zM458.1 469.0h1.4v1.4h-1.4zM468.3 473.0h1.4v1.4h-1.4zM456.3 469.3h1.4v1.4h-1.4zM459.3 476.7h1.4v1.4h-1.4zM454.8 483.9h1.4v1.4h-1.4zM458.5 477.7h1.4v1.4h-1.4zM467.9 471.9h1.4v1.4h-1.4zM466.0 455.8h1.4v1.4h-1.4zM454.2 468.4h1.4v1.4h-1.4zM469.9 484.4h1.4v1.4h-1.4zM451.8 486.6h1.4v1.4h-1.4zM467.9 479.3h1.4v1.4h-1.4zM467.4 481.4h1.4v1.4h-1.4zM452.8 480.9h1.4v1.4h-1.4zM449.1 463.0h1.4v1.4h-1.4zM468.3 471.2h1.4v1.4h-1.4zM466.0 470.3h1.4v1.4h-1.4zM463.1 479.2h1.4v1.4h-1.4zM456.4 483.1h1.4v1.4h-1.4zM464.2 474.8h1.4v1.4h-1.4zM451.6 489.2h1.4v1.4h-1.4zM466.9 473.3h1.4v1.4h-1.4zM477.1 470.2h1.4v1.4h-1.4zM460.3 469.9h1.4v1.4h-1.4zM468.6 458.2h1.4v1.4h-1.4zM455.8 479.9h1.4v1.4h-1.4zM463.8 470.1h1.4v1.4h-1.4zM460.3 479.4h1.4v1.4h-1.4zM464.6 477.8h1.4v1.4h-1.4zM459.6 478.6h1.4v1.4h-1.4zM450.1 461.3h1.4v1.4h-1.4zM468.7 471.3h1.4v1.4h-1.4zM453.8 472.1h1.4v1.4h-1.4zM469.0 476.8h1.4v1.4h-1.4zM453.4 466.2h1.4v1.4h-1.4zM466.8 465.9h1.4v1.4h-1.4zM464.0 483.3h1.4v1.4h-1.4zM458.0 462.9h1.4v1.4h-1.4zM468.0 475.9h1.4v1.4h-1.4zM463.2 465.4h1.4v1.4h-1.4zM472.2 480.4h1.4v1.4h-1.4zM466.0 470.3h1.4v1.4h-1.4zM469.7 471.1h1.4v1.4h-1.4zM447.8 466.8h1.4v1.4h-1.4zM470.8 458.5h1.4v1.4h-1.4zM459.9 488.0h1.4v1.4h-1.4zM459.9 473.7h1.4v1.4h-1.4zM452.7 485.8h1.4v1.4h-1.4zM456.5 479.5h1.4v1.4h-1.4zM459.5 466.5h1.4v1.4h-1.4zM461.9 470.1h1.4v1.4h-1.4zM461.9 478.7h1.4v1.4h-1.4zM458.8 474.9h1.4v1.4h-1.4zM462.5 468.9h1.4v1.4h-1.4zM467.2 477.4h1.4v1.4h-1.4zM458.1 481.1h1.4v1.4h-1.4zM456.9 483.9h1.4v1.4h-1.4zM468.6 487.7h1.4v1.4h-1.4zM464.3 475.2h1.4v1.4h-1.4zM455.0 471.7h1.4v1.4h-1.4zM465.9 471.8h1.4v1.4h-1.4zM464.3 454.3h1.4v1.4h-1.4zM476.1 485.3h1.4v1.4h-1.4zM467.4 487.6h1.4v1.4h-1.4zM466.8 444.7h1.4v1.4h-1.4zM460.9 475.7h1.4v1.4h-1.4zM455.1 470.2h1.4v1.4h-1.4zM460.8 472.5h1.4v1.4h-1.4zM459.7 460.3h1.4v1.4h-1.4zM459.5 473.3h1.4v1.4h-1.4zM469.1 457.7h1.4v1.4h-1.4zM454.5 479.2h1.4v1.4h-1.4zM473.0 481.7h1.4v1.4h-1.4zM454.7 484.1h1.4v1.4h-1.4zM451.9 460.7h1.4v1.4h-1.4zM467.8 464.6h1.4v1.4h-1.4zM459.8 469.1h1.4v1.4h-1.4zM456.6 484.9h1.4v1.4h-1.4zM464.1 472.3h1.4v1.4h-1.4zM458.1 486.5h1.4v1.4h-1.4zM462.2 475.5h1.4v1.4h-1.4zM458.8 479.3h1.4v1.4h-1.4zM462.3 462.4h1.4v1.4h-1.4zM455.7 460.6h1.4v1.4h-1.4zM465.9 467.6h1.4v1.4h-1.4zM458.4 464.3h1.4v1.4h-1.4zM461.8 462.0h1.4v1.4h-1.4zM446.5 478.4h1.4v1.4h-1.4zM464.4 486.6h1.4v1.4h-1.4zM457.2 468.0h1.4v1.4h-1.4zM459.6 473.2h1.4v1.4h-1.4zM458.7 484.9h1.4v1.4h-1.4zM457.1 474.8h1.4v1.4h-1.4zM454.2 480.3h1.4v1.4h-1.4zM467.1 480.1h1.4v1.4h-1.4zM457.6 484.0h1.4v1.4h-1.4zM459.4 483.5h1.4v1.4h-1.4zM458.4 476.8h1.4v1.4h-1.4zM455.8 466.6h1.4v1.4h-1.4zM468.0 483.3h1.4v1.4h-1.4zM456.1 465.7h1.4v1.4h-1.4zM462.9 475.8h1.4v1.4h-1.4zM455.2 478.4h1.4v1.4h-1.4zM450.7 498.1h1.4v1.4h-1.4zM450.5 480.7h1.4v1.4h-1.4zM463.8 478.6h1.4v1.4h-1.4zM447.2 472.2h1.4v1.4h-1.4zM448.9 473.8h1.4v1.4h-1.4zM456.1 462.7h1.4v1.4h-1.4zM464.2 457.1h1.4v1.4h-1.4zM455.3 473.7h1.4v1.4h-1.4zM467.4 476.2h1.4v1.4h-1.4zM459.0 471.2h1.4v1.4h-1.4zM458.7 472.7h1.4v1.4h-1.4zM470.5 472.7h1.4v1.4h-1.4zM463.6 489.2h1.4v1.4h-1.4zM457.3 469.7h1.4v1.4h-1.4zM456.5 490.4h1.4v1.4h-1.4zM465.7 469.3h1.4v1.4h-1.4zM469.5 473.2h1.4v1.4h-1.4zM458.4 474.6h1.4v1.4h-1.4zM459.2 479.8h1.4v1.4h-1.4zM467.5 486.7h1.4v1.4h-1.4zM455.6 483.2h1.4v1.4h-1.4zM463.2 484.2h1.4v1.4h-1.4zM462.1 477.7h1.4v1.4h-1.4zM459.3 475.3h1.4v1.4h-1.4zM454.2 474.4h1.4v1.4h-1.4zM444.6 466.0h1.4v1.4h-1.4zM459.1 493.0h1.4v1.4h-1.4zM452.0 474.7h1.4v1.4h-1.4zM462.0 469.5h1.4v1.4h-1.4zM456.6 465.7h1.4v1.4h-1.4zM457.4 472.8h1.4v1.4h-1.4zM469.9 466.5h1.4v1.4h-1.4zM464.9 483.5h1.4v1.4h-1.4zM453.9 484.6h1.4v1.4h-1.4zM466.0 469.7h1.4v1.4h-1.4zM457.8 485.5h1.4v1.4h-1.4zM451.6 481.8h1.4v1.4h-1.4zM461.2 478.0h1.4v1.4h-1.4zM460.3 477.5h1.4v1.4h-1.4zM466.8 473.0h1.4v1.4h-1.4zM467.1 482.7h1.4v1.4h-1.4zM467.6 461.6h1.4v1.4h-1.4zM455.7 481.2h1.4v1.4h-1.4zM459.9 474.7h1.4v1.4h-1.4zM448.5 456.6h1.4v1.4h-1.4zM462.4 472.5h1.4v1.4h-1.4zM458.9 476.4h1.4v1.4h-1.4zM445.9 480.2h1.4v1.4h-1.4zM464.5 475.9h1.4v1.4h-1.4zM463.3 467.5h1.4v1.4h-1.4zM449.7 477.0h1.4v1.4h-1.4zM445.4 476.0h1.4v1.4h-1.4zM457.9 448.7h1.4v1.4h-1.4zM461.8 465.8h1.4v1.4h-1.4zM459.5 471.9h1.4v1.4h-1.4zM469.7 469.6h1.4v1.4h-1.4zM475.8 476.3h1.4v1.4h-1.4zM460.9 491.4h1.4v1.4h-1.4zM458.8 475.0h1.4v1.4h-1.4zM457.2 470.9h1.4v1.4h-1.4zM474.1 474.1h1.4v1.4h-1.4zM460.5 467.1h1.4v1.4h-1.4zM464.9 469.9h1.4v1.4h-1.4zM466.3 468.7h1.4v1.4h-1.4zM467.2 479.2h1.4v1.4h-1.4zM463.2 470.3h1.4v1.4h-1.4zM473.0 475.5h1.4v1.4h-1.4zM464.3 477.4h1.4v1.4h-1.4zM461.7 466.3h1.4v1.4h-1.4zM453.3 479.4h1.4v1.4h-1.4zM458.1 487.6h1.4v1.4h-1.4zM460.2 472.7h1.4v1.4h-1.4zM467.5 476.9h1.4v1.4h-1.4zM456.7 483.8h1.4v1.4h-1.4zM462.1 485.4h1.4v1.4h-1.4zM459.2 477.1h1.4v1.4h-1.4zM442.4 473.0h1.4v1.4h-1.4zM462.3 479.1h1.4v1.4h-1.4zM472.0 466.0h1.4v1.4h-1.4zM450.7 468.3h1.4v1.4h-1.4zM468.2 470.3h1.4v1.4h-1.4zM452.2 478.3h1.4v1.4h-1.4zM457.6 465.7h1.4v1.4h-1.4zM459.8 476.8h1.4v1.4h-1.4zM466.8 461.3h1.4v1.4h-1.4zM460.5 466.8h1.4v1.4h-1.4zM460.9 467.6h1.4v1.4h-1.4zM466.8 479.2h1.4v1.4h-1.4zM467.3 489.2h1.4v1.4h-1.4zM459.7 462.0h1.4v1.4h-1.4zM464.1 476.8h1.4v1.4h-1.4zM470.1 473.7h1.4v1.4h-1.4zM464.2 478.1h1.4v1.4h-1.4zM454.0 470.1h1.4v1.4h-1.4zM461.3 481.5h1.4v1.4h-1.4zM450.5 457.7h1.4v1.4h-1.4zM475.7 482.4h1.4v1.4h-1.4zM462.2 486.4h1.4v1.4h-1.4zM449.6 468.0h1.4v1.4h-1.4zM457.7 476.0h1.4v1.4h-1.4zM463.7 465.6h1.4v1.4h-1.4zM465.6 472.1h1.4v1.4h-1.4zM459.8 472.5h1.4v1.4h-1.4zM458.0 452.9h1.4v1.4h-1.4zM454.3 481.7h1.4v1.4h-1.4zM466.8 480.1h1.4v1.4h-1.4zM469.3 489.6h1.4v1.4h-1.4zM463.0 474.1h1.4v1.4h-1.4zM462.1 475.7h1.4v1.4h-1.4zM461.8 484.3h1.4v1.4h-1.4zM457.0 459.9h1.4v1.4h-1.4zM458.2 479.1h1.4v1.4h-1.4zM464.5 472.0h1.4v1.4h-1.4zM462.5 490.3h1.4v1.4h-1.4zM463.7 473.5h1.4v1.4h-1.4zM455.6 483.1h1.4v1.4h-1.4zM466.0 471.4h1.4v1.4h-1.4zM453.7 448.6h1.4v1.4h-1.4zM469.2 486.3h1.4v1.4h-1.4zM459.5 483.6h1.4v1.4h-1.4zM462.8 483.3h1.4v1.4h-1.4zM456.0 472.6h1.4v1.4h-1.4zM460.1 484.8h1.4v1.4h-1.4zM455.5 467.3h1.4v1.4h-1.4zM461.7 468.7h1.4v1.4h-1.4zM448.4 482.9h1.4v1.4h-1.4zM468.5 481.6h1.4v1.4h-1.4zM462.0 490.2h1.4v1.4h-1.4zM465.5 469.4h1.4v1.4h-1.4zM459.8 479.0h1.4v1.4h-1.4zM464.2 479.7h1.4v1.4h-1.4zM455.9 484.3h1.4v1.4h-1.4zM454.6 466.6h1.4v1.4h-1.4zM457.8 476.1h1.4v1.4h-1.4zM450.6 472.0h1.4v1.4h-1.4zM466.1 479.7h1.4v1.4h-1.4zM459.2 481.4h1.4v1.4h-1.4zM454.8 488.4h1.4v1.4h-1.4zM464.3 480.7h1.4v1.4h-1.4zM467.9 472.8h1.4v1.4h-1.4zM458.4 478.0h1.4v1.4h-1.4zM468.1 475.7h1.4v1.4h-1.4zM462.9 474.7h1.4v1.4h-1.4zM462.2 482.5h1.4v1.4h-1.4zM449.1 480.3h1.4v1.4h-1.4zM454.6 468.9h1.4v1.4h-1.4zM468.9 458.6h1.4v1.4h-1.4zM468.0 471.3h1.4v1.4h-1.4zM475.9 479.1h1.4v1.4h-1.4zM456.7 487.0h1.4v1.4h-1.4zM466.4 477.3h1.4v1.4h-1.4zM450.6 480.1h1.4v1.4h-1.4zM455.2 484.2h1.4v1.4h-1.4zM453.5 485.2h1.4v1.4h-1.4zM455.3 469.9h1.4v1.4h-1.4zM463.2 474.2h1.4v1.4h-1.4zM470.9 481.3h1.4v1.4h-1.4zM462.5 471.5h1.4v1.4h-1.4zM452.7 468.7h1.4v1.4h-1.4zM470.4 473.7h1.4v1.4h-1.4zM463.7 476.1h1.4v1.4h-1.4zM450.6 484.7h1.4v1.4h-1.4zM470.8 472.1h1.4v1.4h-1.4zM461.6 469.4h1.4v1.4h-1.4zM466.6 473.0h1.4v1.4h-1.4zM457.1 483.1h1.4v1.4h-1.4zM457.8 461.8h1.4v1.4h-1.4zM464.2 478.9h1.4v1.4h-1.4zM450.2 484.6h1.4v1.4h-1.4zM461.7 473.2h1.4v1.4h-1.4zM467.4 471.7h1.4v1.4h-1.4zM464.4 467.0h1.4v1.4h-1.4zM460.8 469.0h1.4v1.4h-1.4zM458.5 475.2h1.4v1.4h-1.4zM458.5 486.6h1.4v1.4h-1.4zM471.6 480.9h1.4v1.4h-1.4zM463.3 473.2h1.4v1.4h-1.4zM462.6 464.6h1.4v1.4h-1.4zM455.0 466.7h1.4v1.4h-1.4zM464.1 485.1h1.4v1.4h-1.4zM466.6 464.9h1.4v1.4h-1.4zM445.6 484.3h1.4v1.4h-1.4zM472.8 477.5h1.4v1.4h-1.4zM467.0 484.4h1.4v1.4h-1.4zM460.0 479.3h1.4v1.4h-1.4zM448.8 471.7h1.4v1.4h-1.4zM478.2 476.1h1.4v1.4h-1.4zM466.1 472.9h1.4v1.4h-1.4zM457.8 466.1h1.4v1.4h-1.4zM451.2 474.3h1.4v1.4h-1.4zM468.5 475.4h1.4v1.4h-1.4zM448.5 467.0h1.4v1.4h-1.4zM461.1 473.7h1.4v1.4h-1.4zM459.0 481.8h1.4v1.4h-1.4zM452.7 475.8h1.4v1.4h-1.4zM456.0 466.8h1.4v1.4h-1.4zM456.2 488.3h1.4v1.4h-1.4zM467.4 470.2h1.4v1.4h-1.4zM464.0 485.2h1.4v1.4h-1.4zM469.2 478.7h1.4v1.4h-1.4zM454.1 484.9h1.4v1.4h-1.4zM470.2 478.1h1.4v1.4h-1.4zM463.6 467.0h1.4v1.4h-1.4zM469.9 485.8h1.4v1.4h-1.4zM459.0 470.2h1.4v1.4h-1.4zM464.6 464.3h1.4v1.4h-1.4zM454.5 464.1h1.4v1.4h-1.4zM469.2 479.3h1.4v1.4h-1.4zM461.9 471.9h1.4v1.4h-1.4zM456.9 472.2h1.4v1.4h-1.4zM460.1 464.1h1.4v1.4h-1.4zM461.5 491.3h1.4v1.4h-1.4zM448.0 481.7h1.4v1.4h-1.4zM461.5 484.4h1.4v1.4h-1.4zM453.2 477.8h1.4v1.4h-1.4zM459.9 485.7h1.4v1.4h-1.4zM461.9 472.4h1.4v1.4h-1.4zM477.1 487.3h1.4v1.4h-1.4zM463.6 476.0h1.4v1.4h-1.4zM451.3 472.8h1.4v1.4h-1.4zM464.5 482.7h1.4v1.4h-1.4zM452.6 480.0h1.4v1.4h-1.4zM453.5 479.5h1.4v1.4h-1.4zM455.4 463.8h1.4v1.4h-1.4zM467.1 468.9h1.4v1.4h-1.4zM472.4 466.1h1.4v1.4h-1.4zM465.5 470.2h1.4v1.4h-1.4zM451.5 477.4h1.4v1.4h-1.4zM461.8 468.5h1.4v1.4h-1.4zM466.4 476.5h1.4v1.4h-1.4zM442.9 468.0h1.4v1.4h-1.4zM458.1 473.8h1.4v1.4h-1.4zM478.5 481.0h1.4v1.4h-1.4zM450.9 485.7h1.4v1.4h-1.4zM453.5 491.7h1.4v1.4h-1.4zM452.5 478.4h1.4v1.4h-1.4zM470.6 479.1h1.4v1.4h-1.4zM467.5 488.7h1.4v1.4h-1.4zM466.2 464.0h1.4v1.4h-1.4zM469.3 468.2h1.4v1.4h-1.4zM456.4 484.2h1.4v1.4h-1.4zM447.6 485.2h1.4v1.4h-1.4zM464.9 492.1h1.4v1.4h-1.4zM449.5 491.0h1.4v1.4h-1.4zM465.6 489.8h1.4v1.4h-1.4zM464.8 483.7h1.4v1.4h-1.4zM462.4 477.5h1.4v1.4h-1.4zM470.4 486.7h1.4v1.4h-1.4zM464.1 462.3h1.4v1.4h-1.4zM452.7 475.6h1.4v1.4h-1.4zM455.8 464.8h1.4v1.4h-1.4zM466.1 475.0h1.4v1.4h-1.4zM456.8 454.0h1.4v1.4h-1.4zM465.8 480.2h1.4v1.4h-1.4zM459.5 476.2h1.4v1.4h-1.4zM463.4 485.4h1.4v1.4h-1.4zM454.8 463.7h1.4v1.4h-1.4zM460.3 473.6h1.4v1.4h-1.4zM450.0 483.6h1.4v1.4h-1.4zM456.5 462.4h1.4v1.4h-1.4zM465.3 474.8h1.4v1.4h-1.4zM456.9 458.7h1.4v1.4h-1.4zM454.7 491.4h1.4v1.4h-1.4zM467.5 468.5h1.4v1.4h-1.4zM466.8 476.3h1.4v1.4h-1.4zM453.2 478.5h1.4v1.4h-1.4zM463.1 461.3h1.4v1.4h-1.4zM464.9 471.0h1.4v1.4h-1.4zM455.2 462.4h1.4v1.4h-1.4zM456.1 480.1h1.4v1.4h-1.4zM460.2 487.3h1.4v1.4h-1.4zM471.9 457.1h1.4v1.4h-1.4zM461.1 475.1h1.4v1.4h-1.4zM461.0 463.9h1.4v1.4h-1.4zM442.8 478.6h1.4v1.4h-1.4zM463.9 480.1h1.4v1.4h-1.4zM468.1 482.9h1.4v1.4h-1.4zM453.6 480.6h1.4v1.4h-1.4zM466.7 462.4h1.4v1.4h-1.4zM463.9 464.9h1.4v1.4h-1.4zM466.9 474.8h1.4v1.4h-1.4zM461.3 480.9h1.4v1.4h-1.4zM461.6 469.0h1.4v1.4h-1.4zM478.8 472.2h1.4v1.4h-1.4zM474.2 479.2h1.4v1.4h-1.4zM454.9 476.6h1.4v1.4h-1.4zM449.7 484.2h1.4v1.4h-1.4zM464.1 466.6h1.4v1.4h-1.4zM464.5 479.6h1.4v1.4h-1.4zM462.2 476.5h1.4v1.4h-1.4zM460.4 476.4h1.4v1.4h-1.4zM471.5 474.3h1.4v1.4h-1.4zM440.2 471.3h1.4v1.4h-1.4zM454.4 486.5h1.4v1.4h-1.4zM465.7 470.7h1.4v1.4h-1.4zM464.7 478.9h1.4v1.4h-1.4zM464.7 476.5h1.4v1.4h-1.4zM456.0 470.3h1.4v1.4h-1.4zM473.2 478.0h1.4v1.4h-1.4zM468.1 478.3h1.4v1.4h-1.4zM467.2 488.5h1.4v1.4h-1.4zM464.4 469.6h1.4v1.4h-1.4zM451.1 480.7h1.4v1.4h-1.4zM457.0 480.2h1.4v1.4h-1.4zM452.1 483.4h1.4v1.4h-1.4zM460.9 470.4h1.4v1.4h-1.4zM450.3 478.2h1.4v1.4h-1.4zM460.4 465.8h1.4v1.4h-1.4zM455.9 478.4h1.4v1.4h-1.4zM460.2 484.9h1.4v1.4h-1.4zM444.8 487.9h1.4v1.4h-1.4zM452.5 458.2h1.4v1.4h-1.4zM460.9 472.6h1.4v1.4h-1.4zM465.0 478.9h1.4v1.4h-1.4zM451.2 461.5h1.4v1.4h-1.4zM464.5 496.0h1.4v1.4h-1.4zM477.8 478.5h1.4v1.4h-1.4zM458.9 462.2h1.4v1.4h-1.4zM446.9 479.7h1.4v1.4h-1.4zM448.4 460.4h1.4v1.4h-1.4zM455.9 468.8h1.4v1.4h-1.4zM457.7 470.1h1.4v1.4h-1.4zM463.8 475.2h1.4v1.4h-1.4zM472.5 489.4h1.4v1.4h-1.4zM453.8 470.6h1.4v1.4h-1.4zM461.9 471.8h1.4v1.4h-1.4zM470.6 476.2h1.4v1.4h-1.4zM464.4 480.6h1.4v1.4h-1.4zM462.0 478.4h1.4v1.4h-1.4zM461.8 465.4h1.4v1.4h-1.4zM451.5 483.1h1.4v1.4h-1.4zM450.9 469.1h1.4v1.4h-1.4zM466.0 469.5h1.4v1.4h-1.4zM470.3 495.9h1.4v1.4h-1.4zM468.3 461.8h1.4v1.4h-1.4zM468.2 475.7h1.4v1.4h-1.4zM472.4 467.6h1.4v1.4h-1.4zM471.3 481.7h1.4v1.4h-1.4zM458.5 479.3h1.4v1.4h-1.4zM462.9 468.6h1.4v1.4h-1.4zM445.2 472.3h1.4v1.4h-1.4zM468.4 471.9h1.4v1.4h-1.4zM462.3 480.2h1.4v1.4h-1.4zM461.9 462.2h1.4v1.4h-1.4zM468.1 478.8h1.4v1.4h-1.4zM451.9 478.3h1.4v1.4h-1.4zM462.2 476.1h1.4v1.4h-1.4zM455.1 472.6h1.4v1.4h-1.4zM472.0 481.7h1.4v1.4h-1.4zM452.3 480.8h1.4v1.4h-1.4zM457.0 478.0h1.4v1.4h-1.4zM464.1 476.8h1.4v1.4h-1.4zM472.8 481.7h1.4v1.4h-1.4zM460.9 481.6h1.4v1.4h-1.4zM451.2 467.2h1.4v1.4h-1.4zM456.1 466.2h1.4v1.4h-1.4zM463.3 472.8h1.4v1.4h-1.4zM464.9 470.2h1.4v1.4h-1.4zM452.4 471.5h1.4v1.4h-1.4zM469.0 474.5h1.4v1.4h-1.4zM454.9 487.3h1.4v1.4h-1.4zM454.5 476.8h1.4v1.4h-1.4zM459.6 477.8h1.4v1.4h-1.4zM452.6 482.9h1.4v1.4h-1.4zM452.5 471.0h1.4v1.4h-1.4zM459.4 473.6h1.4v1.4h-1.4zM444.2 461.2h1.4v1.4h-1.4zM458.3 469.1h1.4v1.4h-1.4zM452.4 481.0h1.4v1.4h-1.4zM462.9 472.9h1.4v1.4h-1.4zM454.2 473.3h1.4v1.4h-1.4zM467.1 488.6h1.4v1.4h-1.4zM463.2 489.8h1.4v1.4h-1.4zM464.3 477.4h1.4v1.4h-1.4z"/>
<path fill="#2b2b2b" d="M416.7 385.9h1.6v1.6h-1.6zM438.5 387.2h1.6v1.6h-1.6zM431.2 401.6h1.6v1.6h-1.6zM456.7 394.2h1.6v1.6h-1.6zM459.2 407.7h1.6v1.6h-1.6zM474.8 405.2h1.6v1.6h-1.6zM487.0 404.1h1.6v1.6h-1.6zM497.9 398.0h1.6v1.6h-1.6zM488.2 415.0h1.6v1.6h-1.6zM409.4 422.2h1.6v1.6h-1.6zM443.2 421.0h1.6v1.6h-1.6zM471.2 421.0h1.6v1.6h-1.6zM419.2 434.2h1.6v1.6h-1.6zM456.7 430.7h1.6v1.6h-1.6zM463.9 439.2h1.6v1.6h-1.6zM467.6 439.2h1.6v1.6h-1.6zM455.5 435.6h1.6v1.6h-1.6zM493.0 442.8h1.6v1.6h-1.6zM499.2 448.9h1.6v1.6h-1.6zM494.2 453.7h1.6v1.6h-1.6zM499.2 459.8h1.6v1.6h-1.6z"/>
</g>
<rect x="236.00" y="31.50" width="125.00" height="125.20" fill="none" stroke="#111" stroke-width="1.6"/>
<path d="M242.13 156.70v-2.4M242.13 31.50v2.4M236.00 150.56h2.4M361.00 150.56h-2.4M248.25 156.70v-2.4M248.25 31.50v2.4M236.00 144.43h2.4M361.00 144.43h-2.4M254.38 156.70v-2.4M254.38 31.50v2.4M236.00 138.29h2.4M361.00 138.29h-2.4M260.51 156.70v-2.4M260.51 31.50v2.4M236.00 132.15h2.4M361.00 132.15h-2.4M266.64 156.70v-5.0M266.64 31.50v5.0M236.00 126.01h5.0M361.00 126.01h-5.0M272.76 156.70v-2.4M272.76 31.50v2.4M236.00 119.88h2.4M361.00 119.88h-2.4M278.89 156.70v-2.4M278.89 31.50v2.4M236.00 113.74h2.4M361.00 113.74h-2.4M285.02 156.70v-2.4M285.02 31.50v2.4M236.00 107.60h2.4M361.00 107.60h-2.4M291.15 156.70v-2.4M291.15 31.50v2.4M236.00 101.46h2.4M361.00 101.46h-2.4M297.27 156.70v-5.0M297.27 31.50v5.0M236.00 95.33h5.0M361.00 95.33h-5.0M303.40 156.70v-2.4M303.40 31.50v2.4M236.00 89.19h2.4M361.00 89.19h-2.4M309.53 156.70v-2.4M309.53 31.50v2.4M236.00 83.05h2.4M361.00 83.05h-2.4M315.66 156.70v-2.4M315.66 31.50v2.4M236.00 76.92h2.4M361.00 76.92h-2.4M321.78 156.70v-2.4M321.78 31.50v2.4M236.00 70.78h2.4M361.00 70.78h-2.4M327.91 156.70v-5.0M327.91 31.50v5.0M236.00 64.64h5.0M361.00 64.64h-5.0M334.04 156.70v-2.4M334.04 31.50v2.4M236.00 58.50h2.4M361.00 58.50h-2.4M340.17 156.70v-2.4M340.17 31.50v2.4M236.00 52.37h2.4M361.00 52.37h-2.4M346.29 156.70v-2.4M346.29 31.50v2.4M236.00 46.23h2.4M361.00 46.23h-2.4M352.42 156.70v-2.4M352.42 31.50v2.4M236.00 40.09h2.4M361.00 40.09h-2.4M358.55 156.70v-5.0M358.55 31.50v5.0M236.00 33.95h5.0M361.00 33.95h-5.0" stroke="#111" stroke-width="1.15" fill="none"/>
<text x="266.64" y="163.50" class="tl" text-anchor="middle">250</text>
<text x="235.30" y="128.71" class="tl" text-anchor="end">250</text>
<text x="297.27" y="163.50" class="tl" text-anchor="middle">500</text>
<text x="235.30" y="98.03" class="tl" text-anchor="end">500</text>
<text x="327.91" y="163.50" class="tl" text-anchor="middle">750</text>
<text x="235.30" y="67.34" class="tl" text-anchor="end">750</text>
<text x="358.55" y="163.50" class="tl" text-anchor="middle">1000</text>
<text x="235.30" y="36.65" class="tl" text-anchor="end">1000</text>
<rect x="85.70" y="209.50" width="124.80" height="124.80" fill="none" stroke="#111" stroke-width="1.6"/>
<path d="M91.82 334.30v-2.4M91.82 209.50v2.4M85.70 328.18h2.4M210.50 328.18h-2.4M97.94 334.30v-2.4M97.94 209.50v2.4M85.70 322.06h2.4M210.50 322.06h-2.4M104.05 334.30v-2.4M104.05 209.50v2.4M85.70 315.95h2.4M210.50 315.95h-2.4M110.17 334.30v-2.4M110.17 209.50v2.4M85.70 309.83h2.4M210.50 309.83h-2.4M116.29 334.30v-5.0M116.29 209.50v5.0M85.70 303.71h5.0M210.50 303.71h-5.0M122.41 334.30v-2.4M122.41 209.50v2.4M85.70 297.59h2.4M210.50 297.59h-2.4M128.52 334.30v-2.4M128.52 209.50v2.4M85.70 291.48h2.4M210.50 291.48h-2.4M134.64 334.30v-2.4M134.64 209.50v2.4M85.70 285.36h2.4M210.50 285.36h-2.4M140.76 334.30v-2.4M140.76 209.50v2.4M85.70 279.24h2.4M210.50 279.24h-2.4M146.88 334.30v-5.0M146.88 209.50v5.0M85.70 273.12h5.0M210.50 273.12h-5.0M152.99 334.30v-2.4M152.99 209.50v2.4M85.70 267.01h2.4M210.50 267.01h-2.4M159.11 334.30v-2.4M159.11 209.50v2.4M85.70 260.89h2.4M210.50 260.89h-2.4M165.23 334.30v-2.4M165.23 209.50v2.4M85.70 254.77h2.4M210.50 254.77h-2.4M171.35 334.30v-2.4M171.35 209.50v2.4M85.70 248.65h2.4M210.50 248.65h-2.4M177.46 334.30v-5.0M177.46 209.50v5.0M85.70 242.54h5.0M210.50 242.54h-5.0M183.58 334.30v-2.4M183.58 209.50v2.4M85.70 236.42h2.4M210.50 236.42h-2.4M189.70 334.30v-2.4M189.70 209.50v2.4M85.70 230.30h2.4M210.50 230.30h-2.4M195.82 334.30v-2.4M195.82 209.50v2.4M85.70 224.18h2.4M210.50 224.18h-2.4M201.94 334.30v-2.4M201.94 209.50v2.4M85.70 218.06h2.4M210.50 218.06h-2.4M208.05 334.30v-5.0M208.05 209.50v5.0M85.70 211.95h5.0M210.50 211.95h-5.0" stroke="#111" stroke-width="1.15" fill="none"/>
<text x="116.29" y="341.10" class="tl" text-anchor="middle">250</text>
<text x="85.00" y="306.41" class="tl" text-anchor="end">250</text>
<text x="146.88" y="341.10" class="tl" text-anchor="middle">500</text>
<text x="85.00" y="275.82" class="tl" text-anchor="end">500</text>
<text x="177.46" y="341.10" class="tl" text-anchor="middle">750</text>
<text x="85.00" y="245.24" class="tl" text-anchor="end">750</text>
<text x="208.05" y="341.10" class="tl" text-anchor="middle">1000</text>
<text x="85.00" y="214.65" class="tl" text-anchor="end">1000</text>
<rect x="235.30" y="209.40" width="125.00" height="124.90" fill="none" stroke="#111" stroke-width="1.6"/>
<path d="M241.43 334.30v-2.4M241.43 209.40v2.4M235.30 328.18h2.4M360.30 328.18h-2.4M247.55 334.30v-2.4M247.55 209.40v2.4M235.30 322.05h2.4M360.30 322.05h-2.4M253.68 334.30v-2.4M253.68 209.40v2.4M235.30 315.93h2.4M360.30 315.93h-2.4M259.81 334.30v-2.4M259.81 209.40v2.4M235.30 309.81h2.4M360.30 309.81h-2.4M265.94 334.30v-5.0M265.94 209.40v5.0M235.30 303.69h5.0M360.30 303.69h-5.0M272.06 334.30v-2.4M272.06 209.40v2.4M235.30 297.56h2.4M360.30 297.56h-2.4M278.19 334.30v-2.4M278.19 209.40v2.4M235.30 291.44h2.4M360.30 291.44h-2.4M284.32 334.30v-2.4M284.32 209.40v2.4M235.30 285.32h2.4M360.30 285.32h-2.4M290.45 334.30v-2.4M290.45 209.40v2.4M235.30 279.20h2.4M360.30 279.20h-2.4M296.57 334.30v-5.0M296.57 209.40v5.0M235.30 273.07h5.0M360.30 273.07h-5.0M302.70 334.30v-2.4M302.70 209.40v2.4M235.30 266.95h2.4M360.30 266.95h-2.4M308.83 334.30v-2.4M308.83 209.40v2.4M235.30 260.83h2.4M360.30 260.83h-2.4M314.96 334.30v-2.4M314.96 209.40v2.4M235.30 254.71h2.4M360.30 254.71h-2.4M321.08 334.30v-2.4M321.08 209.40v2.4M235.30 248.58h2.4M360.30 248.58h-2.4M327.21 334.30v-5.0M327.21 209.40v5.0M235.30 242.46h5.0M360.30 242.46h-5.0M333.34 334.30v-2.4M333.34 209.40v2.4M235.30 236.34h2.4M360.30 236.34h-2.4M339.47 334.30v-2.4M339.47 209.40v2.4M235.30 230.22h2.4M360.30 230.22h-2.4M345.59 334.30v-2.4M345.59 209.40v2.4M235.30 224.09h2.4M360.30 224.09h-2.4M351.72 334.30v-2.4M351.72 209.40v2.4M235.30 217.97h2.4M360.30 217.97h-2.4M357.85 334.30v-5.0M357.85 209.40v5.0M235.30 211.85h5.0M360.30 211.85h-5.0" stroke="#111" stroke-width="1.15" fill="none"/>
<text x="265.94" y="341.10" class="tl" text-anchor="middle">250</text>
<text x="234.60" y="306.39" class="tl" text-anchor="end">250</text>
<text x="296.57" y="341.10" class="tl" text-anchor="middle">500</text>
<text x="234.60" y="275.77" class="tl" text-anchor="end">500</text>
<text x="327.21" y="341.10" class="tl" text-anchor="middle">750</text>
<text x="234.60" y="245.16" class="tl" text-anchor="end">750</text>
<text x="357.85" y="341.10" class="tl" text-anchor="middle">1000</text>
<text x="234.60" y="214.55" class="tl" text-anchor="end">1000</text>
<rect x="386.50" y="209.30" width="125.40" height="124.80" fill="none" stroke="#111" stroke-width="1.6"/>
<path d="M392.65 334.10v-2.4M392.65 209.30v2.4M386.50 327.98h2.4M511.90 327.98h-2.4M398.79 334.10v-2.4M398.79 209.30v2.4M386.50 321.86h2.4M511.90 321.86h-2.4M404.94 334.10v-2.4M404.94 209.30v2.4M386.50 315.75h2.4M511.90 315.75h-2.4M411.09 334.10v-2.4M411.09 209.30v2.4M386.50 309.63h2.4M511.90 309.63h-2.4M417.24 334.10v-5.0M417.24 209.30v5.0M386.50 303.51h5.0M511.90 303.51h-5.0M423.38 334.10v-2.4M423.38 209.30v2.4M386.50 297.39h2.4M511.90 297.39h-2.4M429.53 334.10v-2.4M429.53 209.30v2.4M386.50 291.28h2.4M511.90 291.28h-2.4M435.68 334.10v-2.4M435.68 209.30v2.4M386.50 285.16h2.4M511.90 285.16h-2.4M441.82 334.10v-2.4M441.82 209.30v2.4M386.50 279.04h2.4M511.90 279.04h-2.4M447.97 334.10v-5.0M447.97 209.30v5.0M386.50 272.92h5.0M511.90 272.92h-5.0M454.12 334.10v-2.4M454.12 209.30v2.4M386.50 266.81h2.4M511.90 266.81h-2.4M460.26 334.10v-2.4M460.26 209.30v2.4M386.50 260.69h2.4M511.90 260.69h-2.4M466.41 334.10v-2.4M466.41 209.30v2.4M386.50 254.57h2.4M511.90 254.57h-2.4M472.56 334.10v-2.4M472.56 209.30v2.4M386.50 248.45h2.4M511.90 248.45h-2.4M478.71 334.10v-5.0M478.71 209.30v5.0M386.50 242.34h5.0M511.90 242.34h-5.0M484.85 334.10v-2.4M484.85 209.30v2.4M386.50 236.22h2.4M511.90 236.22h-2.4M491.00 334.10v-2.4M491.00 209.30v2.4M386.50 230.10h2.4M511.90 230.10h-2.4M497.15 334.10v-2.4M497.15 209.30v2.4M386.50 223.98h2.4M511.90 223.98h-2.4M503.29 334.10v-2.4M503.29 209.30v2.4M386.50 217.86h2.4M511.90 217.86h-2.4M509.44 334.10v-5.0M509.44 209.30v5.0M386.50 211.75h5.0M511.90 211.75h-5.0" stroke="#111" stroke-width="1.15" fill="none"/>
<text x="417.24" y="340.90" class="tl" text-anchor="middle">250</text>
<text x="385.80" y="306.21" class="tl" text-anchor="end">250</text>
<text x="447.97" y="340.90" class="tl" text-anchor="middle">500</text>
<text x="385.80" y="275.62" class="tl" text-anchor="end">500</text>
<text x="478.71" y="340.90" class="tl" text-anchor="middle">750</text>
<text x="385.80" y="245.04" class="tl" text-anchor="end">750</text>
<text x="509.44" y="340.90" class="tl" text-anchor="middle">1000</text>
<text x="385.80" y="214.45" class="tl" text-anchor="end">1000</text>
<rect x="85.70" y="376.40" width="124.80" height="125.20" fill="none" stroke="#111" stroke-width="1.6"/>
<path d="M91.82 501.60v-2.4M91.82 376.40v2.4M85.70 495.46h2.4M210.50 495.46h-2.4M97.94 501.60v-2.4M97.94 376.40v2.4M85.70 489.33h2.4M210.50 489.33h-2.4M104.05 501.60v-2.4M104.05 376.40v2.4M85.70 483.19h2.4M210.50 483.19h-2.4M110.17 501.60v-2.4M110.17 376.40v2.4M85.70 477.05h2.4M210.50 477.05h-2.4M116.29 501.60v-5.0M116.29 376.40v5.0M85.70 470.91h5.0M210.50 470.91h-5.0M122.41 501.60v-2.4M122.41 376.40v2.4M85.70 464.78h2.4M210.50 464.78h-2.4M128.52 501.60v-2.4M128.52 376.40v2.4M85.70 458.64h2.4M210.50 458.64h-2.4M134.64 501.60v-2.4M134.64 376.40v2.4M85.70 452.50h2.4M210.50 452.50h-2.4M140.76 501.60v-2.4M140.76 376.40v2.4M85.70 446.36h2.4M210.50 446.36h-2.4M146.88 501.60v-5.0M146.88 376.40v5.0M85.70 440.23h5.0M210.50 440.23h-5.0M152.99 501.60v-2.4M152.99 376.40v2.4M85.70 434.09h2.4M210.50 434.09h-2.4M159.11 501.60v-2.4M159.11 376.40v2.4M85.70 427.95h2.4M210.50 427.95h-2.4M165.23 501.60v-2.4M165.23 376.40v2.4M85.70 421.82h2.4M210.50 421.82h-2.4M171.35 501.60v-2.4M171.35 376.40v2.4M85.70 415.68h2.4M210.50 415.68h-2.4M177.46 501.60v-5.0M177.46 376.40v5.0M85.70 409.54h5.0M210.50 409.54h-5.0M183.58 501.60v-2.4M183.58 376.40v2.4M85.70 403.40h2.4M210.50 403.40h-2.4M189.70 501.60v-2.4M189.70 376.40v2.4M85.70 397.27h2.4M210.50 397.27h-2.4M195.82 501.60v-2.4M195.82 376.40v2.4M85.70 391.13h2.4M210.50 391.13h-2.4M201.94 501.60v-2.4M201.94 376.40v2.4M85.70 384.99h2.4M210.50 384.99h-2.4M208.05 501.60v-5.0M208.05 376.40v5.0M85.70 378.85h5.0M210.50 378.85h-5.0" stroke="#111" stroke-width="1.15" fill="none"/>
<text x="116.29" y="508.40" class="tl" text-anchor="middle">250</text>
<text x="85.00" y="473.61" class="tl" text-anchor="end">250</text>
<text x="146.88" y="508.40" class="tl" text-anchor="middle">500</text>
<text x="85.00" y="442.93" class="tl" text-anchor="end">500</text>
<text x="177.46" y="508.40" class="tl" text-anchor="middle">750</text>
<text x="85.00" y="412.24" class="tl" text-anchor="end">750</text>
<text x="208.05" y="508.40" class="tl" text-anchor="middle">1000</text>
<text x="85.00" y="381.55" class="tl" text-anchor="end">1000</text>
<rect x="235.10" y="376.50" width="125.10" height="125.00" fill="none" stroke="#111" stroke-width="1.6"/>
<path d="M241.23 501.50v-2.4M241.23 376.50v2.4M235.10 495.37h2.4M360.20 495.37h-2.4M247.36 501.50v-2.4M247.36 376.50v2.4M235.10 489.25h2.4M360.20 489.25h-2.4M253.50 501.50v-2.4M253.50 376.50v2.4M235.10 483.12h2.4M360.20 483.12h-2.4M259.63 501.50v-2.4M259.63 376.50v2.4M235.10 476.99h2.4M360.20 476.99h-2.4M265.76 501.50v-5.0M265.76 376.50v5.0M235.10 470.86h5.0M360.20 470.86h-5.0M271.89 501.50v-2.4M271.89 376.50v2.4M235.10 464.74h2.4M360.20 464.74h-2.4M278.03 501.50v-2.4M278.03 376.50v2.4M235.10 458.61h2.4M360.20 458.61h-2.4M284.16 501.50v-2.4M284.16 376.50v2.4M235.10 452.48h2.4M360.20 452.48h-2.4M290.29 501.50v-2.4M290.29 376.50v2.4M235.10 446.35h2.4M360.20 446.35h-2.4M296.42 501.50v-5.0M296.42 376.50v5.0M235.10 440.23h5.0M360.20 440.23h-5.0M302.56 501.50v-2.4M302.56 376.50v2.4M235.10 434.10h2.4M360.20 434.10h-2.4M308.69 501.50v-2.4M308.69 376.50v2.4M235.10 427.97h2.4M360.20 427.97h-2.4M314.82 501.50v-2.4M314.82 376.50v2.4M235.10 421.84h2.4M360.20 421.84h-2.4M320.95 501.50v-2.4M320.95 376.50v2.4M235.10 415.72h2.4M360.20 415.72h-2.4M327.09 501.50v-5.0M327.09 376.50v5.0M235.10 409.59h5.0M360.20 409.59h-5.0M333.22 501.50v-2.4M333.22 376.50v2.4M235.10 403.46h2.4M360.20 403.46h-2.4M339.35 501.50v-2.4M339.35 376.50v2.4M235.10 397.33h2.4M360.20 397.33h-2.4M345.48 501.50v-2.4M345.48 376.50v2.4M235.10 391.21h2.4M360.20 391.21h-2.4M351.61 501.50v-2.4M351.61 376.50v2.4M235.10 385.08h2.4M360.20 385.08h-2.4M357.75 501.50v-5.0M357.75 376.50v5.0M235.10 378.95h5.0M360.20 378.95h-5.0" stroke="#111" stroke-width="1.15" fill="none"/>
<text x="265.76" y="508.30" class="tl" text-anchor="middle">250</text>
<text x="234.40" y="473.56" class="tl" text-anchor="end">250</text>
<text x="296.42" y="508.30" class="tl" text-anchor="middle">500</text>
<text x="234.40" y="442.93" class="tl" text-anchor="end">500</text>
<text x="327.09" y="508.30" class="tl" text-anchor="middle">750</text>
<text x="234.40" y="412.29" class="tl" text-anchor="end">750</text>
<text x="357.75" y="508.30" class="tl" text-anchor="middle">1000</text>
<text x="234.40" y="381.65" class="tl" text-anchor="end">1000</text>
<rect x="386.50" y="377.40" width="125.30" height="125.00" fill="none" stroke="#111" stroke-width="1.6"/>
<path d="M392.64 502.40v-2.4M392.64 377.40v2.4M386.50 496.27h2.4M511.80 496.27h-2.4M398.78 502.40v-2.4M398.78 377.40v2.4M386.50 490.15h2.4M511.80 490.15h-2.4M404.93 502.40v-2.4M404.93 377.40v2.4M386.50 484.02h2.4M511.80 484.02h-2.4M411.07 502.40v-2.4M411.07 377.40v2.4M386.50 477.89h2.4M511.80 477.89h-2.4M417.21 502.40v-5.0M417.21 377.40v5.0M386.50 471.76h5.0M511.80 471.76h-5.0M423.35 502.40v-2.4M423.35 377.40v2.4M386.50 465.64h2.4M511.80 465.64h-2.4M429.50 502.40v-2.4M429.50 377.40v2.4M386.50 459.51h2.4M511.80 459.51h-2.4M435.64 502.40v-2.4M435.64 377.40v2.4M386.50 453.38h2.4M511.80 453.38h-2.4M441.78 502.40v-2.4M441.78 377.40v2.4M386.50 447.25h2.4M511.80 447.25h-2.4M447.92 502.40v-5.0M447.92 377.40v5.0M386.50 441.13h5.0M511.80 441.13h-5.0M454.06 502.40v-2.4M454.06 377.40v2.4M386.50 435.00h2.4M511.80 435.00h-2.4M460.21 502.40v-2.4M460.21 377.40v2.4M386.50 428.87h2.4M511.80 428.87h-2.4M466.35 502.40v-2.4M466.35 377.40v2.4M386.50 422.74h2.4M511.80 422.74h-2.4M472.49 502.40v-2.4M472.49 377.40v2.4M386.50 416.62h2.4M511.80 416.62h-2.4M478.63 502.40v-5.0M478.63 377.40v5.0M386.50 410.49h5.0M511.80 410.49h-5.0M484.77 502.40v-2.4M484.77 377.40v2.4M386.50 404.36h2.4M511.80 404.36h-2.4M490.92 502.40v-2.4M490.92 377.40v2.4M386.50 398.23h2.4M511.80 398.23h-2.4M497.06 502.40v-2.4M497.06 377.40v2.4M386.50 392.11h2.4M511.80 392.11h-2.4M503.20 502.40v-2.4M503.20 377.40v2.4M386.50 385.98h2.4M511.80 385.98h-2.4M509.34 502.40v-5.0M509.34 377.40v5.0M386.50 379.85h5.0M511.80 379.85h-5.0" stroke="#111" stroke-width="1.15" fill="none"/>
<text x="417.21" y="509.20" class="tl" text-anchor="middle">250</text>
<text x="385.80" y="474.46" class="tl" text-anchor="end">250</text>
<text x="447.92" y="509.20" class="tl" text-anchor="middle">500</text>
<text x="385.80" y="443.83" class="tl" text-anchor="end">500</text>
<text x="478.63" y="509.20" class="tl" text-anchor="middle">750</text>
<text x="385.80" y="413.19" class="tl" text-anchor="end">750</text>
<text x="509.34" y="509.20" class="tl" text-anchor="middle">1000</text>
<text x="385.80" y="382.55" class="tl" text-anchor="end">1000</text>
<text x="272.32" y="12.62" class="lb" style="font-size:17px" textLength="49.79" lengthAdjust="spacing">DAY 0</text>
<text x="72.62" y="89.64" class="lb" style="font-size:17px" textLength="134.28" lengthAdjust="spacing">NO&#160;&#160;CYTOKINES</text>
<text x="128.20" y="198.62" class="lb" style="font-size:17px" textLength="49.15" lengthAdjust="spacing">DAY 2</text>
<text x="279.48" y="198.62" class="lb" style="font-size:17px" textLength="48.67" lengthAdjust="spacing">DAY 4</text>
<text x="432.88" y="196.74" class="lb" style="font-size:17px" textLength="48.99" lengthAdjust="spacing">DAY 6</text>
<text x="36.32" y="257.22" class="lb" style="font-size:17px" textLength="31.17" lengthAdjust="spacing">IL-3</text>
<text x="36.32" y="276.40" class="lb" style="font-size:17px" textLength="31.01" lengthAdjust="spacing">IL-6</text>
<text x="36.32" y="296.22" class="lb" style="font-size:17px" textLength="28.02" lengthAdjust="spacing">LIF</text>
<text x="38.92" y="421.26" class="lb" style="font-size:17px" textLength="35.11" lengthAdjust="spacing">TPO</text>
<text x="38.82" y="441.80" class="lb" style="font-size:17px" textLength="24.08" lengthAdjust="spacing">KL</text>
<text x="38.82" y="460.66" class="lb" style="font-size:17px" textLength="21.09" lengthAdjust="spacing">FL</text>
<text x="206.44" y="614.84" class="lb" style="font-size:17px" textLength="171.17" lengthAdjust="spacing">FORWARD SCATTER</text>
<text x="0" y="0" class="lb" style="font-size:17px" transform="translate(13.1 385.6) rotate(-90)">SIDE SCATTER</text>
<text x="0" y="0" transform="translate(2.0 617.5) scale(0.9 1)" style="font-family:'Liberation Sans',sans-serif;font-weight:bold;font-size:30.6px;fill:#111">B</text>
<path d="M23.6 31 V580.7 H508" stroke="#111" stroke-width="3.4" fill="none"/>
<path d="M23.6 22.5 L29.200000000000003 33.8 L23.6 32 L18.0 33.8 Z" fill="#111"/>
<path d="M518.4 580.7 L506.6 575.1 L508.5 580.7 L506.6 586.3000000000001 Z" fill="#111"/>
</svg></body></html>
